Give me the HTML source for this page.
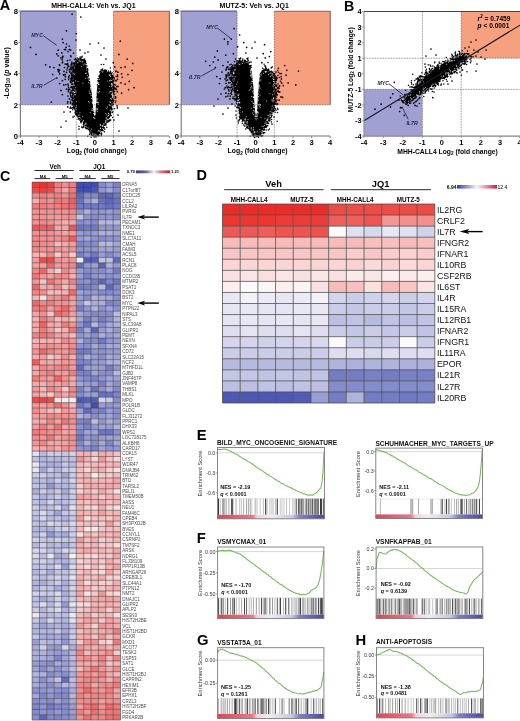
<!DOCTYPE html>
<html><head><meta charset="utf-8"><style>
html,body{margin:0;padding:0;background:#fff;}
svg{display:block;font-family:"Liberation Sans",sans-serif;filter:blur(0.5px);}
</style></head><body>
<svg width="520" height="721" viewBox="0 0 520 721">
<rect width="520" height="721" fill="#fff"/>
<rect x="20.4" y="11.2" width="55.9" height="93.6" fill="#a0a0d2"/>
<rect x="113.5" y="11.2" width="55.9" height="93.6" fill="#f7a080"/>
<path d="M20.4 11.2H76.3" stroke="#5a5a8a" stroke-width="1.3"/>
<path d="M113.5 11.2H169.4V104.8" stroke="#8a6050" stroke-width="1.1" fill="none"/>
<path d="M20.4 104.8H169.4M76.3 136.0V11.2M113.5 136.0V11.2" stroke="#333" stroke-width="0.6" stroke-dasharray="0.8 0.8" fill="none"/>
<path d="M95.0 136.5L91.0 132.0L85.5 125.5L80.0 118.0L76.0 112.5L74.0 100.0L72.8 87.5L72.2 75.0L73.0 68.0L75.0 63.5L78.5 60.5L82.0 60.0L84.8 61.5L86.4 65.0L88.9 74.6L91.2 87.5L92.4 100.0L93.3 110.0L94.2 116.0L94.8 118.0L95.4 114.0L96.0 105.0L96.7 92.0L98.4 76.0L100.5 72.0L103.5 70.5L107.0 71.0L110.0 73.5L111.8 78.0L112.5 87.5L112.2 100.0L110.5 112.5L104.5 125.0L99.5 131.5Z" fill="#000"/>
<path d="M98.6 130.3h0M108.5 115.5h0M92.2 102.1h0M110.9 76.3h0M74.6 92.7h0M75.9 92.2h0M109.1 75.0h0M104.7 124.1h0M78.6 115.6h0M100.5 124.3h0M79.9 112.9h0M103.8 123.9h0M74.3 74.4h0M102.7 126.9h0M92.6 103.3h0M100.3 125.4h0M111.9 83.9h0M110.1 91.2h0M111.8 98.2h0M82.9 83.2h0M98.3 77.6h0M97.2 102.2h0M98.1 84.5h0M82.6 116.3h0M102.0 126.0h0M88.3 128.5h0M105.3 122.2h0M98.6 83.0h0M107.4 71.4h0M74.1 98.4h0M86.0 123.6h0M102.5 125.9h0M74.9 89.6h0M100.5 128.4h0M110.6 76.1h0M82.9 121.3h0M89.4 93.1h0M83.0 61.5h0M105.8 120.6h0M74.7 94.7h0M82.1 62.0h0M89.9 80.5h0M94.1 134.6h0M87.7 128.0h0M75.3 94.8h0M98.6 77.7h0M110.8 105.7h0M80.1 60.3h0M109.9 101.9h0M91.2 87.8h0M83.3 122.3h0M85.7 123.2h0M90.5 84.1h0M76.9 113.0h0M106.8 114.9h0M96.8 99.0h0M106.8 118.1h0M93.7 113.4h0M78.0 81.4h0M110.7 102.2h0M111.6 94.3h0M95.7 134.4h0M92.2 102.6h0M91.0 89.9h0M86.7 67.7h0M86.4 66.7h0M73.1 88.0h0M75.5 87.7h0M88.0 78.3h0M74.0 85.5h0M83.8 64.9h0M92.2 110.4h0M87.0 70.6h0M97.6 109.7h0M95.9 108.9h0M85.7 64.3h0M98.9 79.1h0M98.1 131.3h0M96.6 95.2h0M80.4 60.9h0M106.1 120.6h0M96.0 110.9h0M91.8 110.0h0M97.7 83.5h0M89.2 102.8h0M96.7 108.9h0M98.1 102.9h0M89.2 91.1h0M109.0 115.1h0M109.7 86.5h0M91.6 98.6h0M102.5 125.8h0M72.8 82.2h0M111.9 83.7h0M90.3 86.9h0M75.4 107.4h0M92.2 133.2h0M98.1 102.5h0M88.8 79.9h0M109.2 92.9h0M89.6 80.5h0M106.9 119.3h0M111.8 91.3h0M79.8 115.0h0M111.0 102.5h0M89.3 76.8h0M94.8 118.6h0M76.2 109.9h0M102.8 72.1h0M73.8 91.9h0M106.1 121.3h0M111.5 84.2h0M97.2 92.1h0M105.7 122.0h0M111.0 80.1h0M112.2 95.2h0M94.2 118.3h0M73.4 82.3h0M93.3 117.5h0M108.4 113.3h0M72.8 73.7h0M107.3 116.4h0M107.5 107.1h0M83.3 120.5h0M81.4 66.7h0M94.0 133.8h0M84.9 63.7h0M90.6 88.9h0M109.7 75.4h0M100.0 130.4h0M75.7 80.8h0M110.1 74.4h0M89.2 77.7h0M74.2 65.9h0M90.5 87.6h0M100.4 128.2h0M108.6 113.5h0M98.9 84.1h0M81.6 119.6h0M99.2 74.5h0M99.5 91.4h0M77.8 62.8h0M72.8 81.9h0M109.7 80.9h0M106.0 117.9h0M105.8 113.7h0M97.1 102.5h0M112.2 92.2h0M85.3 78.2h0M89.2 77.5h0M98.7 92.8h0M73.8 84.8h0M91.5 91.1h0M88.7 101.5h0M108.7 115.8h0M94.7 135.9h0M106.8 108.7h0M112.0 84.0h0M112.0 85.5h0M88.8 128.2h0M77.8 62.0h0M88.7 82.4h0M74.6 92.4h0M92.7 108.6h0M73.0 79.1h0M110.0 80.6h0M85.5 73.5h0M90.2 112.5h0M90.1 83.1h0M85.8 124.5h0M90.4 83.3h0M111.5 86.7h0M97.5 111.7h0M79.5 61.0h0M109.3 105.4h0M96.8 101.3h0M73.8 73.3h0M91.6 132.1h0M110.1 110.2h0M90.3 130.4h0M73.4 92.0h0M95.7 114.1h0M76.2 107.3h0M100.2 124.7h0M97.7 99.0h0M91.1 95.5h0M75.7 63.7h0M103.8 125.1h0M87.5 75.6h0M96.5 102.6h0M107.8 81.2h0M90.3 93.7h0M79.9 117.6h0M73.2 83.7h0M75.8 91.1h0M72.7 82.6h0M98.0 82.4h0M86.8 69.0h0M97.7 85.6h0M98.1 104.3h0M74.9 64.7h0M97.3 108.8h0M72.9 85.1h0M98.8 84.5h0M91.3 88.6h0M96.4 100.0h0M73.1 82.6h0M73.5 92.2h0M99.0 88.6h0M90.8 85.4h0M110.6 98.5h0M111.5 99.4h0M89.1 77.7h0M74.4 67.9h0M80.5 61.0h0M111.4 80.6h0M110.5 91.7h0M86.6 73.2h0M109.1 104.6h0M99.3 79.3h0M76.3 101.7h0M88.3 77.0h0M74.4 92.4h0M76.4 105.8h0M102.8 71.1h0M110.6 109.9h0M91.4 129.2h0" stroke="#fff" stroke-width="0.9" stroke-linecap="round"/>
<path d="M72.2 93.2h0M98.4 134.5h0M111.1 109.1h0M106.7 127.2h0M72.8 67.5h0M86.6 128.4h0M109.7 116.8h0M115.4 88.9h0M108.5 118.2h0M109.2 116.9h0M113.2 77.7h0M104.1 127.4h0M84.2 60.4h0M103.5 126.9h0M86.0 128.4h0M111.9 102.5h0M101.4 134.4h0M91.6 134.5h0M110.9 74.1h0M73.3 104.7h0M103.4 127.9h0M113.6 81.2h0M94.2 136.5h0M70.7 82.8h0M110.8 112.1h0M72.4 95.2h0M70.7 82.1h0M76.9 115.2h0M114.6 91.8h0M103.7 64.6h0M77.9 117.1h0M68.6 79.7h0M70.8 78.5h0M83.5 60.3h0M74.1 64.1h0M109.7 116.1h0M97.4 134.0h0M72.4 84.3h0M104.9 125.1h0M98.6 133.8h0M79.8 120.0h0M113.3 81.4h0M72.0 80.1h0M102.9 127.6h0M92.4 135.5h0M93.8 136.8h0M74.3 104.1h0M70.7 95.5h0M114.0 77.5h0M99.1 133.4h0M72.2 77.2h0M89.7 131.3h0M74.0 107.8h0M83.9 60.9h0M113.1 81.6h0M96.1 136.6h0M116.2 76.5h0M112.7 75.9h0M109.4 116.0h0M110.5 113.8h0M113.4 81.1h0M112.1 72.7h0M80.7 122.0h0M71.2 74.9h0M100.9 130.7h0M104.0 70.5h0M94.0 136.5h0M88.6 129.2h0M101.7 133.9h0M85.2 125.7h0M113.4 87.9h0M77.3 61.2h0M70.2 68.7h0M106.8 122.1h0M100.7 71.3h0M72.0 84.2h0M77.4 115.7h0M112.7 87.0h0M112.4 100.3h0M70.3 93.9h0M75.5 110.8h0M85.3 62.1h0M89.0 129.8h0M72.6 100.6h0M113.3 89.2h0M74.3 101.9h0M71.1 80.2h0M114.2 87.3h0M73.1 63.7h0M73.1 97.8h0M97.9 80.8h0M98.4 133.5h0M83.2 60.1h0M74.2 116.3h0M111.6 75.2h0M115.4 102.4h0M71.8 78.0h0M94.3 116.2h0M78.7 116.6h0M81.9 126.7h0M88.5 129.5h0M112.9 77.3h0M112.2 109.0h0M108.8 121.6h0M70.8 80.3h0M72.4 70.9h0M72.6 84.0h0M115.8 97.7h0M85.5 62.7h0M73.4 108.0h0M73.2 93.7h0M73.2 92.9h0M72.3 81.5h0M74.6 105.2h0M81.4 120.8h0M72.8 88.8h0M84.3 58.9h0M112.1 105.0h0M99.1 132.3h0M81.7 121.6h0M92.1 134.9h0M73.7 100.9h0M73.9 102.6h0M112.7 112.1h0M72.3 97.7h0M72.8 93.7h0M75.5 113.7h0M69.3 75.4h0M72.9 89.8h0M70.4 67.0h0M71.9 86.8h0M88.3 128.9h0M75.4 113.0h0M93.7 112.4h0M112.9 89.3h0M72.2 80.2h0M86.9 66.0h0M83.1 60.0h0M114.8 87.7h0M115.1 98.5h0M73.0 93.1h0M71.0 99.9h0M110.6 71.3h0M110.6 119.9h0M102.7 127.4h0M72.1 66.8h0M83.8 125.1h0M78.0 60.8h0M80.8 121.2h0M72.2 75.6h0M99.2 132.8h0M71.7 74.1h0M81.0 122.8h0M113.7 93.2h0M112.7 117.5h0M110.2 114.2h0M76.1 113.9h0M80.3 59.9h0M71.8 82.5h0M72.4 96.1h0M91.1 133.6h0M75.7 58.5h0M72.8 68.7h0M113.2 86.0h0M77.3 114.9h0M82.9 127.8h0M105.7 70.2h0M112.7 100.6h0M114.3 79.1h0M99.2 135.8h0M112.7 77.3h0M91.3 135.1h0M101.4 129.4h0M74.3 65.0h0M78.2 60.0h0M113.7 84.6h0M112.9 90.2h0M111.5 77.1h0M69.2 69.7h0M76.5 61.4h0M113.3 85.9h0M81.8 127.3h0M71.0 90.9h0M91.2 132.2h0M76.2 62.4h0M95.7 135.8h0M103.1 130.5h0M75.0 112.2h0M108.6 116.7h0M75.9 114.8h0M101.1 135.7h0M96.0 137.0h0M102.7 69.1h0M80.0 59.9h0M112.6 99.5h0M100.8 131.0h0M93.6 135.1h0M110.2 72.7h0M100.8 71.2h0M80.8 60.0h0M113.4 104.4h0M112.5 77.8h0M112.0 79.6h0M72.2 104.9h0M80.9 119.3h0M81.8 57.8h0M86.1 63.6h0M109.2 117.2h0M75.3 63.2h0M75.0 109.0h0M112.5 112.6h0M89.9 131.1h0M72.0 66.6h0M73.6 98.6h0M84.1 60.4h0M105.0 125.2h0M83.6 123.7h0M72.5 88.4h0M74.7 64.1h0M71.3 69.0h0M110.2 120.6h0M74.0 108.2h0M87.8 70.4h0M91.3 132.6h0M112.8 81.8h0M83.4 124.7h0M72.7 109.7h0M98.2 136.1h0M115.4 85.0h0M110.5 113.6h0M109.9 119.7h0M101.2 64.5h0M78.9 118.2h0M71.9 78.8h0M112.0 78.7h0M113.8 91.1h0M109.6 120.6h0M74.3 62.9h0M83.5 60.2h0M112.1 79.4h0M82.2 56.3h0M83.4 122.7h0M110.2 73.5h0M71.7 108.3h0M115.3 80.4h0M72.8 89.8h0M81.0 121.8h0M72.1 71.1h0M70.9 97.1h0M80.0 59.7h0M104.8 129.3h0M72.7 103.4h0M94.3 137.0h0M102.3 69.4h0M102.3 129.7h0M83.9 125.0h0M87.8 70.1h0M79.0 126.6h0M75.5 112.3h0M106.0 124.2h0M80.6 58.7h0M79.7 59.0h0M97.1 135.2h0M73.9 103.1h0M77.6 57.9h0M107.9 122.1h0M72.4 90.8h0M109.8 72.5h0M70.0 72.0h0M100.0 133.3h0M90.0 132.9h0M110.4 68.0h0M110.1 72.3h0M85.6 61.2h0M81.9 120.8h0M108.4 71.1h0M70.6 92.4h0M110.7 112.1h0M74.7 107.5h0M104.4 131.7h0M71.3 67.2h0M76.8 114.9h0M94.3 136.5h0M112.6 89.9h0M113.1 99.5h0M99.6 72.1h0M101.0 70.1h0M99.8 133.5h0M72.5 67.4h0M87.8 70.1h0M112.3 102.4h0M112.9 76.5h0M112.8 92.0h0M91.7 133.0h0M86.0 63.4h0M111.7 77.5h0M72.2 77.4h0M72.4 98.6h0M85.0 61.0h0M91.1 137.3h0M81.5 57.0h0M102.2 129.2h0M73.1 97.5h0M72.3 98.9h0M72.8 97.8h0M112.8 101.0h0M85.0 61.7h0M80.3 59.5h0M71.8 84.6h0M75.6 61.2h0M113.8 91.2h0M112.3 82.2h0M114.3 88.9h0M75.4 62.4h0M81.5 59.9h0M111.2 115.5h0M73.6 66.3h0M110.2 113.5h0M80.1 57.0h0M74.3 102.1h0M89.5 134.4h0M77.0 114.2h0M113.9 94.5h0M70.7 64.9h0M75.6 111.8h0M98.1 78.4h0M114.7 94.6h0M95.3 136.2h0M70.6 107.0h0M113.2 80.5h0M87.7 136.3h0M72.8 87.0h0M78.4 58.9h0M101.5 133.0h0M72.6 87.8h0M102.3 70.5h0M80.8 119.4h0M111.7 106.0h0M77.6 58.1h0M112.3 98.7h0M113.7 100.4h0M112.8 100.3h0M110.6 114.9h0M75.0 106.5h0M111.5 75.5h0M76.1 62.2h0M73.1 93.2h0M73.5 106.6h0M108.0 120.3h0M72.1 73.2h0M106.0 123.2h0M81.0 121.0h0M90.0 130.9h0M108.5 72.2h0M105.8 125.0h0M113.7 86.4h0M89.8 131.0h0M76.9 59.9h0M87.1 128.1h0M114.7 108.8h0M78.8 118.7h0M74.9 105.8h0M71.6 64.1h0M73.0 102.3h0M73.9 100.5h0M85.5 62.0h0M78.0 60.8h0M106.0 123.9h0M71.3 92.7h0M111.8 110.1h0M73.6 103.4h0M74.9 109.6h0M113.0 75.2h0M82.0 59.4h0M106.9 121.1h0M73.8 98.6h0M76.9 114.5h0M70.7 81.8h0M70.4 81.4h0M110.9 112.0h0M108.4 117.7h0M71.4 77.0h0M69.5 71.9h0M72.3 99.3h0M71.0 87.5h0M78.2 119.3h0M112.7 80.2h0M106.3 70.8h0M112.2 103.6h0M113.5 101.8h0M78.1 60.1h0M105.3 70.3h0M86.3 128.5h0M81.7 121.3h0M85.5 127.4h0M76.7 113.6h0M114.7 84.8h0M72.0 65.0h0M104.1 127.9h0M71.9 69.1h0M111.6 107.7h0M105.3 124.0h0M108.7 117.7h0M112.3 100.7h0M111.5 73.9h0M91.4 133.6h0M79.4 118.5h0M72.2 90.4h0M72.1 79.0h0M87.5 128.8h0M112.6 82.6h0M74.1 101.8h0M115.8 101.0h0M72.7 94.9h0M69.9 71.2h0M98.1 133.4h0M112.9 101.9h0M80.1 58.0h0M75.9 59.4h0M113.8 97.1h0M108.7 121.4h0M71.7 75.4h0M76.7 115.3h0M73.4 63.1h0M108.2 118.4h0M72.6 107.8h0M75.0 106.7h0M112.7 78.2h0M111.2 108.6h0M73.1 102.0h0M97.4 84.9h0M111.9 76.9h0M85.1 60.3h0M115.7 89.0h0M71.7 96.9h0M112.9 82.5h0M71.9 61.9h0M102.1 130.4h0M91.3 132.8h0M74.6 59.6h0M74.2 63.7h0M104.5 125.3h0M83.8 126.9h0M83.8 124.9h0M71.7 90.8h0M72.1 73.0h0M106.3 70.4h0M85.4 125.6h0M71.5 73.0h0M104.9 70.0h0M110.7 112.6h0M83.6 126.4h0M85.6 127.5h0M87.5 68.8h0M111.5 73.4h0" stroke="#000" stroke-width="1.5" stroke-linecap="round"/>
<path d="M72.1 14.2h0M66.5 30.8h0M76.3 33.6h0M62.4 39.1h0M63.1 42.6h0M66.5 44.0h0M69.3 46.0h0M30.5 47.4h0M58.2 50.2h0M64.5 49.5h0M68.0 51.6h0M70.7 50.2h0M36.0 54.4h0M58.2 55.8h0M62.4 57.8h0M70.7 55.8h0M73.5 53.0h0M45.7 64.8h0M49.9 66.9h0M54.0 67.6h0M59.6 65.5h0M62.4 62.7h0M65.2 64.0h0M58.2 69.6h0M52.7 74.5h0M59.6 73.8h0M63.8 75.2h0M66.5 72.4h0M56.8 78.0h0M62.4 80.7h0M65.2 79.3h0M59.6 83.5h0M63.8 84.9h0M61.0 90.4h0M66.5 89.0h0M62.4 94.6h0M68.0 96.0h0M51.3 102.2h0M69.3 98.8h0M120.3 41.2h0M118.9 54.4h0M127.2 59.2h0M132.7 63.4h0M121.0 67.6h0M125.1 66.9h0M132.0 70.3h0M116.1 71.0h0M121.6 73.8h0M127.9 74.5h0M122.3 77.3h0M117.5 75.2h0M116.1 80.7h0M121.0 82.8h0M129.3 81.4h0M125.1 84.2h0M134.1 87.7h0M128.6 89.7h0M121.6 93.2h0M114.7 66.9h0M113.3 62.7h0M117.5 79.3h0M80.8 17.0h0M90.0 44.0h0M98.5 43.0h0M104.0 48.0h0M80.0 50.0h0M85.0 53.0h0M76.0 40.0h0M88.0 52.0h0M101.0 55.0h0M106.0 59.0h0M64.0 112.0h0M66.0 121.0h0M70.0 108.0h0M73.0 117.0h0M61.0 127.0h0M79.0 129.0h0M118.0 115.0h0M114.0 120.0h0M128.0 108.0h0M119.0 131.0h0M70.0 60.0h0M68.0 66.0h0M67.0 70.0h0M69.0 78.0h0M68.0 84.0h0M65.9 84.6h0M71.4 78.9h0M68.4 91.6h0M68.7 76.8h0M67.8 101.8h0M67.5 103.0h0M67.8 106.9h0M70.6 102.0h0M68.7 66.6h0M67.3 68.0h0M71.7 63.2h0M71.2 87.2h0M65.4 76.7h0M67.6 63.5h0M70.1 92.8h0M70.3 111.8h0M68.3 85.8h0M70.5 107.9h0M70.6 103.2h0M68.6 87.8h0M70.9 69.4h0M69.8 89.3h0M68.3 89.8h0M71.1 73.2h0M67.9 65.1h0M58.4 71.1h0M60.8 58.0h0M66.6 64.4h0M62.2 59.8h0M67.5 60.6h0M64.5 67.5h0M66.1 47.4h0M59.7 70.0h0M65.1 74.5h0M56.8 53.9h0M64.0 71.4h0M59.1 72.0h0M62.6 56.4h0M69.3 49.6h0M70.9 56.6h0M61.8 52.9h0M63.5 74.6h0M59.5 64.8h0M63.0 56.3h0M58.1 69.7h0M62.6 62.0h0M65.6 49.6h0M117.9 72.2h0M116.4 89.4h0M117.7 86.3h0M117.5 76.4h0M118.0 86.5h0M113.1 83.8h0M115.8 71.4h0M112.4 76.8h0M113.4 81.0h0M116.7 86.6h0M117.1 105.9h0M117.4 107.9h0M115.5 96.8h0M117.3 91.7h0" stroke="#000" stroke-width="1.7" stroke-linecap="round"/>
<path d="M20.4 11.2V136.0H169.4" stroke="#777" stroke-width="1.1" fill="none"/>
<path d="M20.4 136.0v2M39.0 136.0v2M57.7 136.0v2M76.3 136.0v2M94.9 136.0v2M113.5 136.0v2M132.2 136.0v2M150.8 136.0v2M169.4 136.0v2M20.4 136.0h-2M20.4 104.8h-2M20.4 73.6h-2M20.4 42.4h-2M20.4 11.2h-2" stroke="#777" stroke-width="0.8"/>
<text x="20.4" y="144.6" font-size="7.6" font-weight="bold" text-anchor="middle" fill="#000">-4</text>
<text x="39.0" y="144.6" font-size="7.6" font-weight="bold" text-anchor="middle" fill="#000">-3</text>
<text x="57.7" y="144.6" font-size="7.6" font-weight="bold" text-anchor="middle" fill="#000">-2</text>
<text x="76.3" y="144.6" font-size="7.6" font-weight="bold" text-anchor="middle" fill="#000">-1</text>
<text x="94.9" y="144.6" font-size="7.6" font-weight="bold" text-anchor="middle" fill="#000">0</text>
<text x="113.5" y="144.6" font-size="7.6" font-weight="bold" text-anchor="middle" fill="#000">1</text>
<text x="132.2" y="144.6" font-size="7.6" font-weight="bold" text-anchor="middle" fill="#000">2</text>
<text x="150.8" y="144.6" font-size="7.6" font-weight="bold" text-anchor="middle" fill="#000">3</text>
<text x="169.4" y="144.6" font-size="7.6" font-weight="bold" text-anchor="middle" fill="#000">4</text>
<text x="18.1" y="138.7" font-size="7.6" font-weight="bold" text-anchor="end" fill="#000">0</text>
<text x="18.1" y="107.5" font-size="7.6" font-weight="bold" text-anchor="end" fill="#000">2</text>
<text x="18.1" y="76.3" font-size="7.6" font-weight="bold" text-anchor="end" fill="#000">4</text>
<text x="18.1" y="45.1" font-size="7.6" font-weight="bold" text-anchor="end" fill="#000">6</text>
<text x="18.1" y="13.9" font-size="7.6" font-weight="bold" text-anchor="end" fill="#000">8</text>
<text x="93.4" y="7.6" font-size="7.0" font-weight="bold" text-anchor="middle" fill="#000">MHH-CALL4: Veh vs. JQ1</text>
<text x="96.8" y="153.4" font-size="6.85" font-weight="bold" text-anchor="middle" fill="#000">Log<tspan font-size="4.7" dy="1.5">2</tspan><tspan dy="-1.5"> (fold change)</tspan></text>
<text x="31.2" y="36.6" font-size="5.3" font-weight="bold" font-style="italic" text-anchor="start" fill="#2a2a48">MYC</text>
<path d="M43.2 35.6L56.8 45.4" stroke="#1a1a3a" stroke-width="0.8"/>
<text x="31.2" y="87.8" font-size="5.3" font-weight="bold" font-style="italic" text-anchor="start" fill="#2a2a48">IL7R</text>
<path d="M43.8 85.2L56.1 78.0" stroke="#1a1a3a" stroke-width="0.8"/>
<rect x="181.2" y="11.2" width="55.9" height="93.6" fill="#a0a0d2"/>
<rect x="274.3" y="11.2" width="55.9" height="93.6" fill="#f7a080"/>
<path d="M181.2 11.2H237.1" stroke="#5a5a8a" stroke-width="1.3"/>
<path d="M274.3 11.2H330.2V104.8" stroke="#8a6050" stroke-width="1.1" fill="none"/>
<path d="M181.2 104.8H330.2M237.1 136.0V11.2M274.3 136.0V11.2" stroke="#333" stroke-width="0.6" stroke-dasharray="0.8 0.8" fill="none"/>
<path d="M256.0 136.5L252.0 132.0L247.0 125.5L242.0 115.0L239.0 105.0L237.0 95.0L234.5 87.0L232.5 80.0L232.5 73.0L234.5 67.5L238.0 63.5L242.0 62.0L246.5 62.5L249.5 65.0L251.5 70.0L252.8 80.0L253.7 92.0L254.5 105.0L255.3 113.0L256.0 117.0L257.0 112.0L257.6 102.0L258.0 92.0L258.8 82.0L260.0 75.5L262.0 72.0L265.5 70.5L269.5 71.0L272.5 74.0L274.5 79.0L275.0 88.0L274.5 100.0L272.0 112.5L266.5 124.0L261.0 131.5Z" fill="#000"/>
<path d="M264.5 125.8h0M271.0 114.0h0M269.9 83.2h0M270.3 76.6h0M235.5 66.5h0M259.6 80.1h0M257.8 108.2h0M256.7 135.6h0M237.5 95.1h0M253.2 90.8h0M259.9 81.3h0M238.3 100.9h0M264.9 123.3h0M256.4 116.6h0M267.7 120.0h0M238.3 101.0h0M245.1 121.3h0M248.1 125.9h0M258.2 113.0h0M274.0 79.2h0M263.1 71.6h0M251.0 73.6h0M272.6 76.0h0M258.3 105.0h0M251.9 74.2h0M259.0 91.9h0M273.3 99.1h0M251.6 131.1h0M235.6 66.7h0M264.9 71.6h0M273.5 79.5h0M267.7 120.3h0M237.5 90.4h0M273.6 77.5h0M254.6 107.5h0M257.7 114.8h0M273.7 81.5h0M252.0 77.7h0M260.1 104.3h0M239.5 64.3h0M239.0 103.6h0M256.8 135.6h0M256.1 116.5h0M252.0 101.6h0M251.6 81.4h0M245.7 119.8h0M261.3 75.0h0M260.4 75.5h0M267.0 119.6h0M268.6 74.7h0M273.8 84.7h0M263.4 73.3h0M251.1 128.1h0M253.7 93.9h0M240.4 107.8h0M240.1 107.6h0M245.7 122.5h0M257.5 116.2h0M253.6 110.6h0M257.1 118.4h0M253.4 107.4h0M250.9 72.1h0M246.3 116.7h0M254.4 132.2h0M247.2 123.8h0M271.1 75.3h0M238.8 103.1h0M253.7 114.6h0M258.8 96.5h0M274.3 83.0h0M260.2 88.2h0M258.7 84.8h0M257.5 131.2h0M254.1 112.0h0M233.9 73.6h0M273.4 87.9h0M233.9 72.9h0M260.7 74.9h0M253.4 106.0h0M269.0 71.0h0M239.7 102.5h0M238.6 100.3h0M253.5 97.0h0M248.0 119.6h0M247.3 125.6h0M257.8 99.1h0M258.1 104.4h0M257.8 111.8h0M271.9 108.9h0M270.9 114.6h0M272.1 106.4h0M261.9 126.1h0M260.9 80.0h0M273.1 100.6h0M237.8 63.9h0M234.1 78.7h0M272.9 105.4h0M273.2 101.9h0M258.1 94.6h0M250.4 72.2h0M259.3 106.2h0M250.3 75.4h0M258.2 93.5h0M268.8 115.7h0M253.7 97.5h0M251.0 76.3h0M265.9 71.8h0M235.1 76.8h0M269.9 116.1h0M266.3 122.6h0M244.8 119.3h0M233.4 71.3h0M246.1 123.3h0M242.5 111.9h0M272.9 78.4h0M235.4 69.7h0M272.0 99.7h0M272.1 110.8h0M237.7 82.1h0M274.3 79.7h0M244.5 119.7h0M271.9 112.3h0M254.5 131.8h0M273.9 84.2h0M239.9 102.7h0M232.9 76.3h0M254.9 110.8h0M236.8 84.2h0M258.9 85.8h0M235.2 86.6h0M273.6 91.1h0M238.6 97.6h0M253.8 129.8h0M253.3 103.5h0M234.6 70.1h0M272.3 73.9h0M245.7 118.8h0M232.6 77.1h0M238.0 95.0h0M268.0 71.0h0M253.7 132.1h0M274.1 97.8h0M247.2 121.8h0M258.6 86.4h0M255.8 116.2h0M274.2 94.1h0M252.2 88.0h0M252.7 79.8h0M270.5 72.4h0M273.5 77.1h0M256.1 119.8h0M246.7 124.8h0M274.0 98.6h0M238.3 95.7h0M251.2 69.5h0M258.5 100.3h0M265.0 118.7h0M266.1 71.2h0M264.3 125.8h0M234.3 69.7h0M260.3 131.4h0M258.4 87.5h0M258.6 96.9h0M261.2 73.5h0M251.6 96.7h0M269.9 93.6h0M250.7 129.8h0M246.3 123.0h0M260.1 75.9h0M247.6 122.0h0M253.7 92.8h0M259.8 129.6h0M253.1 96.8h0M260.6 74.9h0M250.9 69.3h0M257.3 112.7h0M239.1 94.2h0M233.8 72.3h0M251.6 86.3h0M252.4 91.8h0M251.3 130.1h0M258.2 90.2h0M233.7 72.5h0M265.4 71.7h0M251.2 108.2h0M266.6 101.0h0M259.8 104.8h0M265.8 121.8h0M239.3 99.3h0M233.6 73.2h0M260.7 74.6h0M254.1 104.0h0M261.0 117.5h0M250.0 67.2h0M253.0 103.1h0M255.3 118.2h0M232.5 75.5h0M254.7 134.1h0M260.0 95.1h0M255.0 134.8h0M242.3 63.5h0M252.4 81.6h0M269.9 114.1h0M250.8 87.7h0M259.1 85.1h0M274.2 85.7h0M251.6 74.9h0M233.7 82.1h0M251.9 76.9h0M250.3 83.9h0M240.0 64.0h0M273.4 98.1h0M254.1 99.4h0M267.9 118.3h0M265.8 72.4h0M267.9 115.3h0M258.8 90.0h0M253.4 127.8h0M244.4 62.8h0M237.8 63.8h0M257.9 112.4h0M273.0 86.3h0M274.1 81.2h0M258.6 88.6h0M234.1 80.0h0M238.1 95.4h0M249.2 90.4h0M253.9 97.6h0M269.1 118.2h0M271.1 72.8h0M272.4 94.9h0M233.6 81.7h0M266.3 71.0h0M266.9 120.5h0M251.1 70.4h0M252.6 113.0h0M257.6 111.8h0M270.2 111.6h0M255.9 132.1h0M272.2 100.9h0M263.2 126.5h0M233.6 73.5h0M233.1 73.7h0M259.1 132.6h0M266.2 123.7h0M252.0 83.2h0M260.2 107.6h0M250.4 70.5h0M259.3 86.8h0M253.2 129.8h0M270.0 73.6h0M251.2 75.3h0M253.3 97.6h0M239.1 102.0h0M250.2 89.1h0M260.6 105.2h0M251.3 127.9h0M255.0 116.3h0M243.8 118.4h0M273.8 98.0h0M274.4 90.5h0M252.9 81.6h0" stroke="#fff" stroke-width="0.9" stroke-linecap="round"/>
<path d="M278.0 75.5h0M275.4 80.8h0M265.6 66.0h0M240.3 114.2h0M262.8 70.5h0M273.0 109.0h0M264.7 126.7h0M271.6 113.6h0M243.0 120.7h0M236.0 95.5h0M232.9 83.7h0M269.6 119.9h0M231.8 73.7h0M274.0 108.1h0M234.2 65.1h0M265.2 70.1h0M248.0 57.9h0M267.2 125.8h0M268.3 130.0h0M239.5 108.2h0M241.8 61.2h0M274.6 99.1h0M231.3 69.9h0M239.1 58.8h0M271.6 119.6h0M277.6 87.4h0M242.5 60.9h0M258.2 136.4h0M242.0 118.6h0M229.2 77.4h0M262.2 70.7h0M242.0 119.2h0M265.4 125.8h0M263.7 70.5h0M258.1 136.4h0M233.6 69.6h0M244.5 61.8h0M233.0 82.1h0M231.4 69.0h0M275.9 82.6h0M265.4 70.1h0M236.3 98.5h0M274.7 101.6h0M256.4 136.4h0M275.5 101.5h0M262.7 71.7h0M239.0 120.7h0M233.1 82.5h0M250.0 65.5h0M279.2 88.3h0M230.4 78.9h0M240.7 111.6h0M231.8 94.5h0M234.8 100.1h0M236.0 93.1h0M247.0 61.6h0M246.7 125.0h0M251.3 131.3h0M246.7 127.4h0M253.1 133.5h0M240.9 112.1h0M275.5 89.9h0M275.8 90.8h0M269.9 120.6h0M241.3 112.7h0M265.9 70.6h0M232.6 89.8h0M251.3 132.7h0M265.8 125.6h0M272.9 111.5h0M231.9 75.7h0M278.5 72.2h0M239.4 116.2h0M259.5 133.2h0M272.0 115.6h0M267.4 125.7h0M260.9 131.8h0M273.9 104.3h0M241.0 114.9h0M274.6 106.6h0M230.2 73.3h0M240.7 115.6h0M249.2 62.8h0M269.4 118.4h0M251.0 65.4h0M235.5 59.1h0M275.4 95.1h0M231.3 92.8h0M243.0 117.2h0M257.2 135.8h0M239.4 113.0h0M263.3 71.3h0M234.5 88.2h0M275.3 95.2h0M239.2 112.9h0M241.4 113.7h0M276.0 89.7h0M242.9 59.1h0M232.4 74.9h0M238.4 105.4h0M241.8 117.0h0M273.3 109.6h0M238.9 107.3h0M231.6 66.5h0M242.5 119.3h0M236.8 64.6h0M231.2 72.0h0M265.1 127.3h0M231.6 71.2h0M265.4 126.9h0M276.1 94.4h0M236.7 107.2h0M257.0 136.0h0M274.6 96.9h0M272.0 115.5h0M242.6 120.0h0M238.8 108.0h0M275.5 90.0h0M239.6 59.9h0M233.1 82.7h0M244.1 61.9h0M274.0 102.9h0M254.1 136.4h0M237.9 104.8h0M233.0 71.2h0M275.8 79.9h0M244.8 62.3h0M274.4 110.6h0M261.1 133.5h0M236.5 97.7h0M239.2 119.7h0M233.6 67.2h0M236.9 95.0h0M232.2 73.4h0M242.1 115.5h0M234.6 67.2h0M234.0 88.3h0M243.5 125.1h0M233.6 69.3h0M244.9 126.3h0M236.3 118.0h0M275.0 98.2h0M237.2 98.0h0M251.5 131.7h0M231.2 67.7h0M240.5 58.7h0M234.8 92.8h0M276.8 94.5h0M250.2 136.2h0M238.2 61.3h0M239.9 114.1h0M277.1 121.2h0M247.0 127.1h0M267.3 123.6h0M240.6 110.9h0M273.3 111.5h0M247.3 126.6h0M232.1 68.6h0M270.4 71.4h0M247.3 127.0h0M275.0 94.9h0M249.1 128.6h0M234.8 89.6h0M250.7 66.8h0M240.3 109.7h0M274.7 95.4h0M247.8 61.7h0M235.0 66.8h0M270.1 118.9h0M268.0 62.5h0M261.4 72.7h0M262.5 129.8h0M271.9 113.7h0M274.3 107.0h0M241.2 117.6h0M263.6 132.6h0M266.0 126.8h0M247.8 63.3h0M275.5 90.7h0M242.5 60.3h0M240.0 110.4h0M267.5 123.0h0M233.2 84.8h0M250.2 130.0h0M230.4 87.5h0M232.3 78.0h0M269.6 120.6h0M276.1 93.2h0M239.7 117.5h0M234.7 89.1h0M245.7 129.0h0M275.1 80.4h0M254.0 134.5h0M231.5 77.7h0M242.4 116.1h0M278.3 91.1h0M235.4 90.6h0M245.4 61.8h0M237.2 99.2h0M231.4 84.4h0M233.0 83.1h0M268.7 70.8h0M228.2 69.0h0M259.4 135.0h0M272.7 72.4h0M238.2 120.9h0M274.0 77.7h0M229.5 75.2h0M239.1 62.8h0M275.0 101.6h0M234.1 98.6h0M235.9 65.0h0M263.0 129.7h0M232.7 71.1h0M230.5 79.9h0M268.6 120.3h0M264.7 127.0h0M232.3 82.2h0M232.5 69.3h0M275.0 78.4h0M265.7 125.3h0M237.0 95.9h0M276.9 95.1h0M271.1 67.9h0M277.8 88.4h0M233.5 85.9h0M229.8 74.7h0M274.7 98.4h0M250.2 129.8h0M276.5 80.3h0M230.8 79.2h0M261.8 72.1h0M275.2 94.3h0M274.5 75.8h0M275.0 84.6h0M274.4 103.4h0M230.6 71.5h0M244.3 60.3h0M266.2 130.0h0M240.7 61.4h0M264.8 132.7h0M248.2 60.4h0M232.5 68.0h0M242.2 121.2h0M232.8 98.5h0M273.4 111.1h0M269.0 70.8h0M262.7 135.5h0M266.4 126.7h0M235.2 98.9h0M266.2 127.6h0M237.4 63.8h0M241.4 115.0h0M272.8 112.0h0M276.5 92.6h0M267.9 70.8h0M236.2 61.1h0M277.5 108.2h0M235.6 94.9h0M233.5 70.3h0M237.3 97.5h0M243.1 118.8h0M267.8 121.9h0M235.2 91.8h0M238.0 63.3h0M262.2 71.6h0M245.0 122.4h0M238.8 105.4h0M268.0 122.9h0M265.3 69.7h0M230.1 69.6h0M277.5 112.4h0M256.9 136.2h0M268.6 70.2h0M273.1 111.7h0M249.7 62.2h0M233.4 68.5h0M250.8 131.0h0M237.9 105.9h0M230.2 82.5h0M235.5 91.6h0M267.7 125.7h0M265.7 67.6h0M245.3 60.4h0M233.6 68.0h0M271.5 72.0h0M279.4 77.4h0M258.5 137.3h0M240.9 61.6h0M237.8 107.7h0M244.2 120.7h0M240.0 110.0h0M238.6 103.5h0M264.7 66.0h0M235.5 99.2h0M236.5 103.5h0M237.3 99.5h0M275.7 99.9h0M275.3 100.2h0M239.5 62.2h0M269.6 118.2h0M232.7 72.1h0M278.0 87.9h0M271.6 115.7h0M239.4 110.0h0M236.1 100.2h0M273.7 110.3h0M261.7 136.4h0M264.2 127.9h0M261.1 135.9h0M266.4 68.5h0M276.7 85.4h0M259.7 135.6h0M246.4 124.7h0M250.4 66.0h0M257.6 136.3h0M240.7 113.8h0M245.6 123.0h0M275.8 90.9h0M267.6 122.3h0M242.3 123.2h0M239.2 60.7h0M237.3 99.0h0M247.3 128.1h0M251.1 67.6h0M268.7 69.3h0M262.2 70.8h0M248.2 63.1h0M236.7 96.0h0M273.0 73.2h0M250.0 130.8h0M241.8 115.8h0M275.9 103.8h0M276.4 97.3h0M238.3 62.4h0M258.7 134.3h0M233.5 98.5h0M232.0 86.7h0M265.7 69.1h0M247.9 63.6h0M266.4 70.1h0M260.8 132.0h0M234.7 91.8h0M233.2 70.0h0M231.3 64.3h0M252.7 132.9h0M275.5 79.3h0M231.7 85.1h0M240.6 58.0h0M246.9 58.8h0M270.9 117.2h0M275.7 103.3h0M231.7 81.5h0M276.4 79.3h0M240.3 62.6h0M240.7 118.1h0M232.0 86.8h0M241.9 116.5h0M240.8 116.6h0M265.2 69.5h0M267.1 123.0h0M234.5 67.4h0M276.1 93.0h0M273.7 108.9h0M262.2 131.9h0M272.4 111.0h0M277.6 70.6h0M230.7 71.9h0M275.7 100.7h0M247.8 127.9h0M261.0 135.2h0M228.9 69.6h0M257.6 136.2h0M271.5 67.5h0M250.7 66.2h0M269.5 129.1h0M240.1 61.0h0M233.0 67.9h0M264.6 127.5h0M275.1 112.2h0M239.9 60.5h0M260.6 73.6h0M250.7 66.5h0M243.5 118.7h0M271.3 71.3h0M232.1 68.6h0M229.8 64.8h0M260.1 75.0h0M271.4 72.0h0M273.5 105.2h0M242.1 117.4h0M240.0 119.0h0M248.0 63.6h0M251.5 132.2h0M253.3 135.5h0M244.8 123.8h0M275.0 78.1h0M275.7 82.7h0M228.3 86.9h0M234.8 96.3h0M271.4 116.9h0M274.7 73.8h0M230.8 77.7h0M275.7 104.1h0M268.9 120.8h0M274.9 95.1h0M270.7 71.9h0M231.8 67.4h0M232.2 81.2h0M268.4 70.7h0M260.2 132.7h0M233.1 69.4h0M274.5 103.0h0M273.8 74.1h0M236.9 63.4h0M266.8 69.7h0M232.4 88.2h0M270.8 71.5h0M275.8 92.0h0M276.3 101.8h0M236.6 101.4h0M235.9 64.8h0M253.3 135.7h0M264.0 130.3h0M274.6 97.3h0M267.6 70.4h0M244.4 61.1h0M245.9 61.7h0M235.2 106.1h0M249.2 129.3h0M271.4 122.1h0M267.5 123.0h0M262.7 71.4h0M263.9 69.1h0M231.4 78.3h0M275.6 86.0h0M242.4 117.9h0M253.3 134.8h0M272.8 71.9h0M274.2 104.0h0M244.9 122.3h0M250.9 130.7h0M239.5 111.5h0M233.0 96.9h0M264.5 129.6h0M264.4 70.7h0M273.4 105.9h0M262.5 68.3h0M235.0 66.1h0M275.5 76.1h0M237.1 97.2h0M233.8 90.4h0M237.6 61.0h0M270.4 71.4h0M232.4 67.1h0M277.1 100.0h0M274.1 77.0h0M254.5 137.4h0M250.3 130.3h0M263.1 70.7h0M276.3 97.6h0M240.5 113.5h0M240.8 114.0h0M276.3 97.6h0M245.9 123.5h0M236.4 94.8h0M240.6 111.7h0M275.6 96.4h0M236.6 63.3h0M247.8 59.4h0M275.6 81.1h0M278.1 87.6h0M272.3 67.1h0M258.5 134.9h0M245.6 123.3h0M239.1 110.6h0M274.7 80.4h0M268.6 123.5h0M267.9 69.6h0M264.0 129.2h0M275.1 90.3h0M272.8 110.5h0M264.1 64.3h0M268.7 70.0h0M254.5 135.8h0M276.3 86.6h0M234.4 90.8h0M243.9 119.7h0M231.0 72.5h0M229.4 75.3h0M236.2 65.5h0M230.9 79.3h0M231.5 87.3h0M238.4 123.1h0M229.6 78.8h0M271.4 114.0h0M274.3 74.9h0M274.2 104.0h0M236.0 111.1h0M268.0 123.3h0M265.8 68.5h0M232.3 77.6h0M244.8 126.0h0M238.3 104.2h0M233.9 90.2h0M252.2 135.0h0M239.2 109.3h0M234.3 87.1h0M275.1 94.9h0M263.1 133.4h0M277.6 87.5h0M235.1 94.6h0M260.2 75.2h0M240.2 114.6h0M236.8 62.9h0M275.3 108.7h0M267.6 122.5h0M260.4 134.1h0M277.0 78.2h0M270.5 117.5h0M277.9 109.4h0M270.9 72.3h0M238.9 104.6h0M238.1 101.5h0M231.7 80.5h0M262.6 71.3h0M239.1 61.6h0M274.7 80.3h0M234.9 90.0h0M273.5 75.5h0M234.3 61.8h0M267.7 70.1h0M276.1 85.3h0M269.5 121.0h0" stroke="#000" stroke-width="1.5" stroke-linecap="round"/>
<path d="M234.1 28.7h0M239.6 35.0h0M224.4 39.1h0M231.3 39.1h0M227.9 41.9h0M227.9 44.0h0M243.8 42.6h0M246.6 47.4h0M237.6 46.8h0M217.4 50.9h0M225.8 55.1h0M233.4 53.7h0M245.9 53.0h0M214.7 57.2h0M218.1 59.9h0M205.7 61.3h0M213.3 62.0h0M209.8 65.5h0M215.4 67.6h0M227.9 62.0h0M223.0 65.5h0M216.8 76.6h0M220.2 78.7h0M219.5 83.5h0M224.4 89.0h0M225.8 93.2h0M227.9 96.0h0M230.0 98.8h0M226.0 70.0h0M228.0 74.0h0M225.0 79.0h0M229.0 83.0h0M227.0 86.0h0M230.0 68.0h0M231.0 77.0h0M229.0 91.0h0M222.0 72.0h0M221.0 94.0h0M218.0 99.0h0M214.0 106.0h0M232.0 104.0h0M228.0 108.0h0M223.0 114.0h0M236.0 115.0h0M264.6 44.7h0M270.8 51.6h0M263.2 53.7h0M265.3 57.9h0M269.4 56.5h0M261.8 62.7h0M284.7 65.5h0M286.8 70.3h0M298.5 71.0h0M278.4 68.3h0M281.2 76.6h0M286.1 75.2h0M288.1 82.8h0M295.8 84.9h0M283.3 85.6h0M282.6 97.4h0M279.1 100.2h0M279.8 91.8h0M280.5 81.4h0M276.0 72.0h0M277.0 78.0h0M278.0 84.0h0M276.0 89.0h0M277.0 95.0h0M275.0 104.0h0M276.0 110.0h0M274.0 117.0h0M272.0 124.0h0M255.0 42.0h0M252.0 48.0h0M257.0 58.0h0M251.0 62.0h0M230.2 96.0h0M228.6 89.6h0M233.4 82.7h0M231.3 90.2h0M232.6 65.3h0M231.5 73.4h0M231.4 70.1h0M227.6 79.9h0M226.3 69.0h0M229.1 87.3h0M227.2 87.8h0M226.8 67.3h0M230.8 78.9h0M228.4 72.9h0M231.8 91.3h0M228.5 93.7h0M226.3 76.4h0M230.7 93.5h0M228.0 75.8h0M226.3 77.8h0M226.0 83.3h0M230.4 87.7h0M228.7 82.8h0M226.0 74.9h0M231.4 79.2h0M227.9 66.8h0M225.3 87.5h0M226.3 80.6h0M226.4 75.2h0M225.9 96.7h0M281.3 73.5h0M278.4 87.3h0M281.7 83.2h0M277.6 91.1h0M277.1 104.5h0M281.0 96.9h0M274.4 107.6h0M278.4 91.9h0M278.3 88.6h0M281.4 78.9h0M276.1 79.1h0M277.5 103.9h0M276.1 77.2h0M274.2 103.7h0M279.9 73.5h0M279.6 85.9h0M275.9 93.3h0M274.1 87.4h0" stroke="#000" stroke-width="1.7" stroke-linecap="round"/>
<path d="M181.2 11.2V136.0H330.2" stroke="#777" stroke-width="1.1" fill="none"/>
<path d="M181.2 136.0v2M199.8 136.0v2M218.5 136.0v2M237.1 136.0v2M255.7 136.0v2M274.3 136.0v2M293.0 136.0v2M311.6 136.0v2M330.2 136.0v2M181.2 136.0h-2M181.2 104.8h-2M181.2 73.6h-2M181.2 42.4h-2M181.2 11.2h-2" stroke="#777" stroke-width="0.8"/>
<text x="181.2" y="144.6" font-size="7.6" font-weight="bold" text-anchor="middle" fill="#000">-4</text>
<text x="199.8" y="144.6" font-size="7.6" font-weight="bold" text-anchor="middle" fill="#000">-3</text>
<text x="218.5" y="144.6" font-size="7.6" font-weight="bold" text-anchor="middle" fill="#000">-2</text>
<text x="237.1" y="144.6" font-size="7.6" font-weight="bold" text-anchor="middle" fill="#000">-1</text>
<text x="255.7" y="144.6" font-size="7.6" font-weight="bold" text-anchor="middle" fill="#000">0</text>
<text x="274.3" y="144.6" font-size="7.6" font-weight="bold" text-anchor="middle" fill="#000">1</text>
<text x="293.0" y="144.6" font-size="7.6" font-weight="bold" text-anchor="middle" fill="#000">2</text>
<text x="311.6" y="144.6" font-size="7.6" font-weight="bold" text-anchor="middle" fill="#000">3</text>
<text x="330.2" y="144.6" font-size="7.6" font-weight="bold" text-anchor="middle" fill="#000">4</text>
<text x="178.9" y="138.7" font-size="7.6" font-weight="bold" text-anchor="end" fill="#000">0</text>
<text x="178.9" y="107.5" font-size="7.6" font-weight="bold" text-anchor="end" fill="#000">2</text>
<text x="178.9" y="76.3" font-size="7.6" font-weight="bold" text-anchor="end" fill="#000">4</text>
<text x="178.9" y="45.1" font-size="7.6" font-weight="bold" text-anchor="end" fill="#000">6</text>
<text x="178.9" y="13.9" font-size="7.6" font-weight="bold" text-anchor="end" fill="#000">8</text>
<text x="254.2" y="7.6" font-size="7.0" font-weight="bold" text-anchor="middle" fill="#000">MUTZ-5: Veh vs. JQ1</text>
<text x="257.6" y="153.4" font-size="6.85" font-weight="bold" text-anchor="middle" fill="#000">Log<tspan font-size="4.7" dy="1.5">2</tspan><tspan dy="-1.5"> (fold change)</tspan></text>
<text x="206.2" y="28.7" font-size="5.3" font-weight="bold" font-style="italic" text-anchor="start" fill="#2a2a48">MYC</text>
<path d="M217.6 28.2L230.6 38.4" stroke="#1a1a3a" stroke-width="0.8"/>
<text x="189.0" y="78.9" font-size="5.3" font-weight="bold" font-style="italic" text-anchor="start" fill="#2a2a48">IL7R</text>
<path d="M201.5 75.9L215.4 68.3" stroke="#1a1a3a" stroke-width="0.8"/>
<text x="8.6" y="73" font-size="7.0" font-weight="bold" text-anchor="middle" fill="#000" transform="rotate(-90 8.6 73)">-Log<tspan font-size="5" dy="1.5">10</tspan><tspan dy="-1.5"> (</tspan><tspan font-style="italic">p</tspan> value)</text>
<text x="-0.3" y="10.2" font-size="14.5" font-weight="bold" text-anchor="start" fill="#000">A</text>
<rect x="364.0" y="89.4" width="58.3" height="46.7" fill="#a0a0d2"/>
<rect x="461.2" y="11.5" width="58.8" height="46.7" fill="#f7a080"/>
<path d="M364.0 89.4H519.6M364.0 58.2H519.6M422.4 136.1V11.5M461.2 136.1V11.5" stroke="#333" stroke-width="0.6" stroke-dasharray="0.8 0.8" fill="none"/>
<path d="M364.0 11.5H520" stroke="#444" stroke-width="1.1"/>
<path d="M404.0 102.0L408.0 96.5L412.0 91.0L417.0 84.5L422.0 78.5L428.0 73.0L434.0 68.5L440.0 65.0L446.0 62.0L452.0 58.5L458.0 55.5L463.0 54.0L467.0 55.0L468.5 58.0L466.0 61.5L461.0 65.0L455.0 69.5L448.0 74.5L441.0 79.5L434.0 84.5L427.0 89.5L421.0 93.5L415.0 97.5L410.0 100.5L406.0 103.5Z" fill="#000"/>
<path d="M461.5 55.6h0M420.6 82.1h0M451.0 61.3h0M423.3 89.7h0M450.3 71.9h0M454.3 60.5h0M464.2 56.0h0M419.4 91.5h0M429.7 73.4h0M455.8 57.3h0M417.2 95.3h0M446.1 72.7h0M408.7 101.1h0M440.6 73.9h0M467.9 58.5h0M443.3 76.7h0M449.8 60.2h0M427.8 73.4h0M422.7 78.7h0M458.2 66.9h0M462.9 63.0h0M446.7 64.3h0M460.0 65.3h0M431.5 85.7h0M427.9 74.9h0M450.3 70.7h0M448.6 62.2h0M443.6 75.9h0M451.6 60.5h0M448.3 72.9h0M418.1 83.7h0M411.4 91.9h0M454.6 57.8h0M404.8 101.5h0M448.1 72.9h0M427.6 73.6h0M431.7 70.4h0M458.5 55.8h0M416.4 96.2h0M405.6 100.3h0M427.1 88.4h0M460.5 65.3h0M466.4 54.9h0M439.5 68.7h0M423.7 78.0h0M441.2 76.1h0M463.5 60.0h0M422.8 91.7h0M460.8 64.1h0M463.7 62.4h0M454.1 58.1h0M432.9 69.6h0M442.6 78.0h0M419.8 83.0h0M449.0 73.4h0M458.0 57.2h0M430.9 71.8h0M419.8 81.9h0M414.9 97.1h0M410.7 97.8h0M455.4 69.2h0M420.6 80.7h0M419.5 92.9h0M410.8 94.3h0M459.8 55.3h0M456.7 66.4h0M423.6 77.8h0M408.7 95.6h0M405.9 102.8h0M444.0 76.4h0M416.5 94.9h0M465.4 55.1h0M414.1 97.6h0M466.0 60.3h0M454.5 68.8h0M445.9 75.0h0M412.0 99.1h0M447.2 73.2h0M433.6 84.7h0M457.7 56.0h0M445.5 73.8h0M461.2 63.2h0M449.8 59.8h0M452.4 60.8h0M460.5 63.2h0M426.3 89.6h0M433.1 69.7h0M424.2 88.6h0M410.2 95.3h0M439.8 66.8h0M436.0 83.1h0M460.3 64.6h0M461.6 63.8h0M458.5 55.6h0M423.1 88.0h0M411.2 98.6h0M417.8 95.3h0M439.7 66.4h0M422.7 84.8h0M424.2 90.6h0M423.7 77.1h0M449.3 61.4h0M422.1 80.2h0M423.7 81.9h0M418.5 83.8h0M463.0 62.4h0M462.2 54.6h0M425.7 87.4h0M450.2 59.9h0M415.1 89.0h0M440.1 65.3h0M413.6 97.6h0M449.4 60.2h0M428.3 73.0h0M460.2 54.9h0M432.9 84.1h0M442.2 78.3h0M456.5 65.3h0M467.5 56.8h0M449.6 69.7h0" stroke="#fff" stroke-width="0.9" stroke-linecap="round"/>
<path d="M413.6 98.5h0M467.3 54.0h0M445.6 77.2h0M426.5 72.0h0M413.8 87.5h0M443.8 61.8h0M430.3 71.1h0M407.9 94.7h0M442.8 61.4h0M401.9 101.0h0M432.4 91.6h0M456.7 69.8h0M429.1 71.7h0M411.3 82.4h0M465.3 62.7h0M420.7 94.2h0M470.9 58.8h0M439.4 81.0h0M420.6 75.7h0M430.2 88.7h0M418.5 78.0h0M414.0 87.7h0M445.8 76.1h0M409.9 101.2h0M420.8 79.0h0M435.5 67.4h0M425.3 66.9h0M417.3 82.7h0M432.7 86.5h0M447.8 60.0h0M434.2 88.0h0M456.8 70.5h0M451.8 54.2h0M450.8 58.8h0M415.8 98.1h0M432.1 88.9h0M409.4 93.2h0M415.0 98.0h0M409.0 94.6h0M409.6 101.8h0M462.9 63.9h0M418.5 78.9h0M425.5 72.8h0M404.6 94.4h0M444.0 77.9h0M457.7 55.1h0M411.7 84.1h0M447.1 81.2h0M453.5 56.7h0M473.1 56.8h0M433.6 85.2h0M459.9 52.3h0M458.9 51.2h0M456.2 55.8h0M467.7 53.8h0M446.2 76.1h0M421.9 72.8h0M464.8 64.2h0M428.2 64.8h0M425.9 70.8h0M434.9 62.0h0M417.5 78.9h0M414.6 102.6h0M459.4 51.7h0M458.7 67.5h0M469.9 59.3h0M466.6 53.5h0M417.6 78.0h0M414.3 98.0h0M464.8 54.0h0M446.3 57.6h0M434.6 62.8h0M430.9 66.2h0M465.3 63.3h0M407.5 103.0h0M436.9 82.6h0M457.4 55.0h0M452.3 73.8h0M436.2 83.0h0M423.8 96.4h0M408.0 102.6h0M418.7 79.7h0M469.2 56.1h0M409.7 103.3h0M444.5 77.0h0M421.7 76.8h0M468.4 54.2h0M459.8 53.3h0M403.3 102.1h0M431.2 69.3h0M406.6 97.6h0M460.9 65.5h0M416.4 96.7h0M435.0 85.7h0M418.8 98.8h0M412.9 100.5h0M422.6 76.8h0M423.2 93.2h0M445.8 60.8h0M449.8 74.8h0M445.5 76.4h0M444.8 62.3h0M455.5 71.4h0M459.0 68.8h0M406.8 104.3h0M417.6 81.3h0M461.3 64.9h0M427.7 89.4h0M450.3 58.7h0M434.2 85.4h0M450.9 73.2h0M446.4 76.5h0M416.0 79.0h0M455.0 52.9h0M461.3 75.2h0M429.5 69.7h0M402.7 100.7h0M451.9 73.4h0M454.1 71.4h0M429.4 68.4h0M421.6 76.2h0M455.0 56.0h0M455.4 69.4h0M419.4 103.5h0M418.4 80.2h0M404.9 95.6h0M462.6 70.0h0M409.9 101.1h0M454.5 72.3h0M441.3 84.0h0M420.7 80.1h0M457.8 55.2h0M405.0 96.9h0M415.1 86.4h0M435.4 86.5h0M438.5 85.1h0M444.2 78.0h0M411.2 90.9h0M405.2 99.0h0M412.9 89.7h0M416.0 83.8h0M421.9 93.0h0M433.2 86.2h0M439.1 62.1h0M450.7 58.4h0M467.0 71.7h0M444.5 77.9h0M408.5 85.3h0M423.5 77.0h0M450.6 77.1h0M434.6 84.8h0M417.7 100.1h0M405.7 90.3h0M428.4 89.1h0M455.9 69.6h0M402.7 102.3h0M451.2 73.1h0M412.8 74.3h0M457.8 54.7h0M431.3 89.2h0M461.7 54.0h0M430.7 65.9h0M459.8 66.4h0M443.8 83.9h0M441.1 63.2h0M407.0 102.7h0M414.7 80.4h0M405.2 99.7h0M470.5 62.7h0M453.0 72.8h0M409.9 87.1h0M408.8 94.0h0M437.1 66.5h0M410.8 103.1h0M401.4 100.1h0M455.5 52.1h0M438.0 64.4h0M462.3 53.4h0M406.8 104.0h0M444.3 78.8h0M425.5 72.5h0M426.3 72.3h0M416.8 78.9h0M461.3 54.2h0M426.8 72.9h0M464.0 63.4h0M455.5 54.1h0M447.3 77.0h0M466.9 61.7h0M404.2 100.4h0M444.5 61.8h0M439.6 81.2h0M419.3 76.2h0M437.1 83.8h0M425.0 90.9h0M437.4 84.2h0M459.7 54.5h0M432.5 68.5h0M413.5 103.3h0M415.9 84.9h0M443.6 77.8h0M426.4 69.2h0M440.1 80.9h0M457.7 54.2h0M451.9 56.1h0M426.7 90.6h0M437.2 65.5h0M456.5 72.8h0M435.9 85.3h0M428.5 90.9h0M471.5 57.1h0M414.1 87.4h0M461.2 65.0h0M464.0 54.0h0M418.9 80.5h0M413.0 99.6h0M434.3 67.0h0M430.1 65.1h0M446.4 79.5h0M417.4 84.0h0M431.4 69.9h0M453.2 57.1h0M427.6 73.2h0M419.0 79.4h0M438.2 83.5h0M444.9 62.3h0M455.6 55.0h0M416.5 101.1h0M432.8 66.0h0M405.6 104.1h0M407.4 97.1h0M419.2 79.6h0M425.0 93.2h0M424.5 74.3h0M460.4 66.0h0M443.0 80.7h0M438.2 65.7h0M439.4 63.3h0M406.3 94.2h0M461.4 67.7h0M470.8 56.6h0M414.7 87.5h0M454.4 71.7h0M447.9 76.4h0M411.5 80.7h0M419.9 77.5h0M407.5 96.1h0M425.2 92.4h0M411.2 86.9h0M465.0 62.9h0M459.6 53.5h0M467.5 51.0h0M454.5 72.7h0M434.0 92.0h0M450.1 73.7h0M413.0 87.6h0M413.4 84.7h0M451.1 72.6h0M400.2 95.9h0M419.8 94.8h0M403.9 102.9h0M464.1 63.9h0M412.3 90.5h0M419.7 80.3h0M413.9 98.7h0M466.6 64.4h0M405.7 99.4h0M468.9 53.8h0M438.6 81.6h0M426.0 74.0h0M447.4 75.0h0M458.6 67.3h0M451.8 74.0h0M439.5 81.5h0M467.6 61.4h0M452.2 57.9h0M462.2 50.7h0M412.0 86.8h0M456.9 68.1h0M425.8 72.8h0M457.3 72.9h0M411.7 100.7h0M417.4 82.3h0M422.1 76.6h0M446.9 75.9h0M452.6 55.6h0M411.1 89.6h0M437.7 82.8h0M410.1 101.6h0M442.7 78.6h0M451.2 73.0h0M420.7 76.4h0M420.9 79.5h0M465.0 53.4h0M425.9 91.4h0M409.8 93.4h0M451.0 73.2h0M454.7 71.6h0M406.5 98.4h0M418.9 81.4h0" stroke="#000" stroke-width="1.5" stroke-linecap="round"/>
<path d="M375.0 109.2h0M381.2 104.2h0M390.5 97.7h0M390.5 106.9h0M392.8 93.8h0M398.9 100.0h0M400.5 107.7h0M402.0 107.7h0M399.7 111.5h0M404.3 115.4h0M406.6 102.3h0M408.2 105.4h0M404.3 97.7h0M409.7 99.2h0M412.8 96.2h0M415.8 101.5h0M415.0 105.4h0M394.3 82.3h0M419.7 97.7h0M432.8 97.7h0M471.0 42.0h0M476.0 40.0h0M474.0 50.0h0M478.0 52.0h0M481.0 57.0h0M476.0 56.0h0M471.0 61.0h0M485.0 59.0h0M477.0 64.0h0M469.0 47.0h0M465.0 48.0h0M486.0 50.0h0M431.0 49.0h0M426.0 56.0h0M425.0 64.0h0M436.0 55.0h0M448.0 84.0h0M452.0 81.0h0M460.0 72.0h0M462.0 70.0h0M476.0 71.0h0M441.0 85.0h0M417.0 106.0h0" stroke="#000" stroke-width="1.7" stroke-linecap="round"/>
<path d="M364.0 120.8L520 25.1" stroke="#1a1a2a" stroke-width="1.1"/>
<path d="M364.0 11.5V136.1H520" stroke="#888" stroke-width="1.1" fill="none"/>
<path d="M364.0 136.1v2M364.0 136.1h-2M383.4 136.1v2M364.0 120.6h-2M402.9 136.1v2M364.0 105.0h-2M422.4 136.1v2M364.0 89.4h-2M441.8 136.1v2M364.0 73.8h-2M461.2 136.1v2M364.0 58.2h-2M480.7 136.1v2M364.0 42.7h-2M500.1 136.1v2M364.0 27.1h-2M519.6 136.1v2M364.0 11.5h-2" stroke="#888" stroke-width="0.8"/>
<text x="364.0" y="144.6" font-size="7.4" font-weight="bold" text-anchor="middle" fill="#000">-4</text>
<text x="361.7" y="138.8" font-size="7.4" font-weight="bold" text-anchor="end" fill="#000">-4</text>
<text x="383.4" y="144.6" font-size="7.4" font-weight="bold" text-anchor="middle" fill="#000">-3</text>
<text x="361.7" y="123.3" font-size="7.4" font-weight="bold" text-anchor="end" fill="#000">-3</text>
<text x="402.9" y="144.6" font-size="7.4" font-weight="bold" text-anchor="middle" fill="#000">-2</text>
<text x="361.7" y="107.7" font-size="7.4" font-weight="bold" text-anchor="end" fill="#000">-2</text>
<text x="422.4" y="144.6" font-size="7.4" font-weight="bold" text-anchor="middle" fill="#000">-1</text>
<text x="361.7" y="92.1" font-size="7.4" font-weight="bold" text-anchor="end" fill="#000">-1</text>
<text x="441.8" y="144.6" font-size="7.4" font-weight="bold" text-anchor="middle" fill="#000">0</text>
<text x="361.7" y="76.5" font-size="7.4" font-weight="bold" text-anchor="end" fill="#000">0</text>
<text x="461.2" y="144.6" font-size="7.4" font-weight="bold" text-anchor="middle" fill="#000">1</text>
<text x="361.7" y="60.9" font-size="7.4" font-weight="bold" text-anchor="end" fill="#000">1</text>
<text x="480.7" y="144.6" font-size="7.4" font-weight="bold" text-anchor="middle" fill="#000">2</text>
<text x="361.7" y="45.4" font-size="7.4" font-weight="bold" text-anchor="end" fill="#000">2</text>
<text x="500.1" y="144.6" font-size="7.4" font-weight="bold" text-anchor="middle" fill="#000">3</text>
<text x="361.7" y="29.8" font-size="7.4" font-weight="bold" text-anchor="end" fill="#000">3</text>
<text x="519.6" y="144.6" font-size="7.4" font-weight="bold" text-anchor="middle" fill="#000">4</text>
<text x="361.7" y="14.2" font-size="7.4" font-weight="bold" text-anchor="end" fill="#000">4</text>
<text x="447.6" y="153.6" font-size="6.75" font-weight="bold" text-anchor="middle" fill="#000">MHH-CALL4 Log<tspan font-size="4.7" dy="1.5">2</tspan><tspan dy="-1.5"> (fold change)</tspan></text>
<text x="353.0" y="69.8" font-size="6.7" font-weight="bold" text-anchor="middle" fill="#000" transform="rotate(-90 353.0 69.8)">MUTZ-5 Log<tspan font-size="4.7" dy="1.5">2</tspan><tspan dy="-1.5"> (fold change)</tspan></text>
<text x="477.6" y="21.0" font-size="6.6" font-weight="bold" text-anchor="start" fill="#000"><tspan font-style="italic">r</tspan><tspan font-size="4.6" dy="-2.6">2</tspan><tspan dy="2.6"> = 0.7459</tspan></text>
<text x="477.6" y="28.3" font-size="6.6" font-weight="bold" text-anchor="start" fill="#000"><tspan font-style="italic">p</tspan> &lt; 0.0001</text>
<text x="377.4" y="84.6" font-size="5.3" font-weight="bold" font-style="italic" text-anchor="start" fill="#2a2a48">MYC</text>
<path d="M389 83.8L402.8 94.6" stroke="#1a1a3a" stroke-width="0.8"/>
<text x="406.4" y="125.0" font-size="5.3" font-weight="bold" font-style="italic" text-anchor="start" fill="#2a2a48">IL7R</text>
<path d="M408.2 119.2L402.8 108.5" stroke="#1a1a3a" stroke-width="0.8"/>
<text x="344.0" y="10.8" font-size="14.2" font-weight="bold" text-anchor="start" fill="#000">B</text>
<path fill="#ec3f3f" d="M32.10 182.10h7.37v5.38h-7.37zM46.83 182.10h7.37v5.38h-7.37zM39.47 187.48h7.37v5.38h-7.37zM39.47 397.30h7.37v5.38h-7.37z"/>
<path fill="#eb3434" d="M39.47 182.10h7.37v5.38h-7.37z"/>
<path fill="#f07c7d" d="M54.20 182.10h7.37v5.38h-7.37zM68.93 182.10h7.37v5.38h-7.37zM68.93 187.48h7.37v5.38h-7.37zM39.47 192.86h7.37v5.38h-7.37zM54.20 192.86h7.37v5.38h-7.37zM61.57 198.24h7.37v5.38h-7.37zM32.10 203.62h7.37v5.38h-7.37zM39.47 203.62h7.37v5.38h-7.37zM54.20 203.62h7.37v5.38h-7.37z"/>
<path fill="#f29192" d="M61.57 182.10h7.37v5.38h-7.37zM61.57 192.86h7.37v5.38h-7.37zM46.83 198.24h7.37v5.38h-7.37zM32.10 209.00h7.37v5.38h-7.37zM39.47 209.00h7.37v5.38h-7.37zM46.83 209.00h7.37v5.38h-7.37zM54.20 209.00h7.37v5.38h-7.37zM61.57 209.00h7.37v5.38h-7.37zM32.10 214.38h7.37v5.38h-7.37zM39.47 214.38h7.37v5.38h-7.37zM61.57 214.38h7.37v5.38h-7.37zM68.93 214.38h7.37v5.38h-7.37zM32.10 219.76h7.37v5.38h-7.37zM46.83 219.76h7.37v5.38h-7.37zM32.10 230.52h7.37v5.38h-7.37zM39.47 230.52h7.37v5.38h-7.37zM46.83 230.52h7.37v5.38h-7.37zM39.47 235.90h7.37v5.38h-7.37zM46.83 235.90h7.37v5.38h-7.37zM54.20 235.90h7.37v5.38h-7.37zM46.83 241.28h7.37v5.38h-7.37zM39.47 246.66h7.37v5.38h-7.37zM46.83 246.66h7.37v5.38h-7.37zM54.20 246.66h7.37v5.38h-7.37zM68.93 246.66h7.37v5.38h-7.37zM54.20 257.42h7.37v5.38h-7.37zM68.93 257.42h7.37v5.38h-7.37zM54.20 295.08h7.37v5.38h-7.37zM61.57 300.46h7.37v5.38h-7.37zM54.20 429.58h7.37v5.38h-7.37zM83.67 671.68h7.37v5.38h-7.37z"/>
<path fill="#404db4" d="M76.30 182.10h7.37v5.38h-7.37zM83.67 182.10h7.37v5.38h-7.37zM91.03 182.10h7.37v5.38h-7.37zM76.30 187.48h7.37v5.38h-7.37zM83.67 187.48h7.37v5.38h-7.37z"/>
<path fill="#848cce" d="M98.40 182.10h7.37v5.38h-7.37zM113.13 187.48h7.37v5.38h-7.37zM83.67 192.86h7.37v5.38h-7.37zM91.03 192.86h7.37v5.38h-7.37zM91.03 214.38h7.37v5.38h-7.37zM113.13 214.38h7.37v5.38h-7.37zM76.30 219.76h7.37v5.38h-7.37zM91.03 219.76h7.37v5.38h-7.37zM98.40 235.90h7.37v5.38h-7.37zM83.67 241.28h7.37v5.38h-7.37zM91.03 241.28h7.37v5.38h-7.37zM83.67 268.18h7.37v5.38h-7.37zM113.13 397.30h7.37v5.38h-7.37z"/>
<path fill="#989ed5" d="M105.77 182.10h7.37v5.38h-7.37zM83.67 198.24h7.37v5.38h-7.37zM105.77 209.00h7.37v5.38h-7.37zM76.30 230.52h7.37v5.38h-7.37zM91.03 230.52h7.37v5.38h-7.37zM76.30 235.90h7.37v5.38h-7.37zM113.13 246.66h7.37v5.38h-7.37zM76.30 273.56h7.37v5.38h-7.37zM98.40 365.02h7.37v5.38h-7.37zM98.40 402.68h7.37v5.38h-7.37zM113.13 418.82h7.37v5.38h-7.37zM32.10 639.40h7.37v5.38h-7.37zM39.47 682.44h7.37v5.38h-7.37z"/>
<path fill="#7b83ca" d="M113.13 182.10h7.37v5.38h-7.37zM76.30 241.28h7.37v5.38h-7.37z"/>
<path fill="#ec4949" d="M32.10 187.48h7.37v5.38h-7.37zM46.83 187.48h7.37v5.38h-7.37zM39.47 257.42h7.37v5.38h-7.37zM46.83 257.42h7.37v5.38h-7.37zM32.10 397.30h7.37v5.38h-7.37zM46.83 397.30h7.37v5.38h-7.37z"/>
<path fill="#f18788" d="M54.20 187.48h7.37v5.38h-7.37zM32.10 192.86h7.37v5.38h-7.37zM46.83 192.86h7.37v5.38h-7.37zM39.47 198.24h7.37v5.38h-7.37zM46.83 203.62h7.37v5.38h-7.37zM68.93 209.00h7.37v5.38h-7.37zM39.47 219.76h7.37v5.38h-7.37zM32.10 235.90h7.37v5.38h-7.37zM61.57 235.90h7.37v5.38h-7.37zM32.10 241.28h7.37v5.38h-7.37zM39.47 241.28h7.37v5.38h-7.37zM32.10 246.66h7.37v5.38h-7.37zM113.13 677.06h7.37v5.38h-7.37z"/>
<path fill="#f4a6a7" d="M61.57 187.48h7.37v5.38h-7.37zM54.20 219.76h7.37v5.38h-7.37zM68.93 219.76h7.37v5.38h-7.37zM54.20 225.14h7.37v5.38h-7.37zM61.57 225.14h7.37v5.38h-7.37zM61.57 230.52h7.37v5.38h-7.37zM61.57 241.28h7.37v5.38h-7.37zM32.10 321.98h7.37v5.38h-7.37zM105.77 483.38h7.37v5.38h-7.37zM98.40 488.76h7.37v5.38h-7.37zM76.30 580.22h7.37v5.38h-7.37zM91.03 607.12h7.37v5.38h-7.37zM91.03 617.88h7.37v5.38h-7.37zM91.03 682.44h7.37v5.38h-7.37z"/>
<path fill="#4a56b7" d="M91.03 187.48h7.37v5.38h-7.37zM76.30 397.30h7.37v5.38h-7.37z"/>
<path fill="#8e95d1" d="M98.40 187.48h7.37v5.38h-7.37zM76.30 209.00h7.37v5.38h-7.37zM91.03 209.00h7.37v5.38h-7.37zM98.40 209.00h7.37v5.38h-7.37zM113.13 209.00h7.37v5.38h-7.37zM83.67 214.38h7.37v5.38h-7.37zM98.40 214.38h7.37v5.38h-7.37zM105.77 214.38h7.37v5.38h-7.37zM83.67 219.76h7.37v5.38h-7.37zM98.40 225.14h7.37v5.38h-7.37zM105.77 225.14h7.37v5.38h-7.37zM113.13 225.14h7.37v5.38h-7.37zM83.67 230.52h7.37v5.38h-7.37zM91.03 235.90h7.37v5.38h-7.37zM105.77 235.90h7.37v5.38h-7.37zM113.13 235.90h7.37v5.38h-7.37zM76.30 246.66h7.37v5.38h-7.37zM83.67 246.66h7.37v5.38h-7.37zM91.03 246.66h7.37v5.38h-7.37zM83.67 278.94h7.37v5.38h-7.37zM83.67 311.22h7.37v5.38h-7.37zM76.30 321.98h7.37v5.38h-7.37zM105.77 445.72h7.37v5.38h-7.37zM39.47 709.34h7.37v5.38h-7.37z"/>
<path fill="#a2a7d9" d="M105.77 187.48h7.37v5.38h-7.37zM113.13 230.52h7.37v5.38h-7.37zM83.67 235.90h7.37v5.38h-7.37zM113.13 241.28h7.37v5.38h-7.37zM98.40 246.66h7.37v5.38h-7.37zM105.77 246.66h7.37v5.38h-7.37zM76.30 311.22h7.37v5.38h-7.37zM113.13 332.74h7.37v5.38h-7.37zM105.77 381.16h7.37v5.38h-7.37zM39.47 467.24h7.37v5.38h-7.37zM39.47 596.36h7.37v5.38h-7.37zM46.83 677.06h7.37v5.38h-7.37zM32.10 693.20h7.37v5.38h-7.37z"/>
<path fill="#f07273" d="M68.93 192.86h7.37v5.38h-7.37zM54.20 198.24h7.37v5.38h-7.37zM61.57 203.62h7.37v5.38h-7.37zM39.47 332.74h7.37v5.38h-7.37z"/>
<path fill="#5d68bf" d="M76.30 192.86h7.37v5.38h-7.37zM98.40 192.86h7.37v5.38h-7.37zM105.77 192.86h7.37v5.38h-7.37zM105.77 198.24h7.37v5.38h-7.37zM113.13 257.42h7.37v5.38h-7.37zM98.40 278.94h7.37v5.38h-7.37z"/>
<path fill="#717ac6" d="M113.13 192.86h7.37v5.38h-7.37zM76.30 203.62h7.37v5.38h-7.37zM83.67 203.62h7.37v5.38h-7.37zM91.03 203.62h7.37v5.38h-7.37zM98.40 203.62h7.37v5.38h-7.37zM113.13 203.62h7.37v5.38h-7.37zM83.67 225.14h7.37v5.38h-7.37zM91.03 225.14h7.37v5.38h-7.37zM91.03 252.04h7.37v5.38h-7.37zM46.83 703.96h7.37v5.38h-7.37z"/>
<path fill="#f4b0b1" d="M32.10 198.24h7.37v5.38h-7.37zM61.57 219.76h7.37v5.38h-7.37zM39.47 381.16h7.37v5.38h-7.37zM32.10 445.72h7.37v5.38h-7.37zM83.67 456.48h7.37v5.38h-7.37zM98.40 483.38h7.37v5.38h-7.37zM98.40 531.80h7.37v5.38h-7.37zM76.30 634.02h7.37v5.38h-7.37z"/>
<path fill="#ee5e5e" d="M68.93 198.24h7.37v5.38h-7.37zM39.47 225.14h7.37v5.38h-7.37zM46.83 225.14h7.37v5.38h-7.37zM68.93 235.90h7.37v5.38h-7.37zM32.10 359.64h7.37v5.38h-7.37z"/>
<path fill="#6771c2" d="M76.30 198.24h7.37v5.38h-7.37zM98.40 198.24h7.37v5.38h-7.37zM113.13 198.24h7.37v5.38h-7.37zM105.77 203.62h7.37v5.38h-7.37zM76.30 225.14h7.37v5.38h-7.37z"/>
<path fill="#acb0dc" d="M91.03 198.24h7.37v5.38h-7.37zM83.67 209.00h7.37v5.38h-7.37zM98.40 230.52h7.37v5.38h-7.37zM105.77 230.52h7.37v5.38h-7.37zM54.20 461.86h7.37v5.38h-7.37zM32.10 655.54h7.37v5.38h-7.37z"/>
<path fill="#ef6868" d="M68.93 203.62h7.37v5.38h-7.37zM32.10 300.46h7.37v5.38h-7.37z"/>
<path fill="#f39b9c" d="M46.83 214.38h7.37v5.38h-7.37zM54.20 214.38h7.37v5.38h-7.37zM54.20 230.52h7.37v5.38h-7.37zM68.93 230.52h7.37v5.38h-7.37zM68.93 241.28h7.37v5.38h-7.37zM61.57 246.66h7.37v5.38h-7.37zM32.10 257.42h7.37v5.38h-7.37zM61.57 257.42h7.37v5.38h-7.37zM61.57 348.88h7.37v5.38h-7.37zM68.93 365.02h7.37v5.38h-7.37zM76.30 515.66h7.37v5.38h-7.37z"/>
<path fill="#bfc2e4" d="M76.30 214.38h7.37v5.38h-7.37zM98.40 257.42h7.37v5.38h-7.37zM105.77 257.42h7.37v5.38h-7.37zM32.10 483.38h7.37v5.38h-7.37zM46.83 547.94h7.37v5.38h-7.37zM46.83 558.70h7.37v5.38h-7.37zM32.10 564.08h7.37v5.38h-7.37z"/>
<path fill="#b5b9e0" d="M98.40 219.76h7.37v5.38h-7.37zM105.77 219.76h7.37v5.38h-7.37zM113.13 219.76h7.37v5.38h-7.37zM98.40 241.28h7.37v5.38h-7.37zM105.77 241.28h7.37v5.38h-7.37z"/>
<path fill="#ed5354" d="M32.10 225.14h7.37v5.38h-7.37zM68.93 225.14h7.37v5.38h-7.37z"/>
<path fill="#f5babc" d="M54.20 241.28h7.37v5.38h-7.37zM113.13 472.62h7.37v5.38h-7.37zM91.03 510.28h7.37v5.38h-7.37zM83.67 521.04h7.37v5.38h-7.37zM105.77 531.80h7.37v5.38h-7.37z"/>
<path fill="#f5b2b3" d="M32.10 252.04h7.37v5.38h-7.37zM76.30 451.10h7.37v5.38h-7.37zM113.13 499.52h7.37v5.38h-7.37zM113.13 510.28h7.37v5.38h-7.37zM113.13 537.18h7.37v5.38h-7.37zM83.67 623.26h7.37v5.38h-7.37zM113.13 660.92h7.37v5.38h-7.37z"/>
<path fill="#f5b1b3" d="M39.47 252.04h7.37v5.38h-7.37zM91.03 494.14h7.37v5.38h-7.37zM83.67 596.36h7.37v5.38h-7.37zM91.03 601.74h7.37v5.38h-7.37z"/>
<path fill="#f18889" d="M46.83 252.04h7.37v5.38h-7.37zM68.93 262.80h7.37v5.38h-7.37zM32.10 268.18h7.37v5.38h-7.37zM61.57 268.18h7.37v5.38h-7.37zM68.93 391.92h7.37v5.38h-7.37z"/>
<path fill="#f7cbcd" d="M54.20 252.04h7.37v5.38h-7.37zM98.40 580.22h7.37v5.38h-7.37zM98.40 639.40h7.37v5.38h-7.37z"/>
<path fill="#f39a9c" d="M61.57 252.04h7.37v5.38h-7.37zM46.83 327.36h7.37v5.38h-7.37z"/>
<path fill="#f6cacc" d="M68.93 252.04h7.37v5.38h-7.37zM113.13 650.16h7.37v5.38h-7.37z"/>
<path fill="#767fc8" d="M76.30 252.04h7.37v5.38h-7.37zM98.40 316.60h7.37v5.38h-7.37zM98.40 408.06h7.37v5.38h-7.37z"/>
<path fill="#8a91d0" d="M83.67 252.04h7.37v5.38h-7.37zM105.77 273.56h7.37v5.38h-7.37zM105.77 316.60h7.37v5.38h-7.37zM98.40 343.50h7.37v5.38h-7.37zM98.40 348.88h7.37v5.38h-7.37zM113.13 381.16h7.37v5.38h-7.37zM61.57 671.68h7.37v5.38h-7.37zM54.20 687.82h7.37v5.38h-7.37z"/>
<path fill="#999fd5" d="M98.40 252.04h7.37v5.38h-7.37zM105.77 408.06h7.37v5.38h-7.37zM98.40 434.96h7.37v5.38h-7.37zM61.57 564.08h7.37v5.38h-7.37zM68.93 703.96h7.37v5.38h-7.37zM68.93 709.34h7.37v5.38h-7.37z"/>
<path fill="#868dce" d="M105.77 252.04h7.37v5.38h-7.37zM105.77 311.22h7.37v5.38h-7.37zM76.30 391.92h7.37v5.38h-7.37zM91.03 413.44h7.37v5.38h-7.37zM46.83 660.92h7.37v5.38h-7.37zM46.83 709.34h7.37v5.38h-7.37z"/>
<path fill="#949bd4" d="M113.13 252.04h7.37v5.38h-7.37zM76.30 300.46h7.37v5.38h-7.37zM113.13 348.88h7.37v5.38h-7.37z"/>
<path fill="#f0eff6" d="M76.30 257.42h7.37v5.38h-7.37z"/>
<path fill="#535fbb" d="M83.67 257.42h7.37v5.38h-7.37zM91.03 257.42h7.37v5.38h-7.37zM83.67 397.30h7.37v5.38h-7.37zM91.03 397.30h7.37v5.38h-7.37z"/>
<path fill="#f3a0a1" d="M32.10 262.80h7.37v5.38h-7.37zM32.10 391.92h7.37v5.38h-7.37zM113.13 634.02h7.37v5.38h-7.37z"/>
<path fill="#f39fa0" d="M39.47 262.80h7.37v5.38h-7.37zM68.93 311.22h7.37v5.38h-7.37zM46.83 375.78h7.37v5.38h-7.37zM39.47 402.68h7.37v5.38h-7.37zM91.03 650.16h7.37v5.38h-7.37z"/>
<path fill="#ef696a" d="M46.83 262.80h7.37v5.38h-7.37zM105.77 703.96h7.37v5.38h-7.37z"/>
<path fill="#f29798" d="M54.20 262.80h7.37v5.38h-7.37zM32.10 278.94h7.37v5.38h-7.37zM68.93 305.84h7.37v5.38h-7.37zM54.20 348.88h7.37v5.38h-7.37zM98.40 590.98h7.37v5.38h-7.37zM76.30 644.78h7.37v5.38h-7.37z"/>
<path fill="#f29394" d="M61.57 262.80h7.37v5.38h-7.37zM54.20 278.94h7.37v5.38h-7.37zM46.83 295.08h7.37v5.38h-7.37zM54.20 343.50h7.37v5.38h-7.37zM32.10 348.88h7.37v5.38h-7.37zM54.20 386.54h7.37v5.38h-7.37zM39.47 434.96h7.37v5.38h-7.37zM83.67 639.40h7.37v5.38h-7.37z"/>
<path fill="#636dc1" d="M76.30 262.80h7.37v5.38h-7.37z"/>
<path fill="#9399d3" d="M83.67 262.80h7.37v5.38h-7.37zM91.03 316.60h7.37v5.38h-7.37zM113.13 338.12h7.37v5.38h-7.37z"/>
<path fill="#9ca1d6" d="M91.03 262.80h7.37v5.38h-7.37zM98.40 424.20h7.37v5.38h-7.37z"/>
<path fill="#5964bd" d="M98.40 262.80h7.37v5.38h-7.37zM91.03 327.36h7.37v5.38h-7.37zM39.47 714.72h7.37v5.38h-7.37z"/>
<path fill="#aeb2dd" d="M105.77 262.80h7.37v5.38h-7.37zM76.30 413.44h7.37v5.38h-7.37zM54.20 531.80h7.37v5.38h-7.37zM61.57 607.12h7.37v5.38h-7.37z"/>
<path fill="#969cd4" d="M113.13 262.80h7.37v5.38h-7.37zM98.40 327.36h7.37v5.38h-7.37zM91.03 354.26h7.37v5.38h-7.37zM98.40 359.64h7.37v5.38h-7.37zM91.03 381.16h7.37v5.38h-7.37zM98.40 413.44h7.37v5.38h-7.37zM61.57 601.74h7.37v5.38h-7.37zM61.57 634.02h7.37v5.38h-7.37zM54.20 650.16h7.37v5.38h-7.37z"/>
<path fill="#ee6364" d="M39.47 268.18h7.37v5.38h-7.37z"/>
<path fill="#f4adae" d="M46.83 268.18h7.37v5.38h-7.37zM68.93 354.26h7.37v5.38h-7.37zM113.13 585.60h7.37v5.38h-7.37zM105.77 601.74h7.37v5.38h-7.37zM83.67 612.50h7.37v5.38h-7.37zM113.13 617.88h7.37v5.38h-7.37z"/>
<path fill="#f7ced0" d="M54.20 268.18h7.37v5.38h-7.37z"/>
<path fill="#f3a3a4" d="M68.93 268.18h7.37v5.38h-7.37zM46.83 284.32h7.37v5.38h-7.37zM54.20 381.16h7.37v5.38h-7.37zM68.93 408.06h7.37v5.38h-7.37zM61.57 424.20h7.37v5.38h-7.37zM113.13 564.08h7.37v5.38h-7.37zM105.77 569.46h7.37v5.38h-7.37zM98.40 596.36h7.37v5.38h-7.37zM83.67 617.88h7.37v5.38h-7.37zM105.77 628.64h7.37v5.38h-7.37z"/>
<path fill="#979dd4" d="M76.30 268.18h7.37v5.38h-7.37z"/>
<path fill="#8991cf" d="M91.03 268.18h7.37v5.38h-7.37z"/>
<path fill="#888fcf" d="M98.40 268.18h7.37v5.38h-7.37zM76.30 278.94h7.37v5.38h-7.37zM113.13 295.08h7.37v5.38h-7.37zM91.03 338.12h7.37v5.38h-7.37zM98.40 370.40h7.37v5.38h-7.37zM113.13 408.06h7.37v5.38h-7.37zM113.13 429.58h7.37v5.38h-7.37zM54.20 666.30h7.37v5.38h-7.37zM46.83 682.44h7.37v5.38h-7.37zM61.57 714.72h7.37v5.38h-7.37z"/>
<path fill="#979ed5" d="M105.77 268.18h7.37v5.38h-7.37zM46.83 687.82h7.37v5.38h-7.37z"/>
<path fill="#727bc7" d="M113.13 268.18h7.37v5.38h-7.37zM76.30 284.32h7.37v5.38h-7.37z"/>
<path fill="#f07576" d="M32.10 273.56h7.37v5.38h-7.37z"/>
<path fill="#f29698" d="M39.47 273.56h7.37v5.38h-7.37z"/>
<path fill="#f3a1a3" d="M46.83 273.56h7.37v5.38h-7.37zM68.93 300.46h7.37v5.38h-7.37zM54.20 434.96h7.37v5.38h-7.37z"/>
<path fill="#f18787" d="M54.20 273.56h7.37v5.38h-7.37z"/>
<path fill="#f28c8d" d="M61.57 273.56h7.37v5.38h-7.37zM39.47 289.70h7.37v5.38h-7.37zM46.83 343.50h7.37v5.38h-7.37zM68.93 434.96h7.37v5.38h-7.37zM113.13 666.30h7.37v5.38h-7.37zM91.03 687.82h7.37v5.38h-7.37z"/>
<path fill="#f4afb0" d="M68.93 273.56h7.37v5.38h-7.37zM46.83 338.12h7.37v5.38h-7.37zM83.67 451.10h7.37v5.38h-7.37zM76.30 585.60h7.37v5.38h-7.37z"/>
<path fill="#7880c9" d="M83.67 273.56h7.37v5.38h-7.37zM91.03 278.94h7.37v5.38h-7.37zM83.67 284.32h7.37v5.38h-7.37zM76.30 327.36h7.37v5.38h-7.37z"/>
<path fill="#9097d2" d="M91.03 273.56h7.37v5.38h-7.37zM105.77 402.68h7.37v5.38h-7.37zM98.40 418.82h7.37v5.38h-7.37z"/>
<path fill="#959cd4" d="M98.40 273.56h7.37v5.38h-7.37zM105.77 348.88h7.37v5.38h-7.37zM105.77 424.20h7.37v5.38h-7.37z"/>
<path fill="#8f96d2" d="M113.13 273.56h7.37v5.38h-7.37zM98.40 375.78h7.37v5.38h-7.37zM91.03 424.20h7.37v5.38h-7.37zM113.13 445.72h7.37v5.38h-7.37zM46.83 483.38h7.37v5.38h-7.37zM46.83 531.80h7.37v5.38h-7.37zM39.47 660.92h7.37v5.38h-7.37zM39.47 687.82h7.37v5.38h-7.37zM46.83 693.20h7.37v5.38h-7.37z"/>
<path fill="#f6c3c4" d="M39.47 278.94h7.37v5.38h-7.37zM105.77 456.48h7.37v5.38h-7.37zM91.03 634.02h7.37v5.38h-7.37z"/>
<path fill="#ef7070" d="M46.83 278.94h7.37v5.38h-7.37zM83.67 714.72h7.37v5.38h-7.37z"/>
<path fill="#f4abac" d="M61.57 278.94h7.37v5.38h-7.37zM61.57 316.60h7.37v5.38h-7.37zM32.10 354.26h7.37v5.38h-7.37zM98.40 451.10h7.37v5.38h-7.37zM83.67 483.38h7.37v5.38h-7.37zM105.77 558.70h7.37v5.38h-7.37z"/>
<path fill="#f18182" d="M68.93 278.94h7.37v5.38h-7.37zM32.10 332.74h7.37v5.38h-7.37zM61.57 365.02h7.37v5.38h-7.37zM98.40 671.68h7.37v5.38h-7.37zM83.67 682.44h7.37v5.38h-7.37z"/>
<path fill="#828acd" d="M105.77 278.94h7.37v5.38h-7.37zM91.03 284.32h7.37v5.38h-7.37zM113.13 284.32h7.37v5.38h-7.37zM98.40 289.70h7.37v5.38h-7.37zM76.30 354.26h7.37v5.38h-7.37zM83.67 375.78h7.37v5.38h-7.37zM113.13 386.54h7.37v5.38h-7.37z"/>
<path fill="#6c76c4" d="M113.13 278.94h7.37v5.38h-7.37zM76.30 402.68h7.37v5.38h-7.37zM105.77 429.58h7.37v5.38h-7.37z"/>
<path fill="#ef6667" d="M32.10 284.32h7.37v5.38h-7.37zM39.47 348.88h7.37v5.38h-7.37z"/>
<path fill="#f4aeb0" d="M39.47 284.32h7.37v5.38h-7.37zM76.30 574.84h7.37v5.38h-7.37z"/>
<path fill="#f18686" d="M54.20 284.32h7.37v5.38h-7.37z"/>
<path fill="#f5bebf" d="M61.57 284.32h7.37v5.38h-7.37zM83.67 499.52h7.37v5.38h-7.37z"/>
<path fill="#f39d9e" d="M68.93 284.32h7.37v5.38h-7.37zM61.57 343.50h7.37v5.38h-7.37zM39.47 354.26h7.37v5.38h-7.37zM61.57 370.40h7.37v5.38h-7.37zM76.30 494.14h7.37v5.38h-7.37zM98.40 644.78h7.37v5.38h-7.37zM98.40 650.16h7.37v5.38h-7.37z"/>
<path fill="#b7bbe1" d="M98.40 284.32h7.37v5.38h-7.37zM68.93 461.86h7.37v5.38h-7.37zM46.83 494.14h7.37v5.38h-7.37z"/>
<path fill="#5c66be" d="M105.77 284.32h7.37v5.38h-7.37z"/>
<path fill="#f18687" d="M32.10 289.70h7.37v5.38h-7.37zM39.47 300.46h7.37v5.38h-7.37zM39.47 365.02h7.37v5.38h-7.37zM46.83 386.54h7.37v5.38h-7.37zM46.83 413.44h7.37v5.38h-7.37zM39.47 429.58h7.37v5.38h-7.37zM113.13 655.54h7.37v5.38h-7.37zM83.67 677.06h7.37v5.38h-7.37z"/>
<path fill="#f6bec0" d="M46.83 289.70h7.37v5.38h-7.37zM105.77 488.76h7.37v5.38h-7.37zM105.77 499.52h7.37v5.38h-7.37zM76.30 628.64h7.37v5.38h-7.37z"/>
<path fill="#f5b8b9" d="M54.20 289.70h7.37v5.38h-7.37zM68.93 316.60h7.37v5.38h-7.37zM76.30 478.00h7.37v5.38h-7.37zM76.30 617.88h7.37v5.38h-7.37zM83.67 650.16h7.37v5.38h-7.37z"/>
<path fill="#f5b3b4" d="M61.57 289.70h7.37v5.38h-7.37zM32.10 338.12h7.37v5.38h-7.37zM39.47 338.12h7.37v5.38h-7.37zM54.20 338.12h7.37v5.38h-7.37zM54.20 354.26h7.37v5.38h-7.37zM105.77 494.14h7.37v5.38h-7.37zM113.13 494.14h7.37v5.38h-7.37zM98.40 601.74h7.37v5.38h-7.37zM91.03 628.64h7.37v5.38h-7.37zM105.77 644.78h7.37v5.38h-7.37z"/>
<path fill="#ef6c6c" d="M68.93 289.70h7.37v5.38h-7.37z"/>
<path fill="#a0a5d8" d="M76.30 289.70h7.37v5.38h-7.37zM105.77 305.84h7.37v5.38h-7.37zM83.67 386.54h7.37v5.38h-7.37zM54.20 553.32h7.37v5.38h-7.37zM61.57 655.54h7.37v5.38h-7.37zM46.83 666.30h7.37v5.38h-7.37z"/>
<path fill="#939ad3" d="M83.67 289.70h7.37v5.38h-7.37z"/>
<path fill="#949ad3" d="M91.03 289.70h7.37v5.38h-7.37zM83.67 434.96h7.37v5.38h-7.37zM54.20 671.68h7.37v5.38h-7.37zM54.20 709.34h7.37v5.38h-7.37z"/>
<path fill="#838bcd" d="M105.77 289.70h7.37v5.38h-7.37zM83.67 338.12h7.37v5.38h-7.37zM46.83 698.58h7.37v5.38h-7.37z"/>
<path fill="#8890cf" d="M113.13 289.70h7.37v5.38h-7.37zM83.67 445.72h7.37v5.38h-7.37zM39.47 677.06h7.37v5.38h-7.37z"/>
<path fill="#f5b4b5" d="M32.10 295.08h7.37v5.38h-7.37zM83.67 510.28h7.37v5.38h-7.37zM83.67 531.80h7.37v5.38h-7.37zM76.30 596.36h7.37v5.38h-7.37zM98.40 612.50h7.37v5.38h-7.37zM105.77 655.54h7.37v5.38h-7.37zM76.30 666.30h7.37v5.38h-7.37z"/>
<path fill="#f8dee0" d="M39.47 295.08h7.37v5.38h-7.37zM113.13 504.90h7.37v5.38h-7.37zM76.30 531.80h7.37v5.38h-7.37z"/>
<path fill="#f07b7c" d="M61.57 295.08h7.37v5.38h-7.37zM61.57 321.98h7.37v5.38h-7.37zM32.10 375.78h7.37v5.38h-7.37zM83.67 703.96h7.37v5.38h-7.37z"/>
<path fill="#f39a9b" d="M68.93 295.08h7.37v5.38h-7.37zM54.20 370.40h7.37v5.38h-7.37zM61.57 408.06h7.37v5.38h-7.37zM32.10 424.20h7.37v5.38h-7.37zM105.77 521.04h7.37v5.38h-7.37zM91.03 671.68h7.37v5.38h-7.37z"/>
<path fill="#9ba1d6" d="M76.30 295.08h7.37v5.38h-7.37zM83.67 332.74h7.37v5.38h-7.37zM76.30 408.06h7.37v5.38h-7.37zM39.47 623.26h7.37v5.38h-7.37z"/>
<path fill="#858dce" d="M83.67 295.08h7.37v5.38h-7.37zM98.40 311.22h7.37v5.38h-7.37zM98.40 321.98h7.37v5.38h-7.37zM98.40 354.26h7.37v5.38h-7.37z"/>
<path fill="#b0b4de" d="M91.03 295.08h7.37v5.38h-7.37zM46.83 639.40h7.37v5.38h-7.37zM54.20 639.40h7.37v5.38h-7.37zM68.93 660.92h7.37v5.38h-7.37zM68.93 693.20h7.37v5.38h-7.37z"/>
<path fill="#a5aada" d="M98.40 295.08h7.37v5.38h-7.37zM105.77 321.98h7.37v5.38h-7.37zM105.77 354.26h7.37v5.38h-7.37zM61.57 623.26h7.37v5.38h-7.37zM61.57 628.64h7.37v5.38h-7.37zM54.20 660.92h7.37v5.38h-7.37z"/>
<path fill="#a4a9d9" d="M105.77 295.08h7.37v5.38h-7.37zM98.40 440.34h7.37v5.38h-7.37z"/>
<path fill="#f07d7e" d="M46.83 300.46h7.37v5.38h-7.37zM32.10 305.84h7.37v5.38h-7.37zM46.83 370.40h7.37v5.38h-7.37zM76.30 709.34h7.37v5.38h-7.37z"/>
<path fill="#f29293" d="M54.20 300.46h7.37v5.38h-7.37zM46.83 316.60h7.37v5.38h-7.37zM54.20 391.92h7.37v5.38h-7.37zM46.83 402.68h7.37v5.38h-7.37zM61.57 445.72h7.37v5.38h-7.37zM76.30 714.72h7.37v5.38h-7.37z"/>
<path fill="#c3c5e5" d="M83.67 300.46h7.37v5.38h-7.37z"/>
<path fill="#a8addb" d="M91.03 300.46h7.37v5.38h-7.37zM105.77 327.36h7.37v5.38h-7.37zM32.10 488.76h7.37v5.38h-7.37zM61.57 580.22h7.37v5.38h-7.37zM39.47 634.02h7.37v5.38h-7.37zM54.20 634.02h7.37v5.38h-7.37zM32.10 644.78h7.37v5.38h-7.37z"/>
<path fill="#aaaedc" d="M98.40 300.46h7.37v5.38h-7.37zM46.83 461.86h7.37v5.38h-7.37z"/>
<path fill="#7c84ca" d="M105.77 300.46h7.37v5.38h-7.37zM54.20 714.72h7.37v5.38h-7.37z"/>
<path fill="#8088cc" d="M113.13 300.46h7.37v5.38h-7.37zM91.03 311.22h7.37v5.38h-7.37z"/>
<path fill="#f07475" d="M39.47 305.84h7.37v5.38h-7.37zM68.93 327.36h7.37v5.38h-7.37z"/>
<path fill="#f39e9f" d="M46.83 305.84h7.37v5.38h-7.37zM98.40 698.58h7.37v5.38h-7.37z"/>
<path fill="#f17f80" d="M54.20 305.84h7.37v5.38h-7.37zM46.83 332.74h7.37v5.38h-7.37z"/>
<path fill="#ef6b6b" d="M61.57 305.84h7.37v5.38h-7.37zM83.67 687.82h7.37v5.38h-7.37zM113.13 714.72h7.37v5.38h-7.37z"/>
<path fill="#777fc8" d="M76.30 305.84h7.37v5.38h-7.37z"/>
<path fill="#9298d3" d="M83.67 305.84h7.37v5.38h-7.37z"/>
<path fill="#b1b5de" d="M91.03 305.84h7.37v5.38h-7.37zM54.20 456.48h7.37v5.38h-7.37zM32.10 580.22h7.37v5.38h-7.37zM32.10 585.60h7.37v5.38h-7.37zM46.83 628.64h7.37v5.38h-7.37z"/>
<path fill="#8c93d0" d="M98.40 305.84h7.37v5.38h-7.37zM113.13 305.84h7.37v5.38h-7.37zM39.47 698.58h7.37v5.38h-7.37zM39.47 703.96h7.37v5.38h-7.37z"/>
<path fill="#f3a2a3" d="M32.10 311.22h7.37v5.38h-7.37zM113.13 687.82h7.37v5.38h-7.37z"/>
<path fill="#f29091" d="M39.47 311.22h7.37v5.38h-7.37zM61.57 413.44h7.37v5.38h-7.37zM76.30 687.82h7.37v5.38h-7.37z"/>
<path fill="#f6c8c9" d="M46.83 311.22h7.37v5.38h-7.37zM61.57 386.54h7.37v5.38h-7.37zM98.40 542.56h7.37v5.38h-7.37zM98.40 558.70h7.37v5.38h-7.37z"/>
<path fill="#ef6869" d="M54.20 311.22h7.37v5.38h-7.37z"/>
<path fill="#f07879" d="M61.57 311.22h7.37v5.38h-7.37z"/>
<path fill="#b9bce1" d="M113.13 311.22h7.37v5.38h-7.37zM68.93 655.54h7.37v5.38h-7.37z"/>
<path fill="#f4b1b2" d="M32.10 316.60h7.37v5.38h-7.37zM61.57 327.36h7.37v5.38h-7.37zM113.13 461.86h7.37v5.38h-7.37zM91.03 467.24h7.37v5.38h-7.37zM113.13 515.66h7.37v5.38h-7.37zM76.30 547.94h7.37v5.38h-7.37zM83.67 569.46h7.37v5.38h-7.37zM91.03 644.78h7.37v5.38h-7.37z"/>
<path fill="#f07979" d="M39.47 316.60h7.37v5.38h-7.37z"/>
<path fill="#f5babb" d="M54.20 316.60h7.37v5.38h-7.37zM76.30 461.86h7.37v5.38h-7.37zM76.30 499.52h7.37v5.38h-7.37zM105.77 510.28h7.37v5.38h-7.37zM91.03 547.94h7.37v5.38h-7.37zM91.03 564.08h7.37v5.38h-7.37z"/>
<path fill="#a4a9da" d="M76.30 316.60h7.37v5.38h-7.37zM105.77 343.50h7.37v5.38h-7.37z"/>
<path fill="#757ec8" d="M83.67 316.60h7.37v5.38h-7.37zM105.77 365.02h7.37v5.38h-7.37zM98.40 381.16h7.37v5.38h-7.37zM83.67 418.82h7.37v5.38h-7.37z"/>
<path fill="#afb3de" d="M113.13 316.60h7.37v5.38h-7.37zM113.13 359.64h7.37v5.38h-7.37zM39.47 456.48h7.37v5.38h-7.37zM61.57 558.70h7.37v5.38h-7.37zM39.47 607.12h7.37v5.38h-7.37zM54.20 623.26h7.37v5.38h-7.37zM39.47 650.16h7.37v5.38h-7.37zM39.47 671.68h7.37v5.38h-7.37z"/>
<path fill="#ee6363" d="M39.47 321.98h7.37v5.38h-7.37zM54.20 375.78h7.37v5.38h-7.37z"/>
<path fill="#f4a9aa" d="M46.83 321.98h7.37v5.38h-7.37zM91.03 537.18h7.37v5.38h-7.37zM91.03 660.92h7.37v5.38h-7.37z"/>
<path fill="#f4afb1" d="M54.20 321.98h7.37v5.38h-7.37z"/>
<path fill="#f29596" d="M68.93 321.98h7.37v5.38h-7.37zM68.93 338.12h7.37v5.38h-7.37zM39.47 375.78h7.37v5.38h-7.37zM61.57 434.96h7.37v5.38h-7.37zM32.10 440.34h7.37v5.38h-7.37zM76.30 537.18h7.37v5.38h-7.37zM76.30 677.06h7.37v5.38h-7.37zM83.67 709.34h7.37v5.38h-7.37z"/>
<path fill="#6e77c5" d="M83.67 321.98h7.37v5.38h-7.37zM98.40 338.12h7.37v5.38h-7.37z"/>
<path fill="#b5b8e0" d="M91.03 321.98h7.37v5.38h-7.37zM46.83 612.50h7.37v5.38h-7.37zM61.57 682.44h7.37v5.38h-7.37z"/>
<path fill="#adb1dd" d="M113.13 321.98h7.37v5.38h-7.37zM113.13 424.20h7.37v5.38h-7.37zM46.83 478.00h7.37v5.38h-7.37zM61.57 553.32h7.37v5.38h-7.37z"/>
<path fill="#f4aaab" d="M32.10 327.36h7.37v5.38h-7.37zM32.10 381.16h7.37v5.38h-7.37zM113.13 483.38h7.37v5.38h-7.37zM98.40 499.52h7.37v5.38h-7.37zM83.67 634.02h7.37v5.38h-7.37z"/>
<path fill="#f07d7d" d="M39.47 327.36h7.37v5.38h-7.37z"/>
<path fill="#f6c2c3" d="M54.20 327.36h7.37v5.38h-7.37zM76.30 553.32h7.37v5.38h-7.37zM98.40 585.60h7.37v5.38h-7.37z"/>
<path fill="#a6abda" d="M83.67 327.36h7.37v5.38h-7.37zM61.57 542.56h7.37v5.38h-7.37zM54.20 585.60h7.37v5.38h-7.37zM32.10 682.44h7.37v5.38h-7.37z"/>
<path fill="#9198d2" d="M113.13 327.36h7.37v5.38h-7.37zM113.13 365.02h7.37v5.38h-7.37zM54.20 644.78h7.37v5.38h-7.37zM68.93 714.72h7.37v5.38h-7.37z"/>
<path fill="#f3a1a2" d="M54.20 332.74h7.37v5.38h-7.37zM76.30 590.98h7.37v5.38h-7.37zM105.77 617.88h7.37v5.38h-7.37zM105.77 623.26h7.37v5.38h-7.37zM113.13 644.78h7.37v5.38h-7.37zM91.03 655.54h7.37v5.38h-7.37z"/>
<path fill="#f3a4a5" d="M61.57 332.74h7.37v5.38h-7.37zM113.13 607.12h7.37v5.38h-7.37zM83.67 644.78h7.37v5.38h-7.37z"/>
<path fill="#f5b9ba" d="M68.93 332.74h7.37v5.38h-7.37zM105.77 478.00h7.37v5.38h-7.37zM76.30 612.50h7.37v5.38h-7.37z"/>
<path fill="#9096d2" d="M76.30 332.74h7.37v5.38h-7.37zM76.30 375.78h7.37v5.38h-7.37z"/>
<path fill="#8990cf" d="M91.03 332.74h7.37v5.38h-7.37zM83.67 343.50h7.37v5.38h-7.37zM83.67 402.68h7.37v5.38h-7.37zM91.03 434.96h7.37v5.38h-7.37zM61.57 698.58h7.37v5.38h-7.37z"/>
<path fill="#aaafdc" d="M98.40 332.74h7.37v5.38h-7.37zM105.77 418.82h7.37v5.38h-7.37zM61.57 590.98h7.37v5.38h-7.37zM68.93 671.68h7.37v5.38h-7.37z"/>
<path fill="#9a9fd6" d="M105.77 332.74h7.37v5.38h-7.37zM61.57 660.92h7.37v5.38h-7.37z"/>
<path fill="#f18a8b" d="M61.57 338.12h7.37v5.38h-7.37zM68.93 343.50h7.37v5.38h-7.37zM105.77 650.16h7.37v5.38h-7.37zM91.03 677.06h7.37v5.38h-7.37zM98.40 709.34h7.37v5.38h-7.37z"/>
<path fill="#abb0dc" d="M76.30 338.12h7.37v5.38h-7.37zM39.47 494.14h7.37v5.38h-7.37zM32.10 650.16h7.37v5.38h-7.37z"/>
<path fill="#9299d3" d="M105.77 338.12h7.37v5.38h-7.37zM91.03 348.88h7.37v5.38h-7.37zM83.67 381.16h7.37v5.38h-7.37z"/>
<path fill="#f4a7a8" d="M32.10 343.50h7.37v5.38h-7.37zM39.47 359.64h7.37v5.38h-7.37zM39.47 418.82h7.37v5.38h-7.37zM46.83 440.34h7.37v5.38h-7.37zM83.67 547.94h7.37v5.38h-7.37z"/>
<path fill="#f29495" d="M39.47 343.50h7.37v5.38h-7.37zM46.83 365.02h7.37v5.38h-7.37zM61.57 375.78h7.37v5.38h-7.37zM32.10 402.68h7.37v5.38h-7.37zM68.93 413.44h7.37v5.38h-7.37zM68.93 445.72h7.37v5.38h-7.37zM98.40 623.26h7.37v5.38h-7.37zM91.03 639.40h7.37v5.38h-7.37zM83.67 666.30h7.37v5.38h-7.37zM98.40 677.06h7.37v5.38h-7.37zM98.40 703.96h7.37v5.38h-7.37z"/>
<path fill="#8c93d1" d="M76.30 343.50h7.37v5.38h-7.37zM76.30 424.20h7.37v5.38h-7.37zM76.30 445.72h7.37v5.38h-7.37z"/>
<path fill="#a3a8d9" d="M91.03 343.50h7.37v5.38h-7.37zM113.13 440.34h7.37v5.38h-7.37zM46.83 634.02h7.37v5.38h-7.37z"/>
<path fill="#a1a6d8" d="M113.13 343.50h7.37v5.38h-7.37zM105.77 375.78h7.37v5.38h-7.37zM61.57 472.62h7.37v5.38h-7.37z"/>
<path fill="#f18081" d="M46.83 348.88h7.37v5.38h-7.37zM68.93 348.88h7.37v5.38h-7.37z"/>
<path fill="#7079c6" d="M76.30 348.88h7.37v5.38h-7.37z"/>
<path fill="#737cc7" d="M83.67 348.88h7.37v5.38h-7.37z"/>
<path fill="#f6c9cb" d="M46.83 354.26h7.37v5.38h-7.37zM105.77 472.62h7.37v5.38h-7.37zM76.30 607.12h7.37v5.38h-7.37z"/>
<path fill="#f28d8e" d="M61.57 354.26h7.37v5.38h-7.37zM39.47 370.40h7.37v5.38h-7.37zM46.83 429.58h7.37v5.38h-7.37zM98.40 682.44h7.37v5.38h-7.37zM113.13 698.58h7.37v5.38h-7.37z"/>
<path fill="#abafdc" d="M83.67 354.26h7.37v5.38h-7.37z"/>
<path fill="#9ea3d7" d="M113.13 354.26h7.37v5.38h-7.37zM113.13 375.78h7.37v5.38h-7.37z"/>
<path fill="#f4a8a9" d="M46.83 359.64h7.37v5.38h-7.37zM68.93 375.78h7.37v5.38h-7.37zM61.57 391.92h7.37v5.38h-7.37zM83.67 628.64h7.37v5.38h-7.37z"/>
<path fill="#f4a4a6" d="M54.20 359.64h7.37v5.38h-7.37z"/>
<path fill="#f29697" d="M61.57 359.64h7.37v5.38h-7.37zM61.57 381.16h7.37v5.38h-7.37zM98.40 634.02h7.37v5.38h-7.37zM76.30 655.54h7.37v5.38h-7.37zM98.40 666.30h7.37v5.38h-7.37zM76.30 671.68h7.37v5.38h-7.37z"/>
<path fill="#f39899" d="M68.93 359.64h7.37v5.38h-7.37zM46.83 381.16h7.37v5.38h-7.37zM32.10 386.54h7.37v5.38h-7.37zM46.83 424.20h7.37v5.38h-7.37zM98.40 456.48h7.37v5.38h-7.37z"/>
<path fill="#7981c9" d="M76.30 359.64h7.37v5.38h-7.37zM76.30 370.40h7.37v5.38h-7.37z"/>
<path fill="#7d85cb" d="M83.67 359.64h7.37v5.38h-7.37zM91.03 408.06h7.37v5.38h-7.37zM76.30 429.58h7.37v5.38h-7.37z"/>
<path fill="#979dd5" d="M91.03 359.64h7.37v5.38h-7.37zM46.83 644.78h7.37v5.38h-7.37zM61.57 650.16h7.37v5.38h-7.37z"/>
<path fill="#adb2dd" d="M105.77 359.64h7.37v5.38h-7.37z"/>
<path fill="#f4a8aa" d="M32.10 365.02h7.37v5.38h-7.37zM32.10 370.40h7.37v5.38h-7.37zM83.67 660.92h7.37v5.38h-7.37z"/>
<path fill="#f18585" d="M54.20 365.02h7.37v5.38h-7.37z"/>
<path fill="#606ac0" d="M76.30 365.02h7.37v5.38h-7.37zM83.67 408.06h7.37v5.38h-7.37z"/>
<path fill="#9aa0d6" d="M83.67 365.02h7.37v5.38h-7.37zM83.67 391.92h7.37v5.38h-7.37zM91.03 391.92h7.37v5.38h-7.37z"/>
<path fill="#9ca2d7" d="M91.03 365.02h7.37v5.38h-7.37zM105.77 434.96h7.37v5.38h-7.37zM113.13 434.96h7.37v5.38h-7.37z"/>
<path fill="#f17e7f" d="M68.93 370.40h7.37v5.38h-7.37zM98.40 655.54h7.37v5.38h-7.37zM105.77 687.82h7.37v5.38h-7.37zM76.30 693.20h7.37v5.38h-7.37z"/>
<path fill="#7982c9" d="M83.67 370.40h7.37v5.38h-7.37z"/>
<path fill="#9fa4d8" d="M91.03 370.40h7.37v5.38h-7.37zM61.57 666.30h7.37v5.38h-7.37zM54.20 698.58h7.37v5.38h-7.37z"/>
<path fill="#868ece" d="M105.77 370.40h7.37v5.38h-7.37zM113.13 413.44h7.37v5.38h-7.37zM91.03 440.34h7.37v5.38h-7.37z"/>
<path fill="#b6b9e0" d="M113.13 370.40h7.37v5.38h-7.37zM46.83 456.48h7.37v5.38h-7.37zM39.47 461.86h7.37v5.38h-7.37zM46.83 488.76h7.37v5.38h-7.37zM39.47 499.52h7.37v5.38h-7.37zM39.47 504.90h7.37v5.38h-7.37z"/>
<path fill="#7c85cb" d="M91.03 375.78h7.37v5.38h-7.37zM76.30 418.82h7.37v5.38h-7.37zM54.20 655.54h7.37v5.38h-7.37z"/>
<path fill="#f4aaac" d="M68.93 381.16h7.37v5.38h-7.37zM91.03 483.38h7.37v5.38h-7.37zM98.40 574.84h7.37v5.38h-7.37zM105.77 666.30h7.37v5.38h-7.37z"/>
<path fill="#a1a7d9" d="M76.30 381.16h7.37v5.38h-7.37z"/>
<path fill="#f5b5b7" d="M39.47 386.54h7.37v5.38h-7.37z"/>
<path fill="#f1898a" d="M68.93 386.54h7.37v5.38h-7.37zM54.20 413.44h7.37v5.38h-7.37zM105.77 693.20h7.37v5.38h-7.37zM91.03 698.58h7.37v5.38h-7.37z"/>
<path fill="#7a82ca" d="M76.30 386.54h7.37v5.38h-7.37z"/>
<path fill="#6973c3" d="M91.03 386.54h7.37v5.38h-7.37zM105.77 391.92h7.37v5.38h-7.37z"/>
<path fill="#8b92d0" d="M98.40 386.54h7.37v5.38h-7.37zM32.10 687.82h7.37v5.38h-7.37z"/>
<path fill="#a8acdb" d="M105.77 386.54h7.37v5.38h-7.37zM39.47 580.22h7.37v5.38h-7.37z"/>
<path fill="#f5b6b7" d="M39.47 391.92h7.37v5.38h-7.37zM83.67 488.76h7.37v5.38h-7.37z"/>
<path fill="#f6c9ca" d="M46.83 391.92h7.37v5.38h-7.37zM98.40 472.62h7.37v5.38h-7.37z"/>
<path fill="#6771c3" d="M98.40 391.92h7.37v5.38h-7.37z"/>
<path fill="#7e86cb" d="M113.13 391.92h7.37v5.38h-7.37z"/>
<path fill="#f8e3e5" d="M54.20 397.30h7.37v5.38h-7.37zM83.67 526.42h7.37v5.38h-7.37z"/>
<path fill="#f9eef0" d="M61.57 397.30h7.37v5.38h-7.37zM68.93 397.30h7.37v5.38h-7.37z"/>
<path fill="#d3d4eb" d="M98.40 397.30h7.37v5.38h-7.37zM68.93 478.00h7.37v5.38h-7.37zM68.93 547.94h7.37v5.38h-7.37zM68.93 585.60h7.37v5.38h-7.37zM61.57 644.78h7.37v5.38h-7.37z"/>
<path fill="#c9cbe8" d="M105.77 397.30h7.37v5.38h-7.37zM54.20 478.00h7.37v5.38h-7.37zM68.93 526.42h7.37v5.38h-7.37zM68.93 590.98h7.37v5.38h-7.37z"/>
<path fill="#ef6e6e" d="M54.20 402.68h7.37v5.38h-7.37zM91.03 709.34h7.37v5.38h-7.37zM105.77 714.72h7.37v5.38h-7.37z"/>
<path fill="#f28f8f" d="M61.57 402.68h7.37v5.38h-7.37z"/>
<path fill="#f5b7b9" d="M68.93 402.68h7.37v5.38h-7.37zM105.77 461.86h7.37v5.38h-7.37z"/>
<path fill="#424fb4" d="M91.03 402.68h7.37v5.38h-7.37z"/>
<path fill="#959bd4" d="M113.13 402.68h7.37v5.38h-7.37zM32.10 660.92h7.37v5.38h-7.37z"/>
<path fill="#f28e8f" d="M32.10 408.06h7.37v5.38h-7.37z"/>
<path fill="#f4a5a6" d="M39.47 408.06h7.37v5.38h-7.37zM61.57 429.58h7.37v5.38h-7.37zM54.20 440.34h7.37v5.38h-7.37zM113.13 478.00h7.37v5.38h-7.37zM113.13 553.32h7.37v5.38h-7.37zM113.13 596.36h7.37v5.38h-7.37z"/>
<path fill="#f5b9bb" d="M46.83 408.06h7.37v5.38h-7.37zM105.77 612.50h7.37v5.38h-7.37z"/>
<path fill="#f6c3c5" d="M54.20 408.06h7.37v5.38h-7.37zM83.67 461.86h7.37v5.38h-7.37zM76.30 521.04h7.37v5.38h-7.37z"/>
<path fill="#f39c9d" d="M32.10 413.44h7.37v5.38h-7.37zM39.47 413.44h7.37v5.38h-7.37zM76.30 703.96h7.37v5.38h-7.37z"/>
<path fill="#9ea4d7" d="M83.67 413.44h7.37v5.38h-7.37zM98.40 445.72h7.37v5.38h-7.37z"/>
<path fill="#9fa5d8" d="M105.77 413.44h7.37v5.38h-7.37zM83.67 429.58h7.37v5.38h-7.37zM91.03 429.58h7.37v5.38h-7.37z"/>
<path fill="#f4acae" d="M32.10 418.82h7.37v5.38h-7.37zM98.40 467.24h7.37v5.38h-7.37z"/>
<path fill="#f18384" d="M46.83 418.82h7.37v5.38h-7.37zM39.47 440.34h7.37v5.38h-7.37zM76.30 682.44h7.37v5.38h-7.37zM98.40 693.20h7.37v5.38h-7.37z"/>
<path fill="#f39fa1" d="M54.20 418.82h7.37v5.38h-7.37zM105.77 596.36h7.37v5.38h-7.37zM113.13 693.20h7.37v5.38h-7.37z"/>
<path fill="#f07677" d="M61.57 418.82h7.37v5.38h-7.37zM46.83 434.96h7.37v5.38h-7.37zM113.13 703.96h7.37v5.38h-7.37z"/>
<path fill="#f28b8c" d="M68.93 418.82h7.37v5.38h-7.37zM32.10 434.96h7.37v5.38h-7.37zM83.67 655.54h7.37v5.38h-7.37zM98.40 660.92h7.37v5.38h-7.37z"/>
<path fill="#bec0e3" d="M91.03 418.82h7.37v5.38h-7.37zM54.20 472.62h7.37v5.38h-7.37z"/>
<path fill="#f07b7b" d="M39.47 424.20h7.37v5.38h-7.37z"/>
<path fill="#f07172" d="M54.20 424.20h7.37v5.38h-7.37z"/>
<path fill="#f3989a" d="M68.93 424.20h7.37v5.38h-7.37z"/>
<path fill="#7a82c9" d="M83.67 424.20h7.37v5.38h-7.37z"/>
<path fill="#f07a7b" d="M32.10 429.58h7.37v5.38h-7.37zM113.13 682.44h7.37v5.38h-7.37z"/>
<path fill="#f3a0a2" d="M68.93 429.58h7.37v5.38h-7.37zM61.57 440.34h7.37v5.38h-7.37z"/>
<path fill="#6c75c4" d="M98.40 429.58h7.37v5.38h-7.37z"/>
<path fill="#6f78c5" d="M76.30 434.96h7.37v5.38h-7.37z"/>
<path fill="#f28f90" d="M68.93 440.34h7.37v5.38h-7.37zM76.30 456.48h7.37v5.38h-7.37zM83.67 693.20h7.37v5.38h-7.37zM105.77 698.58h7.37v5.38h-7.37z"/>
<path fill="#7f87cc" d="M76.30 440.34h7.37v5.38h-7.37zM39.47 693.20h7.37v5.38h-7.37z"/>
<path fill="#a9aedc" d="M83.67 440.34h7.37v5.38h-7.37zM39.47 655.54h7.37v5.38h-7.37z"/>
<path fill="#7f87cb" d="M105.77 440.34h7.37v5.38h-7.37zM54.20 703.96h7.37v5.38h-7.37z"/>
<path fill="#f4a7a9" d="M39.47 445.72h7.37v5.38h-7.37zM83.67 494.14h7.37v5.38h-7.37zM113.13 547.94h7.37v5.38h-7.37zM98.40 607.12h7.37v5.38h-7.37z"/>
<path fill="#f3999a" d="M46.83 445.72h7.37v5.38h-7.37zM76.30 623.26h7.37v5.38h-7.37zM98.40 687.82h7.37v5.38h-7.37z"/>
<path fill="#f4aeaf" d="M54.20 445.72h7.37v5.38h-7.37zM76.30 510.28h7.37v5.38h-7.37zM76.30 542.56h7.37v5.38h-7.37zM113.13 580.22h7.37v5.38h-7.37zM105.77 677.06h7.37v5.38h-7.37z"/>
<path fill="#7b84ca" d="M91.03 445.72h7.37v5.38h-7.37z"/>
<path fill="#e2e2f1" d="M32.10 451.10h7.37v5.38h-7.37zM68.93 574.84h7.37v5.38h-7.37zM68.93 617.88h7.37v5.38h-7.37z"/>
<path fill="#b6bae0" d="M39.47 451.10h7.37v5.38h-7.37zM32.10 531.80h7.37v5.38h-7.37zM54.20 558.70h7.37v5.38h-7.37z"/>
<path fill="#cbcde8" d="M46.83 451.10h7.37v5.38h-7.37zM61.57 467.24h7.37v5.38h-7.37zM32.10 504.90h7.37v5.38h-7.37zM39.47 590.98h7.37v5.38h-7.37zM32.10 607.12h7.37v5.38h-7.37zM68.93 634.02h7.37v5.38h-7.37z"/>
<path fill="#cacce8" d="M54.20 451.10h7.37v5.38h-7.37zM54.20 537.18h7.37v5.38h-7.37zM54.20 580.22h7.37v5.38h-7.37zM68.93 596.36h7.37v5.38h-7.37z"/>
<path fill="#c5c7e6" d="M61.57 451.10h7.37v5.38h-7.37zM68.93 515.66h7.37v5.38h-7.37zM39.47 569.46h7.37v5.38h-7.37zM68.93 628.64h7.37v5.38h-7.37z"/>
<path fill="#cfd1ea" d="M68.93 451.10h7.37v5.38h-7.37zM39.47 542.56h7.37v5.38h-7.37z"/>
<path fill="#f6c5c7" d="M91.03 451.10h7.37v5.38h-7.37zM98.40 617.88h7.37v5.38h-7.37z"/>
<path fill="#f4b0b2" d="M105.77 451.10h7.37v5.38h-7.37z"/>
<path fill="#f6bfc1" d="M113.13 451.10h7.37v5.38h-7.37zM105.77 526.42h7.37v5.38h-7.37zM83.67 542.56h7.37v5.38h-7.37zM105.77 547.94h7.37v5.38h-7.37z"/>
<path fill="#bec1e3" d="M32.10 456.48h7.37v5.38h-7.37zM68.93 483.38h7.37v5.38h-7.37zM61.57 521.04h7.37v5.38h-7.37zM61.57 569.46h7.37v5.38h-7.37zM54.20 612.50h7.37v5.38h-7.37zM68.93 623.26h7.37v5.38h-7.37z"/>
<path fill="#bbbee2" d="M61.57 456.48h7.37v5.38h-7.37zM46.83 472.62h7.37v5.38h-7.37zM32.10 515.66h7.37v5.38h-7.37zM39.47 521.04h7.37v5.38h-7.37zM54.20 542.56h7.37v5.38h-7.37zM39.47 639.40h7.37v5.38h-7.37zM68.93 666.30h7.37v5.38h-7.37z"/>
<path fill="#bdc0e3" d="M68.93 456.48h7.37v5.38h-7.37zM32.10 499.52h7.37v5.38h-7.37zM61.57 499.52h7.37v5.38h-7.37zM46.83 504.90h7.37v5.38h-7.37zM46.83 537.18h7.37v5.38h-7.37zM46.83 564.08h7.37v5.38h-7.37z"/>
<path fill="#f7d6d8" d="M91.03 456.48h7.37v5.38h-7.37z"/>
<path fill="#f7d2d3" d="M113.13 456.48h7.37v5.38h-7.37zM98.40 564.08h7.37v5.38h-7.37z"/>
<path fill="#e7e7f3" d="M32.10 461.86h7.37v5.38h-7.37z"/>
<path fill="#c4c6e6" d="M61.57 461.86h7.37v5.38h-7.37zM32.10 494.14h7.37v5.38h-7.37zM39.47 564.08h7.37v5.38h-7.37z"/>
<path fill="#f5b7b8" d="M91.03 461.86h7.37v5.38h-7.37zM76.30 504.90h7.37v5.38h-7.37zM113.13 671.68h7.37v5.38h-7.37z"/>
<path fill="#f5b4b6" d="M98.40 461.86h7.37v5.38h-7.37zM98.40 478.00h7.37v5.38h-7.37zM98.40 547.94h7.37v5.38h-7.37z"/>
<path fill="#e4e4f2" d="M32.10 467.24h7.37v5.38h-7.37z"/>
<path fill="#c7c9e7" d="M46.83 467.24h7.37v5.38h-7.37zM54.20 488.76h7.37v5.38h-7.37zM68.93 494.14h7.37v5.38h-7.37zM54.20 526.42h7.37v5.38h-7.37z"/>
<path fill="#b2b6df" d="M54.20 467.24h7.37v5.38h-7.37zM54.20 483.38h7.37v5.38h-7.37zM61.57 494.14h7.37v5.38h-7.37zM61.57 515.66h7.37v5.38h-7.37zM32.10 526.42h7.37v5.38h-7.37zM61.57 585.60h7.37v5.38h-7.37zM46.83 596.36h7.37v5.38h-7.37zM32.10 628.64h7.37v5.38h-7.37z"/>
<path fill="#ced0e9" d="M68.93 467.24h7.37v5.38h-7.37zM54.20 521.04h7.37v5.38h-7.37zM39.47 531.80h7.37v5.38h-7.37zM54.20 596.36h7.37v5.38h-7.37z"/>
<path fill="#f5bbbd" d="M76.30 467.24h7.37v5.38h-7.37z"/>
<path fill="#f7d5d7" d="M83.67 467.24h7.37v5.38h-7.37z"/>
<path fill="#f7cdce" d="M105.77 467.24h7.37v5.38h-7.37z"/>
<path fill="#f8dfe1" d="M113.13 467.24h7.37v5.38h-7.37zM113.13 612.50h7.37v5.38h-7.37z"/>
<path fill="#c9cbe7" d="M32.10 472.62h7.37v5.38h-7.37zM39.47 488.76h7.37v5.38h-7.37z"/>
<path fill="#cccee9" d="M39.47 472.62h7.37v5.38h-7.37zM68.93 531.80h7.37v5.38h-7.37z"/>
<path fill="#c5c8e6" d="M68.93 472.62h7.37v5.38h-7.37zM61.57 537.18h7.37v5.38h-7.37z"/>
<path fill="#f5bdbe" d="M76.30 472.62h7.37v5.38h-7.37zM113.13 526.42h7.37v5.38h-7.37zM83.67 607.12h7.37v5.38h-7.37z"/>
<path fill="#f5b5b6" d="M83.67 472.62h7.37v5.38h-7.37z"/>
<path fill="#f9eeef" d="M91.03 472.62h7.37v5.38h-7.37z"/>
<path fill="#b8bbe1" d="M32.10 478.00h7.37v5.38h-7.37zM61.57 478.00h7.37v5.38h-7.37zM39.47 483.38h7.37v5.38h-7.37zM46.83 515.66h7.37v5.38h-7.37zM39.47 574.84h7.37v5.38h-7.37z"/>
<path fill="#b9bde2" d="M39.47 478.00h7.37v5.38h-7.37z"/>
<path fill="#f5b2b4" d="M83.67 478.00h7.37v5.38h-7.37zM105.77 564.08h7.37v5.38h-7.37z"/>
<path fill="#f5bdbf" d="M91.03 478.00h7.37v5.38h-7.37zM91.03 521.04h7.37v5.38h-7.37zM91.03 574.84h7.37v5.38h-7.37z"/>
<path fill="#b4b8e0" d="M61.57 483.38h7.37v5.38h-7.37zM61.57 596.36h7.37v5.38h-7.37zM46.83 601.74h7.37v5.38h-7.37zM39.47 628.64h7.37v5.38h-7.37z"/>
<path fill="#f6cbcc" d="M76.30 483.38h7.37v5.38h-7.37zM91.03 488.76h7.37v5.38h-7.37z"/>
<path fill="#a7acdb" d="M61.57 488.76h7.37v5.38h-7.37zM46.83 569.46h7.37v5.38h-7.37zM68.93 644.78h7.37v5.38h-7.37zM32.10 677.06h7.37v5.38h-7.37z"/>
<path fill="#ced0ea" d="M68.93 488.76h7.37v5.38h-7.37z"/>
<path fill="#f7d0d2" d="M76.30 488.76h7.37v5.38h-7.37zM83.67 504.90h7.37v5.38h-7.37z"/>
<path fill="#f8e1e2" d="M113.13 488.76h7.37v5.38h-7.37z"/>
<path fill="#c8cae7" d="M54.20 494.14h7.37v5.38h-7.37zM68.93 558.70h7.37v5.38h-7.37zM68.93 580.22h7.37v5.38h-7.37zM46.83 590.98h7.37v5.38h-7.37zM68.93 607.12h7.37v5.38h-7.37z"/>
<path fill="#f6c7c8" d="M98.40 494.14h7.37v5.38h-7.37zM76.30 639.40h7.37v5.38h-7.37z"/>
<path fill="#d2d3eb" d="M46.83 499.52h7.37v5.38h-7.37zM54.20 574.84h7.37v5.38h-7.37z"/>
<path fill="#b3b7df" d="M54.20 499.52h7.37v5.38h-7.37zM39.47 526.42h7.37v5.38h-7.37zM32.10 542.56h7.37v5.38h-7.37zM46.83 542.56h7.37v5.38h-7.37zM32.10 569.46h7.37v5.38h-7.37zM61.57 617.88h7.37v5.38h-7.37zM32.10 623.26h7.37v5.38h-7.37zM32.10 671.68h7.37v5.38h-7.37zM68.93 682.44h7.37v5.38h-7.37z"/>
<path fill="#cbcce8" d="M68.93 499.52h7.37v5.38h-7.37zM68.93 510.28h7.37v5.38h-7.37z"/>
<path fill="#f5b3b5" d="M91.03 499.52h7.37v5.38h-7.37zM76.30 526.42h7.37v5.38h-7.37zM91.03 542.56h7.37v5.38h-7.37zM105.77 585.60h7.37v5.38h-7.37zM113.13 601.74h7.37v5.38h-7.37z"/>
<path fill="#d4d5ec" d="M54.20 504.90h7.37v5.38h-7.37zM39.47 515.66h7.37v5.38h-7.37zM32.10 547.94h7.37v5.38h-7.37z"/>
<path fill="#a9addb" d="M61.57 504.90h7.37v5.38h-7.37zM46.83 623.26h7.37v5.38h-7.37zM68.93 687.82h7.37v5.38h-7.37z"/>
<path fill="#e0e1f0" d="M68.93 504.90h7.37v5.38h-7.37z"/>
<path fill="#f8d8da" d="M91.03 504.90h7.37v5.38h-7.37zM91.03 553.32h7.37v5.38h-7.37z"/>
<path fill="#f4acad" d="M98.40 504.90h7.37v5.38h-7.37zM113.13 531.80h7.37v5.38h-7.37zM105.77 671.68h7.37v5.38h-7.37z"/>
<path fill="#f7d2d4" d="M105.77 504.90h7.37v5.38h-7.37zM83.67 553.32h7.37v5.38h-7.37zM105.77 590.98h7.37v5.38h-7.37z"/>
<path fill="#c1c4e4" d="M32.10 510.28h7.37v5.38h-7.37zM61.57 574.84h7.37v5.38h-7.37z"/>
<path fill="#d8d9ed" d="M39.47 510.28h7.37v5.38h-7.37zM32.10 553.32h7.37v5.38h-7.37zM54.20 590.98h7.37v5.38h-7.37z"/>
<path fill="#c1c3e4" d="M46.83 510.28h7.37v5.38h-7.37zM68.93 542.56h7.37v5.38h-7.37zM54.20 569.46h7.37v5.38h-7.37z"/>
<path fill="#9da3d7" d="M54.20 510.28h7.37v5.38h-7.37zM46.83 650.16h7.37v5.38h-7.37z"/>
<path fill="#c4c7e6" d="M61.57 510.28h7.37v5.38h-7.37z"/>
<path fill="#f39c9e" d="M98.40 510.28h7.37v5.38h-7.37z"/>
<path fill="#bcbfe3" d="M54.20 515.66h7.37v5.38h-7.37zM46.83 580.22h7.37v5.38h-7.37zM68.93 677.06h7.37v5.38h-7.37z"/>
<path fill="#f8dbdd" d="M83.67 515.66h7.37v5.38h-7.37z"/>
<path fill="#f6c2c4" d="M91.03 515.66h7.37v5.38h-7.37zM98.40 526.42h7.37v5.38h-7.37zM91.03 531.80h7.37v5.38h-7.37z"/>
<path fill="#f6c1c2" d="M98.40 515.66h7.37v5.38h-7.37zM105.77 537.18h7.37v5.38h-7.37zM83.67 574.84h7.37v5.38h-7.37zM105.77 634.02h7.37v5.38h-7.37z"/>
<path fill="#f6c8ca" d="M105.77 515.66h7.37v5.38h-7.37zM105.77 553.32h7.37v5.38h-7.37z"/>
<path fill="#bfc1e4" d="M32.10 521.04h7.37v5.38h-7.37z"/>
<path fill="#dadaee" d="M46.83 521.04h7.37v5.38h-7.37z"/>
<path fill="#d9d9ed" d="M68.93 521.04h7.37v5.38h-7.37z"/>
<path fill="#f7cccd" d="M98.40 521.04h7.37v5.38h-7.37z"/>
<path fill="#f6c5c6" d="M113.13 521.04h7.37v5.38h-7.37z"/>
<path fill="#acb1dd" d="M46.83 526.42h7.37v5.38h-7.37z"/>
<path fill="#cfd0ea" d="M61.57 526.42h7.37v5.38h-7.37zM39.47 644.78h7.37v5.38h-7.37z"/>
<path fill="#f9e8ea" d="M91.03 526.42h7.37v5.38h-7.37z"/>
<path fill="#a7abdb" d="M61.57 531.80h7.37v5.38h-7.37z"/>
<path fill="#cdcee9" d="M32.10 537.18h7.37v5.38h-7.37z"/>
<path fill="#c4c6e5" d="M39.47 537.18h7.37v5.38h-7.37zM32.10 574.84h7.37v5.38h-7.37z"/>
<path fill="#c6c8e6" d="M68.93 537.18h7.37v5.38h-7.37zM46.83 574.84h7.37v5.38h-7.37zM39.47 585.60h7.37v5.38h-7.37z"/>
<path fill="#f5bcbd" d="M83.67 537.18h7.37v5.38h-7.37zM91.03 558.70h7.37v5.38h-7.37z"/>
<path fill="#f7cdcf" d="M98.40 537.18h7.37v5.38h-7.37z"/>
<path fill="#f6c7c9" d="M105.77 542.56h7.37v5.38h-7.37zM83.67 558.70h7.37v5.38h-7.37zM91.03 590.98h7.37v5.38h-7.37zM91.03 612.50h7.37v5.38h-7.37z"/>
<path fill="#f8dadc" d="M113.13 542.56h7.37v5.38h-7.37zM76.30 601.74h7.37v5.38h-7.37zM83.67 601.74h7.37v5.38h-7.37z"/>
<path fill="#d3d5eb" d="M39.47 547.94h7.37v5.38h-7.37z"/>
<path fill="#bbbfe2" d="M54.20 547.94h7.37v5.38h-7.37z"/>
<path fill="#d5d6ec" d="M61.57 547.94h7.37v5.38h-7.37z"/>
<path fill="#b9bce2" d="M39.47 553.32h7.37v5.38h-7.37z"/>
<path fill="#e6e5f2" d="M46.83 553.32h7.37v5.38h-7.37z"/>
<path fill="#f2f1f7" d="M68.93 553.32h7.37v5.38h-7.37z"/>
<path fill="#f6c0c1" d="M98.40 553.32h7.37v5.38h-7.37z"/>
<path fill="#c6c9e7" d="M32.10 558.70h7.37v5.38h-7.37z"/>
<path fill="#d1d2ea" d="M39.47 558.70h7.37v5.38h-7.37z"/>
<path fill="#f7d4d5" d="M76.30 558.70h7.37v5.38h-7.37zM113.13 574.84h7.37v5.38h-7.37z"/>
<path fill="#f6bfc0" d="M113.13 558.70h7.37v5.38h-7.37z"/>
<path fill="#d7d8ed" d="M54.20 564.08h7.37v5.38h-7.37z"/>
<path fill="#dbdbee" d="M68.93 564.08h7.37v5.38h-7.37z"/>
<path fill="#f6c6c7" d="M76.30 564.08h7.37v5.38h-7.37zM113.13 569.46h7.37v5.38h-7.37z"/>
<path fill="#f8d9db" d="M83.67 564.08h7.37v5.38h-7.37zM83.67 580.22h7.37v5.38h-7.37z"/>
<path fill="#d0d1ea" d="M68.93 569.46h7.37v5.38h-7.37z"/>
<path fill="#f6c1c3" d="M76.30 569.46h7.37v5.38h-7.37z"/>
<path fill="#f7cfd0" d="M91.03 569.46h7.37v5.38h-7.37z"/>
<path fill="#f8d9da" d="M98.40 569.46h7.37v5.38h-7.37zM105.77 639.40h7.37v5.38h-7.37z"/>
<path fill="#f7d5d6" d="M105.77 574.84h7.37v5.38h-7.37z"/>
<path fill="#f5bbbc" d="M91.03 580.22h7.37v5.38h-7.37z"/>
<path fill="#f7ccce" d="M105.77 580.22h7.37v5.38h-7.37zM105.77 607.12h7.37v5.38h-7.37z"/>
<path fill="#c2c4e5" d="M46.83 585.60h7.37v5.38h-7.37z"/>
<path fill="#f5b6b8" d="M83.67 585.60h7.37v5.38h-7.37z"/>
<path fill="#f7cfd1" d="M91.03 585.60h7.37v5.38h-7.37z"/>
<path fill="#d2d4eb" d="M32.10 590.98h7.37v5.38h-7.37z"/>
<path fill="#f8e0e2" d="M83.67 590.98h7.37v5.38h-7.37z"/>
<path fill="#f8dadb" d="M113.13 590.98h7.37v5.38h-7.37z"/>
<path fill="#babde2" d="M32.10 596.36h7.37v5.38h-7.37zM39.47 612.50h7.37v5.38h-7.37zM61.57 612.50h7.37v5.38h-7.37z"/>
<path fill="#f4a9ab" d="M91.03 596.36h7.37v5.38h-7.37z"/>
<path fill="#c0c3e4" d="M32.10 601.74h7.37v5.38h-7.37zM54.20 677.06h7.37v5.38h-7.37z"/>
<path fill="#dedeef" d="M39.47 601.74h7.37v5.38h-7.37z"/>
<path fill="#d8d8ed" d="M54.20 601.74h7.37v5.38h-7.37zM54.20 607.12h7.37v5.38h-7.37z"/>
<path fill="#e5e5f2" d="M68.93 601.74h7.37v5.38h-7.37z"/>
<path fill="#cacbe8" d="M46.83 607.12h7.37v5.38h-7.37z"/>
<path fill="#e9e8f3" d="M32.10 612.50h7.37v5.38h-7.37z"/>
<path fill="#ebeaf4" d="M68.93 612.50h7.37v5.38h-7.37z"/>
<path fill="#c3c6e5" d="M32.10 617.88h7.37v5.38h-7.37zM54.20 628.64h7.37v5.38h-7.37z"/>
<path fill="#aeb3dd" d="M39.47 617.88h7.37v5.38h-7.37z"/>
<path fill="#d4d5eb" d="M46.83 617.88h7.37v5.38h-7.37z"/>
<path fill="#b8bce1" d="M54.20 617.88h7.37v5.38h-7.37z"/>
<path fill="#f7d1d2" d="M91.03 623.26h7.37v5.38h-7.37z"/>
<path fill="#f4a6a8" d="M113.13 623.26h7.37v5.38h-7.37z"/>
<path fill="#f4adaf" d="M98.40 628.64h7.37v5.38h-7.37z"/>
<path fill="#f07c7c" d="M113.13 628.64h7.37v5.38h-7.37z"/>
<path fill="#c2c5e5" d="M32.10 634.02h7.37v5.38h-7.37z"/>
<path fill="#8f95d1" d="M61.57 639.40h7.37v5.38h-7.37z"/>
<path fill="#bcbfe2" d="M68.93 639.40h7.37v5.38h-7.37z"/>
<path fill="#f07778" d="M113.13 639.40h7.37v5.38h-7.37zM91.03 666.30h7.37v5.38h-7.37zM105.77 709.34h7.37v5.38h-7.37z"/>
<path fill="#b3b6df" d="M68.93 650.16h7.37v5.38h-7.37z"/>
<path fill="#f18282" d="M76.30 650.16h7.37v5.38h-7.37z"/>
<path fill="#a0a6d8" d="M46.83 655.54h7.37v5.38h-7.37z"/>
<path fill="#f4a5a7" d="M76.30 660.92h7.37v5.38h-7.37z"/>
<path fill="#f6c4c6" d="M105.77 660.92h7.37v5.38h-7.37z"/>
<path fill="#9da2d7" d="M32.10 666.30h7.37v5.38h-7.37z"/>
<path fill="#878ecf" d="M39.47 666.30h7.37v5.38h-7.37zM32.10 698.58h7.37v5.38h-7.37zM32.10 714.72h7.37v5.38h-7.37z"/>
<path fill="#878fcf" d="M46.83 671.68h7.37v5.38h-7.37z"/>
<path fill="#6670c2" d="M61.57 677.06h7.37v5.38h-7.37z"/>
<path fill="#9ca2d6" d="M54.20 682.44h7.37v5.38h-7.37z"/>
<path fill="#f18989" d="M105.77 682.44h7.37v5.38h-7.37z"/>
<path fill="#858cce" d="M61.57 687.82h7.37v5.38h-7.37z"/>
<path fill="#8189cc" d="M54.20 693.20h7.37v5.38h-7.37zM32.10 703.96h7.37v5.38h-7.37zM32.10 709.34h7.37v5.38h-7.37zM46.83 714.72h7.37v5.38h-7.37z"/>
<path fill="#8289cd" d="M61.57 693.20h7.37v5.38h-7.37z"/>
<path fill="#f18485" d="M91.03 693.20h7.37v5.38h-7.37z"/>
<path fill="#a3a9d9" d="M68.93 698.58h7.37v5.38h-7.37z"/>
<path fill="#f28d8d" d="M76.30 698.58h7.37v5.38h-7.37z"/>
<path fill="#f18a8a" d="M83.67 698.58h7.37v5.38h-7.37z"/>
<path fill="#848bcd" d="M61.57 703.96h7.37v5.38h-7.37z"/>
<path fill="#ef6a6b" d="M91.03 703.96h7.37v5.38h-7.37z"/>
<path fill="#878ece" d="M61.57 709.34h7.37v5.38h-7.37z"/>
<path fill="#f07474" d="M113.13 709.34h7.37v5.38h-7.37z"/>
<path fill="#f18283" d="M91.03 714.72h7.37v5.38h-7.37z"/>
<path fill="#f18586" d="M98.40 714.72h7.37v5.38h-7.37z"/>
<path d="M32.10 182.1V720.10M39.47 182.1V720.10M46.83 182.1V720.10M54.20 182.1V720.10M61.57 182.1V720.10M68.93 182.1V720.10M76.30 182.1V720.10M83.67 182.1V720.10M91.03 182.1V720.10M98.40 182.1V720.10M105.77 182.1V720.10M113.13 182.1V720.10M120.50 182.1V720.10M32.1 182.10H120.50M32.1 187.48H120.50M32.1 192.86H120.50M32.1 198.24H120.50M32.1 203.62H120.50M32.1 209.00H120.50M32.1 214.38H120.50M32.1 219.76H120.50M32.1 225.14H120.50M32.1 230.52H120.50M32.1 235.90H120.50M32.1 241.28H120.50M32.1 246.66H120.50M32.1 252.04H120.50M32.1 257.42H120.50M32.1 262.80H120.50M32.1 268.18H120.50M32.1 273.56H120.50M32.1 278.94H120.50M32.1 284.32H120.50M32.1 289.70H120.50M32.1 295.08H120.50M32.1 300.46H120.50M32.1 305.84H120.50M32.1 311.22H120.50M32.1 316.60H120.50M32.1 321.98H120.50M32.1 327.36H120.50M32.1 332.74H120.50M32.1 338.12H120.50M32.1 343.50H120.50M32.1 348.88H120.50M32.1 354.26H120.50M32.1 359.64H120.50M32.1 365.02H120.50M32.1 370.40H120.50M32.1 375.78H120.50M32.1 381.16H120.50M32.1 386.54H120.50M32.1 391.92H120.50M32.1 397.30H120.50M32.1 402.68H120.50M32.1 408.06H120.50M32.1 413.44H120.50M32.1 418.82H120.50M32.1 424.20H120.50M32.1 429.58H120.50M32.1 434.96H120.50M32.1 440.34H120.50M32.1 445.72H120.50M32.1 451.10H120.50M32.1 456.48H120.50M32.1 461.86H120.50M32.1 467.24H120.50M32.1 472.62H120.50M32.1 478.00H120.50M32.1 483.38H120.50M32.1 488.76H120.50M32.1 494.14H120.50M32.1 499.52H120.50M32.1 504.90H120.50M32.1 510.28H120.50M32.1 515.66H120.50M32.1 521.04H120.50M32.1 526.42H120.50M32.1 531.80H120.50M32.1 537.18H120.50M32.1 542.56H120.50M32.1 547.94H120.50M32.1 553.32H120.50M32.1 558.70H120.50M32.1 564.08H120.50M32.1 569.46H120.50M32.1 574.84H120.50M32.1 580.22H120.50M32.1 585.60H120.50M32.1 590.98H120.50M32.1 596.36H120.50M32.1 601.74H120.50M32.1 607.12H120.50M32.1 612.50H120.50M32.1 617.88H120.50M32.1 623.26H120.50M32.1 628.64H120.50M32.1 634.02H120.50M32.1 639.40H120.50M32.1 644.78H120.50M32.1 650.16H120.50M32.1 655.54H120.50M32.1 660.92H120.50M32.1 666.30H120.50M32.1 671.68H120.50M32.1 677.06H120.50M32.1 682.44H120.50M32.1 687.82H120.50M32.1 693.20H120.50M32.1 698.58H120.50M32.1 703.96H120.50M32.1 709.34H120.50M32.1 714.72H120.50M32.1 720.10H120.50" stroke="#3e3838" stroke-width="0.75" stroke-opacity="0.72" fill="none"/>
<text x="122.3" y="186.39" font-size="4.5" text-anchor="start" fill="#4a4a4a">DFNA5</text>
<text x="122.3" y="191.77" font-size="4.5" text-anchor="start" fill="#4a4a4a">C17orf87</text>
<text x="122.3" y="197.15" font-size="4.5" text-anchor="start" fill="#4a4a4a">CCDC25</text>
<text x="122.3" y="202.53" font-size="4.5" text-anchor="start" fill="#4a4a4a">CCL2</text>
<text x="122.3" y="207.91" font-size="4.5" text-anchor="start" fill="#4a4a4a">LILRA2</text>
<text x="122.3" y="213.29" font-size="4.5" text-anchor="start" fill="#4a4a4a">PVRIG</text>
<text x="122.3" y="218.67" font-size="4.5" text-anchor="start" fill="#4a4a4a">IL7R</text>
<text x="122.3" y="224.05" font-size="4.5" text-anchor="start" fill="#4a4a4a">PECAM1</text>
<text x="122.3" y="229.43" font-size="4.5" text-anchor="start" fill="#4a4a4a">TXNDC3</text>
<text x="122.3" y="234.81" font-size="4.5" text-anchor="start" fill="#4a4a4a">NME1</text>
<text x="122.3" y="240.19" font-size="4.5" text-anchor="start" fill="#4a4a4a">SLC7A11</text>
<text x="122.3" y="245.57" font-size="4.5" text-anchor="start" fill="#4a4a4a">CMAH</text>
<text x="122.3" y="250.95" font-size="4.5" text-anchor="start" fill="#4a4a4a">FAIM3</text>
<text x="122.3" y="256.33" font-size="4.5" text-anchor="start" fill="#4a4a4a">ACSL5</text>
<text x="122.3" y="261.71" font-size="4.5" text-anchor="start" fill="#4a4a4a">RCN1</text>
<text x="122.3" y="267.09" font-size="4.5" text-anchor="start" fill="#4a4a4a">PLAC8</text>
<text x="122.3" y="272.47" font-size="4.5" text-anchor="start" fill="#4a4a4a">NOG</text>
<text x="122.3" y="277.85" font-size="4.5" text-anchor="start" fill="#4a4a4a">CCDC85</text>
<text x="122.3" y="283.23" font-size="4.5" text-anchor="start" fill="#4a4a4a">MTMR2</text>
<text x="122.3" y="288.61" font-size="4.5" text-anchor="start" fill="#4a4a4a">PSAT1</text>
<text x="122.3" y="293.99" font-size="4.5" text-anchor="start" fill="#4a4a4a">DOK3</text>
<text x="122.3" y="299.37" font-size="4.5" text-anchor="start" fill="#4a4a4a">BST2</text>
<text x="122.3" y="304.75" font-size="4.5" text-anchor="start" fill="#4a4a4a">MYC</text>
<text x="122.3" y="310.13" font-size="4.5" text-anchor="start" fill="#4a4a4a">PTPN22</text>
<text x="122.3" y="315.51" font-size="4.5" text-anchor="start" fill="#4a4a4a">NIPAL3</text>
<text x="122.3" y="320.89" font-size="4.5" text-anchor="start" fill="#4a4a4a">STS</text>
<text x="122.3" y="326.27" font-size="4.5" text-anchor="start" fill="#4a4a4a">SLC39A8</text>
<text x="122.3" y="331.65" font-size="4.5" text-anchor="start" fill="#4a4a4a">GLIPR1</text>
<text x="122.3" y="337.03" font-size="4.5" text-anchor="start" fill="#4a4a4a">PEMT</text>
<text x="122.3" y="342.41" font-size="4.5" text-anchor="start" fill="#4a4a4a">NEXN</text>
<text x="122.3" y="347.79" font-size="4.5" text-anchor="start" fill="#4a4a4a">SFXN4</text>
<text x="122.3" y="353.17" font-size="4.5" text-anchor="start" fill="#4a4a4a">CD72</text>
<text x="122.3" y="358.55" font-size="4.5" text-anchor="start" fill="#4a4a4a">SLC22A15</text>
<text x="122.3" y="363.93" font-size="4.5" text-anchor="start" fill="#4a4a4a">NCF2</text>
<text x="122.3" y="369.31" font-size="4.5" text-anchor="start" fill="#4a4a4a">MTHFD1L</text>
<text x="122.3" y="374.69" font-size="4.5" text-anchor="start" fill="#4a4a4a">GJB2</text>
<text x="122.3" y="380.07" font-size="4.5" text-anchor="start" fill="#4a4a4a">ZNF467P</text>
<text x="122.3" y="385.45" font-size="4.5" text-anchor="start" fill="#4a4a4a">VAMP8</text>
<text x="122.3" y="390.83" font-size="4.5" text-anchor="start" fill="#4a4a4a">THBS1</text>
<text x="122.3" y="396.21" font-size="4.5" text-anchor="start" fill="#4a4a4a">MLKL</text>
<text x="122.3" y="401.59" font-size="4.5" text-anchor="start" fill="#4a4a4a">MPO</text>
<text x="122.3" y="406.97" font-size="4.5" text-anchor="start" fill="#4a4a4a">POLR1B</text>
<text x="122.3" y="412.35" font-size="4.5" text-anchor="start" fill="#4a4a4a">GLDC</text>
<text x="122.3" y="417.73" font-size="4.5" text-anchor="start" fill="#4a4a4a">FLJ31272</text>
<text x="122.3" y="423.11" font-size="4.5" text-anchor="start" fill="#4a4a4a">PPRC1</text>
<text x="122.3" y="428.49" font-size="4.5" text-anchor="start" fill="#4a4a4a">DHX33</text>
<text x="122.3" y="433.87" font-size="4.5" text-anchor="start" fill="#4a4a4a">WRS1</text>
<text x="122.3" y="439.25" font-size="4.5" text-anchor="start" fill="#4a4a4a">LOC728175</text>
<text x="122.3" y="444.63" font-size="4.5" text-anchor="start" fill="#4a4a4a">ALKBH8</text>
<text x="122.3" y="450.01" font-size="4.5" text-anchor="start" fill="#4a4a4a">CARD17</text>
<text x="122.3" y="455.39" font-size="4.5" text-anchor="start" fill="#4a4a4a">CDKL5</text>
<text x="122.3" y="460.77" font-size="4.5" text-anchor="start" fill="#4a4a4a">LYST</text>
<text x="122.3" y="466.15" font-size="4.5" text-anchor="start" fill="#4a4a4a">WDR47</text>
<text x="122.3" y="471.53" font-size="4.5" text-anchor="start" fill="#4a4a4a">DNAJB4</text>
<text x="122.3" y="476.91" font-size="4.5" text-anchor="start" fill="#4a4a4a">TRIM62</text>
<text x="122.3" y="482.29" font-size="4.5" text-anchor="start" fill="#4a4a4a">BTD</text>
<text x="122.3" y="487.67" font-size="4.5" text-anchor="start" fill="#4a4a4a">TARSL2</text>
<text x="122.3" y="493.05" font-size="4.5" text-anchor="start" fill="#4a4a4a">PELI1</text>
<text x="122.3" y="498.43" font-size="4.5" text-anchor="start" fill="#4a4a4a">TMEM50B</text>
<text x="122.3" y="503.81" font-size="4.5" text-anchor="start" fill="#4a4a4a">AASS</text>
<text x="122.3" y="509.19" font-size="4.5" text-anchor="start" fill="#4a4a4a">NEU1</text>
<text x="122.3" y="514.57" font-size="4.5" text-anchor="start" fill="#4a4a4a">FAM46C</text>
<text x="122.3" y="519.95" font-size="4.5" text-anchor="start" fill="#4a4a4a">CPEB4</text>
<text x="122.3" y="525.33" font-size="4.5" text-anchor="start" fill="#4a4a4a">SH3PXD2B</text>
<text x="122.3" y="530.71" font-size="4.5" text-anchor="start" fill="#4a4a4a">BVES</text>
<text x="122.3" y="536.09" font-size="4.5" text-anchor="start" fill="#4a4a4a">CCNYL1</text>
<text x="122.3" y="541.47" font-size="4.5" text-anchor="start" fill="#4a4a4a">CSRNP2</text>
<text x="122.3" y="546.85" font-size="4.5" text-anchor="start" fill="#4a4a4a">TM7SF2</text>
<text x="122.3" y="552.23" font-size="4.5" text-anchor="start" fill="#4a4a4a">ARSK</text>
<text x="122.3" y="557.61" font-size="4.5" text-anchor="start" fill="#4a4a4a">NDRG1</text>
<text x="122.3" y="562.99" font-size="4.5" text-anchor="start" fill="#4a4a4a">FLJ38109</text>
<text x="122.3" y="568.37" font-size="4.5" text-anchor="start" fill="#4a4a4a">PPP1R13B</text>
<text x="122.3" y="573.75" font-size="4.5" text-anchor="start" fill="#4a4a4a">ARHGAP26</text>
<text x="122.3" y="579.13" font-size="4.5" text-anchor="start" fill="#4a4a4a">CREB3L1</text>
<text x="122.3" y="584.51" font-size="4.5" text-anchor="start" fill="#4a4a4a">SLC44A1</text>
<text x="122.3" y="589.89" font-size="4.5" text-anchor="start" fill="#4a4a4a">PTPN12</text>
<text x="122.3" y="595.27" font-size="4.5" text-anchor="start" fill="#4a4a4a">NMT2</text>
<text x="122.3" y="600.65" font-size="4.5" text-anchor="start" fill="#4a4a4a">DNAJC1</text>
<text x="122.3" y="606.03" font-size="4.5" text-anchor="start" fill="#4a4a4a">GLIPR2</text>
<text x="122.3" y="611.41" font-size="4.5" text-anchor="start" fill="#4a4a4a">APLP2</text>
<text x="122.3" y="616.79" font-size="4.5" text-anchor="start" fill="#4a4a4a">SESN3</text>
<text x="122.3" y="622.17" font-size="4.5" text-anchor="start" fill="#4a4a4a">HIST2H2BE</text>
<text x="122.3" y="627.55" font-size="4.5" text-anchor="start" fill="#4a4a4a">VCL</text>
<text x="122.3" y="632.93" font-size="4.5" text-anchor="start" fill="#4a4a4a">HIST1H2BD</text>
<text x="122.3" y="638.31" font-size="4.5" text-anchor="start" fill="#4a4a4a">GCKR</text>
<text x="122.3" y="643.69" font-size="4.5" text-anchor="start" fill="#4a4a4a">MXD1</text>
<text x="122.3" y="649.07" font-size="4.5" text-anchor="start" fill="#4a4a4a">ACOT7</text>
<text x="122.3" y="654.45" font-size="4.5" text-anchor="start" fill="#4a4a4a">TESK2</text>
<text x="122.3" y="659.83" font-size="4.5" text-anchor="start" fill="#4a4a4a">USP53</text>
<text x="122.3" y="665.21" font-size="4.5" text-anchor="start" fill="#4a4a4a">SAT1</text>
<text x="122.3" y="670.59" font-size="4.5" text-anchor="start" fill="#4a4a4a">GLCE</text>
<text x="122.3" y="675.97" font-size="4.5" text-anchor="start" fill="#4a4a4a">HIST1H2BJ</text>
<text x="122.3" y="681.35" font-size="4.5" text-anchor="start" fill="#4a4a4a">CAPRIN2</text>
<text x="122.3" y="686.73" font-size="4.5" text-anchor="start" fill="#4a4a4a">HEXIM1</text>
<text x="122.3" y="692.11" font-size="4.5" text-anchor="start" fill="#4a4a4a">EFR3B</text>
<text x="122.3" y="697.49" font-size="4.5" text-anchor="start" fill="#4a4a4a">EPHX1</text>
<text x="122.3" y="702.87" font-size="4.5" text-anchor="start" fill="#4a4a4a">CRZL3</text>
<text x="122.3" y="708.25" font-size="4.5" text-anchor="start" fill="#4a4a4a">HIST2H2BF</text>
<text x="122.3" y="713.63" font-size="4.5" text-anchor="start" fill="#4a4a4a">FGD4</text>
<text x="122.3" y="719.01" font-size="4.5" text-anchor="start" fill="#4a4a4a">PRKAR2B</text>
<path d="M143.5 217.1H158.8" stroke="#000" stroke-width="1.4"/>
<path d="M137.3 217.1L145.0 214.8L143.4 217.1L145.0 219.4Z" fill="#000"/>
<path d="M143.5 303.1H158.8" stroke="#000" stroke-width="1.4"/>
<path d="M137.3 303.1L145.0 300.8L143.4 303.1L145.0 305.4Z" fill="#000"/>
<text x="55.2" y="169.2" font-size="6.4" font-weight="bold" text-anchor="middle" fill="#000">Veh</text>
<text x="99.2" y="169.2" font-size="6.4" font-weight="bold" text-anchor="middle" fill="#000">JQ1</text>
<path d="M34.6 170.5H73.9M79.4 170.5H119.6M34.6 178.6H50M55.6 178.6H73M79.4 178.6H95.8M101.3 178.6H119.6" stroke="#2a2a2a" stroke-width="1.0"/>
<text x="42.8" y="177.9" font-size="4.3" font-weight="bold" text-anchor="middle" fill="#000">M4</text>
<text x="64.7" y="177.9" font-size="4.3" font-weight="bold" text-anchor="middle" fill="#000">M5</text>
<text x="87.6" y="177.9" font-size="4.3" font-weight="bold" text-anchor="middle" fill="#000">M4</text>
<text x="110.4" y="177.9" font-size="4.3" font-weight="bold" text-anchor="middle" fill="#000">M5</text>
<defs><linearGradient id="gc" x1="0" x2="1"><stop offset="0" stop-color="#3a3d80"/><stop offset="0.3" stop-color="#6a6aa6"/><stop offset="0.52" stop-color="#f2f0f2"/><stop offset="0.72" stop-color="#d88092"/><stop offset="1" stop-color="#b02038"/></linearGradient><linearGradient id="gd" x1="0" x2="1"><stop offset="0" stop-color="#3a3ea0"/><stop offset="0.5" stop-color="#f6f4f6"/><stop offset="1" stop-color="#d02038"/></linearGradient><linearGradient id="gg" x1="0" x2="1"><stop offset="0" stop-color="#dc4656"/><stop offset="0.33" stop-color="#e8788a"/><stop offset="0.37" stop-color="#f0d2de"/><stop offset="0.5" stop-color="#efebf3"/><stop offset="0.7" stop-color="#c6c6e2"/><stop offset="0.77" stop-color="#8080c0"/><stop offset="1" stop-color="#4a4aa0"/></linearGradient></defs>
<rect x="135.9" y="170.4" width="34.3" height="2.9" fill="url(#gc)"/>
<text x="134.8" y="173.4" font-size="4.2" font-weight="bold" text-anchor="end" fill="#000">0.79</text>
<text x="171.0" y="173.4" font-size="4.2" font-weight="bold" text-anchor="start" fill="#000">1.21</text>
<text x="-0.1" y="180.6" font-size="14.2" font-weight="bold" text-anchor="start" fill="#000">C</text>
<rect x="222.50" y="204.00" width="17.69" height="11.06" fill="#ea2c26"/>
<rect x="240.19" y="204.00" width="17.69" height="11.06" fill="#ea2c26"/>
<rect x="257.88" y="204.00" width="17.69" height="11.06" fill="#ea2c26"/>
<rect x="275.57" y="204.00" width="17.69" height="11.06" fill="#ea2c26"/>
<rect x="293.27" y="204.00" width="17.69" height="11.06" fill="#ea2c26"/>
<rect x="310.96" y="204.00" width="17.69" height="11.06" fill="#ea2c26"/>
<rect x="328.65" y="204.00" width="17.69" height="11.06" fill="#ed4b46"/>
<rect x="346.34" y="204.00" width="17.69" height="11.06" fill="#ed4b46"/>
<rect x="364.03" y="204.00" width="17.69" height="11.06" fill="#ed4b46"/>
<rect x="381.73" y="204.00" width="17.69" height="11.06" fill="#ed4b46"/>
<rect x="399.42" y="204.00" width="17.69" height="11.06" fill="#ed4b46"/>
<rect x="417.11" y="204.00" width="17.69" height="11.06" fill="#ed4b46"/>
<rect x="222.50" y="215.06" width="17.69" height="11.06" fill="#eb3631"/>
<rect x="240.19" y="215.06" width="17.69" height="11.06" fill="#eb3631"/>
<rect x="257.88" y="215.06" width="17.69" height="11.06" fill="#eb3631"/>
<rect x="275.57" y="215.06" width="17.69" height="11.06" fill="#eb3c37"/>
<rect x="293.27" y="215.06" width="17.69" height="11.06" fill="#eb3c37"/>
<rect x="310.96" y="215.06" width="17.69" height="11.06" fill="#eb3c37"/>
<rect x="328.65" y="215.06" width="17.69" height="11.06" fill="#ee605b"/>
<rect x="346.34" y="215.06" width="17.69" height="11.06" fill="#ee605b"/>
<rect x="364.03" y="215.06" width="17.69" height="11.06" fill="#ee5550"/>
<rect x="381.73" y="215.06" width="17.69" height="11.06" fill="#f39794"/>
<rect x="399.42" y="215.06" width="17.69" height="11.06" fill="#f38f8c"/>
<rect x="417.11" y="215.06" width="17.69" height="11.06" fill="#f38f8c"/>
<rect x="222.50" y="226.11" width="17.69" height="11.06" fill="#ee5955"/>
<rect x="240.19" y="226.11" width="17.69" height="11.06" fill="#ee5955"/>
<rect x="257.88" y="226.11" width="17.69" height="11.06" fill="#ee5d59"/>
<rect x="275.57" y="226.11" width="17.69" height="11.06" fill="#ee5550"/>
<rect x="293.27" y="226.11" width="17.69" height="11.06" fill="#ee5550"/>
<rect x="310.96" y="226.11" width="17.69" height="11.06" fill="#ed514c"/>
<rect x="328.65" y="226.11" width="17.69" height="11.06" fill="#fcfafa"/>
<rect x="346.34" y="226.11" width="17.69" height="11.06" fill="#e0e0f1"/>
<rect x="364.03" y="226.11" width="17.69" height="11.06" fill="#d8d9ed"/>
<rect x="381.73" y="226.11" width="17.69" height="11.06" fill="#e8e8f4"/>
<rect x="399.42" y="226.11" width="17.69" height="11.06" fill="#e0e0f1"/>
<rect x="417.11" y="226.11" width="17.69" height="11.06" fill="#d0d2ea"/>
<rect x="222.50" y="237.17" width="17.69" height="11.06" fill="#f7bcba"/>
<rect x="240.19" y="237.17" width="17.69" height="11.06" fill="#f7bcba"/>
<rect x="257.88" y="237.17" width="17.69" height="11.06" fill="#f7bcba"/>
<rect x="275.57" y="237.17" width="17.69" height="11.06" fill="#f7bcba"/>
<rect x="293.27" y="237.17" width="17.69" height="11.06" fill="#f7bcba"/>
<rect x="310.96" y="237.17" width="17.69" height="11.06" fill="#f7bcba"/>
<rect x="328.65" y="237.17" width="17.69" height="11.06" fill="#f7bcba"/>
<rect x="346.34" y="237.17" width="17.69" height="11.06" fill="#f7bcba"/>
<rect x="364.03" y="237.17" width="17.69" height="11.06" fill="#f7c0bf"/>
<rect x="381.73" y="237.17" width="17.69" height="11.06" fill="#f7c0bf"/>
<rect x="399.42" y="237.17" width="17.69" height="11.06" fill="#f7bcba"/>
<rect x="417.11" y="237.17" width="17.69" height="11.06" fill="#f7c0bf"/>
<rect x="222.50" y="248.22" width="17.69" height="11.06" fill="#f8c6c5"/>
<rect x="240.19" y="248.22" width="17.69" height="11.06" fill="#f8c6c5"/>
<rect x="257.88" y="248.22" width="17.69" height="11.06" fill="#f8c6c5"/>
<rect x="275.57" y="248.22" width="17.69" height="11.06" fill="#f8c6c5"/>
<rect x="293.27" y="248.22" width="17.69" height="11.06" fill="#f8c6c5"/>
<rect x="310.96" y="248.22" width="17.69" height="11.06" fill="#f8c6c5"/>
<rect x="328.65" y="248.22" width="17.69" height="11.06" fill="#f8c6c5"/>
<rect x="346.34" y="248.22" width="17.69" height="11.06" fill="#f8cdcb"/>
<rect x="364.03" y="248.22" width="17.69" height="11.06" fill="#f8c6c5"/>
<rect x="381.73" y="248.22" width="17.69" height="11.06" fill="#f8cdcb"/>
<rect x="399.42" y="248.22" width="17.69" height="11.06" fill="#f8d1d0"/>
<rect x="417.11" y="248.22" width="17.69" height="11.06" fill="#f8cdcb"/>
<rect x="222.50" y="259.28" width="17.69" height="11.06" fill="#f9d5d4"/>
<rect x="240.19" y="259.28" width="17.69" height="11.06" fill="#f9d5d4"/>
<rect x="257.88" y="259.28" width="17.69" height="11.06" fill="#f9d5d4"/>
<rect x="275.57" y="259.28" width="17.69" height="11.06" fill="#f9d5d4"/>
<rect x="293.27" y="259.28" width="17.69" height="11.06" fill="#f9d5d4"/>
<rect x="310.96" y="259.28" width="17.69" height="11.06" fill="#f9d5d4"/>
<rect x="328.65" y="259.28" width="17.69" height="11.06" fill="#f9d5d4"/>
<rect x="346.34" y="259.28" width="17.69" height="11.06" fill="#f8d1d0"/>
<rect x="364.03" y="259.28" width="17.69" height="11.06" fill="#f9dbda"/>
<rect x="381.73" y="259.28" width="17.69" height="11.06" fill="#f8d1d0"/>
<rect x="399.42" y="259.28" width="17.69" height="11.06" fill="#f9dbda"/>
<rect x="417.11" y="259.28" width="17.69" height="11.06" fill="#f9d5d4"/>
<rect x="222.50" y="270.33" width="17.69" height="11.06" fill="#fae1e1"/>
<rect x="240.19" y="270.33" width="17.69" height="11.06" fill="#fae5e5"/>
<rect x="257.88" y="270.33" width="17.69" height="11.06" fill="#fae1e1"/>
<rect x="275.57" y="270.33" width="17.69" height="11.06" fill="#fae5e5"/>
<rect x="293.27" y="270.33" width="17.69" height="11.06" fill="#fae1e1"/>
<rect x="310.96" y="270.33" width="17.69" height="11.06" fill="#fae5e5"/>
<rect x="328.65" y="270.33" width="17.69" height="11.06" fill="#fae1e1"/>
<rect x="346.34" y="270.33" width="17.69" height="11.06" fill="#fbeae9"/>
<rect x="364.03" y="270.33" width="17.69" height="11.06" fill="#fae5e5"/>
<rect x="381.73" y="270.33" width="17.69" height="11.06" fill="#fbf0ef"/>
<rect x="399.42" y="270.33" width="17.69" height="11.06" fill="#fbeae9"/>
<rect x="417.11" y="270.33" width="17.69" height="11.06" fill="#fbeeed"/>
<rect x="222.50" y="281.39" width="17.69" height="11.06" fill="#fbf0ef"/>
<rect x="240.19" y="281.39" width="17.69" height="11.06" fill="#fcfafa"/>
<rect x="257.88" y="281.39" width="17.69" height="11.06" fill="#fcf6f6"/>
<rect x="275.57" y="281.39" width="17.69" height="11.06" fill="#fbf0ef"/>
<rect x="293.27" y="281.39" width="17.69" height="11.06" fill="#fbf4f4"/>
<rect x="310.96" y="281.39" width="17.69" height="11.06" fill="#fae1e1"/>
<rect x="328.65" y="281.39" width="17.69" height="11.06" fill="#f7bcba"/>
<rect x="346.34" y="281.39" width="17.69" height="11.06" fill="#f7c0bf"/>
<rect x="364.03" y="281.39" width="17.69" height="11.06" fill="#fae1e1"/>
<rect x="381.73" y="281.39" width="17.69" height="11.06" fill="#f7bcba"/>
<rect x="399.42" y="281.39" width="17.69" height="11.06" fill="#f8c6c5"/>
<rect x="417.11" y="281.39" width="17.69" height="11.06" fill="#fae5e5"/>
<rect x="222.50" y="292.44" width="17.69" height="11.06" fill="#e8e8f4"/>
<rect x="240.19" y="292.44" width="17.69" height="11.06" fill="#f2f1f8"/>
<rect x="257.88" y="292.44" width="17.69" height="11.06" fill="#ecebf5"/>
<rect x="275.57" y="292.44" width="17.69" height="11.06" fill="#e8e8f4"/>
<rect x="293.27" y="292.44" width="17.69" height="11.06" fill="#ecebf5"/>
<rect x="310.96" y="292.44" width="17.69" height="11.06" fill="#f2f1f8"/>
<rect x="328.65" y="292.44" width="17.69" height="11.06" fill="#d4d5ec"/>
<rect x="346.34" y="292.44" width="17.69" height="11.06" fill="#cacce8"/>
<rect x="364.03" y="292.44" width="17.69" height="11.06" fill="#d0d2ea"/>
<rect x="381.73" y="292.44" width="17.69" height="11.06" fill="#d4d5ec"/>
<rect x="399.42" y="292.44" width="17.69" height="11.06" fill="#cccee8"/>
<rect x="417.11" y="292.44" width="17.69" height="11.06" fill="#d4d5ec"/>
<rect x="222.50" y="303.50" width="17.69" height="11.06" fill="#e4e4f2"/>
<rect x="240.19" y="303.50" width="17.69" height="11.06" fill="#e8e8f4"/>
<rect x="257.88" y="303.50" width="17.69" height="11.06" fill="#e4e4f2"/>
<rect x="275.57" y="303.50" width="17.69" height="11.06" fill="#e4e4f2"/>
<rect x="293.27" y="303.50" width="17.69" height="11.06" fill="#e8e8f4"/>
<rect x="310.96" y="303.50" width="17.69" height="11.06" fill="#e8e8f4"/>
<rect x="328.65" y="303.50" width="17.69" height="11.06" fill="#cacce8"/>
<rect x="346.34" y="303.50" width="17.69" height="11.06" fill="#c4c6e5"/>
<rect x="364.03" y="303.50" width="17.69" height="11.06" fill="#cacce8"/>
<rect x="381.73" y="303.50" width="17.69" height="11.06" fill="#cacce8"/>
<rect x="399.42" y="303.50" width="17.69" height="11.06" fill="#c4c6e5"/>
<rect x="417.11" y="303.50" width="17.69" height="11.06" fill="#cacce8"/>
<rect x="222.50" y="314.56" width="17.69" height="11.06" fill="#e4e4f2"/>
<rect x="240.19" y="314.56" width="17.69" height="11.06" fill="#e8e8f4"/>
<rect x="257.88" y="314.56" width="17.69" height="11.06" fill="#e4e4f2"/>
<rect x="275.57" y="314.56" width="17.69" height="11.06" fill="#e8e8f4"/>
<rect x="293.27" y="314.56" width="17.69" height="11.06" fill="#e4e4f2"/>
<rect x="310.96" y="314.56" width="17.69" height="11.06" fill="#e8e8f4"/>
<rect x="328.65" y="314.56" width="17.69" height="11.06" fill="#bcbfe2"/>
<rect x="346.34" y="314.56" width="17.69" height="11.06" fill="#c0c3e3"/>
<rect x="364.03" y="314.56" width="17.69" height="11.06" fill="#b6badf"/>
<rect x="381.73" y="314.56" width="17.69" height="11.06" fill="#c0c3e3"/>
<rect x="399.42" y="314.56" width="17.69" height="11.06" fill="#bcbfe2"/>
<rect x="417.11" y="314.56" width="17.69" height="11.06" fill="#c0c3e3"/>
<rect x="222.50" y="325.61" width="17.69" height="11.06" fill="#dedef0"/>
<rect x="240.19" y="325.61" width="17.69" height="11.06" fill="#e4e4f2"/>
<rect x="257.88" y="325.61" width="17.69" height="11.06" fill="#dedef0"/>
<rect x="275.57" y="325.61" width="17.69" height="11.06" fill="#dedef0"/>
<rect x="293.27" y="325.61" width="17.69" height="11.06" fill="#e4e4f2"/>
<rect x="310.96" y="325.61" width="17.69" height="11.06" fill="#dedef0"/>
<rect x="328.65" y="325.61" width="17.69" height="11.06" fill="#cacce8"/>
<rect x="346.34" y="325.61" width="17.69" height="11.06" fill="#c4c6e5"/>
<rect x="364.03" y="325.61" width="17.69" height="11.06" fill="#cacce8"/>
<rect x="381.73" y="325.61" width="17.69" height="11.06" fill="#c4c6e5"/>
<rect x="399.42" y="325.61" width="17.69" height="11.06" fill="#cacce8"/>
<rect x="417.11" y="325.61" width="17.69" height="11.06" fill="#c0c3e3"/>
<rect x="222.50" y="336.67" width="17.69" height="11.06" fill="#d4d5ec"/>
<rect x="240.19" y="336.67" width="17.69" height="11.06" fill="#d4d5ec"/>
<rect x="257.88" y="336.67" width="17.69" height="11.06" fill="#d0d2ea"/>
<rect x="275.57" y="336.67" width="17.69" height="11.06" fill="#d4d5ec"/>
<rect x="293.27" y="336.67" width="17.69" height="11.06" fill="#d4d5ec"/>
<rect x="310.96" y="336.67" width="17.69" height="11.06" fill="#d8d9ed"/>
<rect x="328.65" y="336.67" width="17.69" height="11.06" fill="#fcfafa"/>
<rect x="346.34" y="336.67" width="17.69" height="11.06" fill="#cacce8"/>
<rect x="364.03" y="336.67" width="17.69" height="11.06" fill="#cacce8"/>
<rect x="381.73" y="336.67" width="17.69" height="11.06" fill="#cacce8"/>
<rect x="399.42" y="336.67" width="17.69" height="11.06" fill="#fcfafa"/>
<rect x="417.11" y="336.67" width="17.69" height="11.06" fill="#cacce8"/>
<rect x="222.50" y="347.72" width="17.69" height="11.06" fill="#cacce8"/>
<rect x="240.19" y="347.72" width="17.69" height="11.06" fill="#cacce8"/>
<rect x="257.88" y="347.72" width="17.69" height="11.06" fill="#cacce8"/>
<rect x="275.57" y="347.72" width="17.69" height="11.06" fill="#cacce8"/>
<rect x="293.27" y="347.72" width="17.69" height="11.06" fill="#cacce8"/>
<rect x="310.96" y="347.72" width="17.69" height="11.06" fill="#cacce8"/>
<rect x="328.65" y="347.72" width="17.69" height="11.06" fill="#dedef0"/>
<rect x="346.34" y="347.72" width="17.69" height="11.06" fill="#dedef0"/>
<rect x="364.03" y="347.72" width="17.69" height="11.06" fill="#d8d9ed"/>
<rect x="381.73" y="347.72" width="17.69" height="11.06" fill="#dedef0"/>
<rect x="399.42" y="347.72" width="17.69" height="11.06" fill="#dedef0"/>
<rect x="417.11" y="347.72" width="17.69" height="11.06" fill="#dedef0"/>
<rect x="222.50" y="358.78" width="17.69" height="11.06" fill="#b6badf"/>
<rect x="240.19" y="358.78" width="17.69" height="11.06" fill="#b6badf"/>
<rect x="257.88" y="358.78" width="17.69" height="11.06" fill="#b6badf"/>
<rect x="275.57" y="358.78" width="17.69" height="11.06" fill="#b6badf"/>
<rect x="293.27" y="358.78" width="17.69" height="11.06" fill="#b6badf"/>
<rect x="310.96" y="358.78" width="17.69" height="11.06" fill="#b6badf"/>
<rect x="328.65" y="358.78" width="17.69" height="11.06" fill="#b0b4dd"/>
<rect x="346.34" y="358.78" width="17.69" height="11.06" fill="#acb0db"/>
<rect x="364.03" y="358.78" width="17.69" height="11.06" fill="#b0b4dd"/>
<rect x="381.73" y="358.78" width="17.69" height="11.06" fill="#b0b4dd"/>
<rect x="399.42" y="358.78" width="17.69" height="11.06" fill="#acb0db"/>
<rect x="417.11" y="358.78" width="17.69" height="11.06" fill="#acb0db"/>
<rect x="222.50" y="369.83" width="17.69" height="11.06" fill="#c4c6e5"/>
<rect x="240.19" y="369.83" width="17.69" height="11.06" fill="#c4c6e5"/>
<rect x="257.88" y="369.83" width="17.69" height="11.06" fill="#c0c3e3"/>
<rect x="275.57" y="369.83" width="17.69" height="11.06" fill="#c4c6e5"/>
<rect x="293.27" y="369.83" width="17.69" height="11.06" fill="#c0c3e3"/>
<rect x="310.96" y="369.83" width="17.69" height="11.06" fill="#c0c3e3"/>
<rect x="328.65" y="369.83" width="17.69" height="11.06" fill="#747dc4"/>
<rect x="346.34" y="369.83" width="17.69" height="11.06" fill="#747dc4"/>
<rect x="364.03" y="369.83" width="17.69" height="11.06" fill="#7881c6"/>
<rect x="381.73" y="369.83" width="17.69" height="11.06" fill="#747dc4"/>
<rect x="399.42" y="369.83" width="17.69" height="11.06" fill="#7881c6"/>
<rect x="417.11" y="369.83" width="17.69" height="11.06" fill="#7881c6"/>
<rect x="222.50" y="380.89" width="17.69" height="11.06" fill="#bcbfe2"/>
<rect x="240.19" y="380.89" width="17.69" height="11.06" fill="#bcbfe2"/>
<rect x="257.88" y="380.89" width="17.69" height="11.06" fill="#c0c3e3"/>
<rect x="275.57" y="380.89" width="17.69" height="11.06" fill="#bcbfe2"/>
<rect x="293.27" y="380.89" width="17.69" height="11.06" fill="#c0c3e3"/>
<rect x="310.96" y="380.89" width="17.69" height="11.06" fill="#bcbfe2"/>
<rect x="328.65" y="380.89" width="17.69" height="11.06" fill="#848ccb"/>
<rect x="346.34" y="380.89" width="17.69" height="11.06" fill="#848ccb"/>
<rect x="364.03" y="380.89" width="17.69" height="11.06" fill="#848ccb"/>
<rect x="381.73" y="380.89" width="17.69" height="11.06" fill="#848ccb"/>
<rect x="399.42" y="380.89" width="17.69" height="11.06" fill="#848ccb"/>
<rect x="417.11" y="380.89" width="17.69" height="11.06" fill="#848ccb"/>
<rect x="222.50" y="391.94" width="17.69" height="11.06" fill="#4c58b4"/>
<rect x="240.19" y="391.94" width="17.69" height="11.06" fill="#4c58b4"/>
<rect x="257.88" y="391.94" width="17.69" height="11.06" fill="#4c58b4"/>
<rect x="275.57" y="391.94" width="17.69" height="11.06" fill="#4c58b4"/>
<rect x="293.27" y="391.94" width="17.69" height="11.06" fill="#505cb5"/>
<rect x="310.96" y="391.94" width="17.69" height="11.06" fill="#989ed3"/>
<rect x="328.65" y="391.94" width="17.69" height="11.06" fill="#747dc4"/>
<rect x="346.34" y="391.94" width="17.69" height="11.06" fill="#b0b4dd"/>
<rect x="364.03" y="391.94" width="17.69" height="11.06" fill="#747dc4"/>
<rect x="381.73" y="391.94" width="17.69" height="11.06" fill="#747dc4"/>
<rect x="399.42" y="391.94" width="17.69" height="11.06" fill="#7079c3"/>
<rect x="417.11" y="391.94" width="17.69" height="11.06" fill="#747dc4"/>
<path d="M222.50 204.0V403.00M240.19 204.0V403.00M257.88 204.0V403.00M275.57 204.0V403.00M293.27 204.0V403.00M310.96 204.0V403.00M328.65 204.0V403.00M346.34 204.0V403.00M364.03 204.0V403.00M381.73 204.0V403.00M399.42 204.0V403.00M417.11 204.0V403.00M434.80 204.0V403.00M222.5 204.00H434.80M222.5 215.06H434.80M222.5 226.11H434.80M222.5 237.17H434.80M222.5 248.22H434.80M222.5 259.28H434.80M222.5 270.33H434.80M222.5 281.39H434.80M222.5 292.44H434.80M222.5 303.50H434.80M222.5 314.56H434.80M222.5 325.61H434.80M222.5 336.67H434.80M222.5 347.72H434.80M222.5 358.78H434.80M222.5 369.83H434.80M222.5 380.89H434.80M222.5 391.94H434.80M222.5 403.00H434.80" stroke="#4a4a4a" stroke-width="0.75" fill="none"/>
<text x="437.0" y="212.63" font-size="8.8" text-anchor="start" fill="#111">IL2RG</text>
<text x="437.0" y="223.68" font-size="8.8" text-anchor="start" fill="#111">CRLF2</text>
<text x="437.0" y="234.74" font-size="8.8" text-anchor="start" fill="#111">IL7R</text>
<text x="437.0" y="245.79" font-size="8.8" text-anchor="start" fill="#111">IFNGR2</text>
<text x="437.0" y="256.85" font-size="8.8" text-anchor="start" fill="#111">IFNAR1</text>
<text x="437.0" y="267.91" font-size="8.8" text-anchor="start" fill="#111">IL10RB</text>
<text x="437.0" y="278.96" font-size="8.8" text-anchor="start" fill="#111">CSF2RB</text>
<text x="437.0" y="290.02" font-size="8.8" text-anchor="start" fill="#111">IL6ST</text>
<text x="437.0" y="301.07" font-size="8.8" text-anchor="start" fill="#111">IL4R</text>
<text x="437.0" y="312.13" font-size="8.8" text-anchor="start" fill="#111">IL15RA</text>
<text x="437.0" y="323.18" font-size="8.8" text-anchor="start" fill="#111">IL12RB1</text>
<text x="437.0" y="334.24" font-size="8.8" text-anchor="start" fill="#111">IFNAR2</text>
<text x="437.0" y="345.29" font-size="8.8" text-anchor="start" fill="#111">IFNGR1</text>
<text x="437.0" y="356.35" font-size="8.8" text-anchor="start" fill="#111">IL11RA</text>
<text x="437.0" y="367.41" font-size="8.8" text-anchor="start" fill="#111">EPOR</text>
<text x="437.0" y="378.46" font-size="8.8" text-anchor="start" fill="#111">IL21R</text>
<text x="437.0" y="389.52" font-size="8.8" text-anchor="start" fill="#111">IL27R</text>
<text x="437.0" y="400.57" font-size="8.8" text-anchor="start" fill="#111">IL20RB</text>
<path d="M467.6 231.6H482.7" stroke="#000" stroke-width="1.4"/>
<path d="M459.6 231.6L469.1 229.1L467.5 231.6L469.1 234.1Z" fill="#000"/>
<text x="273.6" y="186.6" font-size="9.3" font-weight="bold" text-anchor="middle" fill="#000">Veh</text>
<text x="380.6" y="186.6" font-size="9.3" font-weight="bold" text-anchor="middle" fill="#000">JQ1</text>
<path d="M224.2 189.7H323.6M330.8 189.7H430.9" stroke="#2a2a2a" stroke-width="1.0"/>
<text x="249.2" y="201.5" font-size="6.3" font-weight="bold" text-anchor="middle" fill="#000">MHH-CALL4</text>
<text x="301.9" y="201.5" font-size="6.3" font-weight="bold" text-anchor="middle" fill="#000">MUTZ-5</text>
<text x="355.2" y="201.5" font-size="6.3" font-weight="bold" text-anchor="middle" fill="#000">MHH-CALL4</text>
<text x="408.3" y="201.5" font-size="6.3" font-weight="bold" text-anchor="middle" fill="#000">MUTZ-5</text>
<rect x="457" y="185" width="40" height="3.6" fill="url(#gd)"/>
<text x="456.5" y="188.7" font-size="5.0" font-weight="bold" text-anchor="end" fill="#000">6.94</text>
<text x="497.6" y="188.7" font-size="5.0" text-anchor="start" fill="#000">12.4</text>
<text x="196.6" y="180.4" font-size="14.5" font-weight="bold" text-anchor="start" fill="#000">D</text>
<rect x="217.5" y="447.5" width="107.0" height="71.3" fill="#fff"/>
<path d="M217.5 452.8H324.5" stroke="#bbb" stroke-width="0.6"/>
<path d="M218.50 498.5V514.8M232.71 498.5V514.8M277.31 498.5V514.8M306.79 498.5V514.8M320.47 498.5V514.8M321.58 498.5V514.8" stroke="#111" stroke-width="0.85"/>
<path d="M220.27 498.5V514.8M241.20 498.5V514.8M257.06 498.5V514.8M263.38 498.5V514.8M269.88 498.5V514.8M271.92 498.5V514.8M286.59 498.5V514.8M294.10 498.5V514.8" stroke="#b4b4b4" stroke-width="0.85"/>
<path d="M222.54 498.5V514.8M228.91 498.5V514.8M236.07 498.5V514.8M243.66 498.5V514.8M255.18 498.5V514.8M275.75 498.5V514.8" stroke="#999" stroke-width="0.85"/>
<path d="M223.93 498.5V514.8M323.44 498.5V514.8" stroke="#444" stroke-width="0.85"/>
<path d="M226.11 498.5V514.8M246.62 498.5V514.8M248.76 498.5V514.8M266.89 498.5V514.8M305.90 498.5V514.8" stroke="#888" stroke-width="0.85"/>
<path d="M231.47 498.5V514.8M265.51 498.5V514.8M298.40 498.5V514.8M299.80 498.5V514.8M308.71 498.5V514.8M310.85 498.5V514.8M312.42 498.5V514.8M314.18 498.5V514.8M315.71 498.5V514.8" stroke="#333" stroke-width="0.85"/>
<path d="M239.51 498.5V514.8M251.82 498.5V514.8M260.21 498.5V514.8M273.19 498.5V514.8M280.28 498.5V514.8M282.00 498.5V514.8M283.99 498.5V514.8M289.59 498.5V514.8M292.66 498.5V514.8" stroke="#c0c0c0" stroke-width="0.85"/>
<path d="M250.36 498.5V514.8M305.09 498.5V514.8M309.64 498.5V514.8" stroke="#aaa" stroke-width="0.85"/>
<path d="M296.20 498.5V514.8M301.27 498.5V514.8M303.00 498.5V514.8M317.06 498.5V514.8M318.22 498.5V514.8" stroke="#222" stroke-width="0.85"/>
<rect x="217.5" y="514.8" width="107.0" height="4.0" fill="url(#gg)"/>
<path d="M217.5 498.5H324.5" stroke="#ccc" stroke-width="0.4"/>
<path d="M217.5 449.5L218.4 449.3L219.2 449.6L220.1 449.6L221.0 449.4L222.0 449.5L223.0 448.9L224.0 449.0L225.0 449.1L226.0 449.3L227.0 449.8L228.0 450.0L229.0 450.8L230.0 451.0L230.8 451.2L231.6 451.9L232.5 452.1L233.3 452.6L234.1 453.1L234.9 453.9L235.7 454.1L236.5 454.2L237.4 454.8L238.2 455.1L239.0 455.8L239.8 456.6L240.7 457.0L241.5 457.6L242.3 458.1L243.2 458.5L244.0 459.2L244.8 459.6L245.7 459.7L246.5 460.7L247.3 460.9L248.2 461.6L249.0 462.0L249.8 462.4L250.7 462.9L251.5 463.5L252.3 464.0L253.1 464.5L253.9 464.9L254.8 466.0L255.6 466.5L256.4 467.2L257.2 467.6L258.0 468.0L258.8 468.7L259.7 468.9L260.5 469.8L261.3 470.2L262.1 470.6L262.9 471.2L263.7 472.0L264.6 472.3L265.4 473.0L266.2 473.7L267.0 474.2L267.8 474.6L268.7 475.0L269.5 475.7L270.3 476.1L271.2 476.6L272.0 477.1L272.8 477.7L273.7 478.0L274.5 479.0L275.3 479.7L276.2 479.8L277.0 480.6L277.8 481.2L278.7 481.1L279.5 481.7L280.3 482.7L281.2 483.2L282.0 483.5L282.8 484.0L283.7 484.1L284.5 484.7L285.3 485.4L286.1 485.8L287.0 486.1L287.8 486.1L288.6 487.0L289.4 487.1L290.3 487.7L291.1 487.7L291.9 488.7L292.7 488.8L293.6 489.3L294.4 489.4L295.2 490.1L296.0 490.4L296.9 490.9L297.7 491.2L298.6 491.5L299.5 492.1L300.4 492.2L301.2 492.6L302.1 492.9L303.0 493.5L303.8 493.9L304.6 493.8L305.4 494.2L306.2 494.4L307.0 495.0L307.9 495.1L308.7 495.1L309.6 495.1L310.4 494.8L311.3 495.1L312.1 495.1L313.0 495.2L314.0 494.2L315.0 493.4L316.0 493.0L317.0 492.3L318.0 491.0L318.9 489.7L319.9 488.9L320.8 488.0L322.0 482.0L322.8 474.0L323.8 456.0L324.3 451.0" stroke="#74b85a" stroke-width="1.05" fill="none" stroke-linejoin="round"/>
<rect x="217.5" y="447.5" width="107.0" height="71.3" fill="none" stroke="#7a7a7a" stroke-width="0.9"/>
<text x="215.3" y="454.7" font-size="5.3" text-anchor="end" fill="#333">0.0</text>
<text x="215.3" y="474.9" font-size="5.3" text-anchor="end" fill="#333">-0.3</text>
<text x="215.3" y="494.7" font-size="5.3" text-anchor="end" fill="#333">-0.6</text>
<path d="M217.5 452.8h-1.8M217.5 473h-1.8M217.5 492.8h-1.8" stroke="#666" stroke-width="0.6"/>
<text x="217.1" y="444.8" font-size="6.6" font-weight="bold" text-anchor="start" fill="#111">BILD_MYC_ONCOGENIC_SIGNATURE</text>
<text x="220.2" y="488.8" font-size="5.5" font-weight="bold" text-anchor="start" fill="#111">NES = -2.19</text>
<text x="220.2" y="495.5" font-size="5.5" font-weight="bold" text-anchor="start" fill="#111"><tspan font-style="italic">q</tspan> &lt; 0.0001</text>
<text x="201.8" y="473.5" font-size="5.8" text-anchor="middle" fill="#333" transform="rotate(-90 201.8 473.5)">Enrichment Score</text>
<rect x="375.8" y="448.1" width="106.7" height="70.4" fill="#fff"/>
<path d="M375.8 451.7H482.5" stroke="#bbb" stroke-width="0.6"/>
<path d="M380.40 498.9V514.4M444.95 498.9V514.4M468.31 498.9V514.4" stroke="#aaa" stroke-width="0.85"/>
<path d="M411.00 498.9V514.4" stroke="#666" stroke-width="0.85"/>
<path d="M412.70 498.9V514.4M441.00 498.9V514.4M456.66 498.9V514.4" stroke="#888" stroke-width="0.85"/>
<path d="M418.50 498.9V514.4M432.40 498.9V514.4M460.52 498.9V514.4M464.38 498.9V514.4" stroke="#999" stroke-width="0.85"/>
<path d="M431.00 498.9V514.4" stroke="#777" stroke-width="0.85"/>
<path d="M442.28 498.9V514.4M479.50 498.9V514.4" stroke="#222" stroke-width="0.85"/>
<path d="M446.57 498.9V514.4M461.25 498.9V514.4" stroke="#111" stroke-width="0.85"/>
<path d="M448.91 498.9V514.4M466.54 498.9V514.4M470.17 498.9V514.4M476.51 498.9V514.4" stroke="#444" stroke-width="0.85"/>
<path d="M451.37 498.9V514.4M477.74 498.9V514.4" stroke="#c0c0c0" stroke-width="0.85"/>
<path d="M454.50 498.9V514.4M458.53 498.9V514.4M471.12 498.9V514.4" stroke="#b4b4b4" stroke-width="0.85"/>
<path d="M462.22 498.9V514.4M472.79 498.9V514.4M474.84 498.9V514.4" stroke="#333" stroke-width="0.85"/>
<rect x="375.8" y="514.4" width="106.7" height="4.1" fill="url(#gg)"/>
<path d="M375.8 498.9H482.5" stroke="#ccc" stroke-width="0.4"/>
<path d="M375.8 449.5L376.7 449.9L377.5 449.8L378.4 450.0L379.3 450.6L380.1 450.4L381.0 451.0L381.9 451.5L382.7 451.7L383.6 451.5L384.4 452.2L385.3 452.3L386.1 452.6L387.0 452.8L387.8 453.6L388.6 454.1L389.4 454.2L390.2 455.0L391.1 455.4L391.9 456.0L392.7 455.8L393.5 457.0L394.3 456.9L395.1 457.4L395.9 458.2L396.8 458.8L397.6 459.4L398.4 459.4L399.2 460.2L400.0 460.5L400.8 460.7L401.6 461.8L402.4 461.8L403.2 462.5L404.0 462.6L404.8 463.1L405.6 463.5L406.4 464.4L407.2 464.9L408.0 465.5L408.8 466.0L409.6 466.2L410.4 467.0L411.2 467.0L412.0 468.0L412.8 468.0L413.6 469.0L414.4 469.1L415.2 469.6L416.0 470.1L416.8 470.3L417.6 470.8L418.4 471.6L419.2 472.2L420.0 472.5L420.8 472.7L421.6 473.4L422.4 473.8L423.2 474.6L424.0 475.2L424.8 475.1L425.6 475.9L426.4 476.1L427.2 477.0L428.0 477.6L428.8 477.9L429.6 478.3L430.4 478.4L431.2 478.9L432.0 479.5L432.8 479.9L433.6 480.4L434.4 481.5L435.2 481.5L436.0 482.4L436.8 482.8L437.6 483.3L438.4 483.8L439.2 484.2L440.0 484.5L440.8 484.9L441.7 485.4L442.5 485.8L443.3 486.1L444.2 486.5L445.0 487.4L445.8 487.8L446.7 488.6L447.5 488.8L448.3 489.4L449.2 489.7L450.0 490.2L450.8 490.9L451.7 490.8L452.5 491.2L453.3 492.0L454.2 492.4L455.0 493.0L455.8 493.2L456.7 493.3L457.5 493.7L458.3 493.9L459.2 494.6L460.0 494.8L460.8 494.6L461.7 494.7L462.5 495.2L463.3 495.1L464.2 495.0L465.0 495.4L465.8 495.6L466.7 495.1L467.5 495.3L468.3 494.9L469.2 494.7L470.0 494.5L471.0 493.9L472.0 493.2L473.0 493.0L474.0 492.5L475.0 491.3L476.0 490.5L477.0 488.6L478.0 487.0L479.5 481.0L480.5 472.0L481.5 460.0L482.3 449.5" stroke="#74b85a" stroke-width="1.05" fill="none" stroke-linejoin="round"/>
<rect x="375.8" y="448.1" width="106.7" height="70.4" fill="none" stroke="#7a7a7a" stroke-width="0.9"/>
<text x="373.6" y="453.6" font-size="5.3" text-anchor="end" fill="#333">0.0</text>
<text x="373.6" y="472.9" font-size="5.3" text-anchor="end" fill="#333">-0.3</text>
<text x="373.6" y="492.5" font-size="5.3" text-anchor="end" fill="#333">-0.6</text>
<path d="M375.8 451.7h-1.8M375.8 471h-1.8M375.8 490.6h-1.8" stroke="#666" stroke-width="0.6"/>
<text x="375.4" y="445.6" font-size="6.6" font-weight="bold" text-anchor="start" fill="#111">SCHUHMACHER_MYC_TARGETS_UP</text>
<text x="379.3" y="488.8" font-size="5.5" font-weight="bold" text-anchor="start" fill="#111">NES = -2.11</text>
<text x="379.3" y="495.5" font-size="5.5" font-weight="bold" text-anchor="start" fill="#111"><tspan font-style="italic">q</tspan> &lt; 0.0001</text>
<text x="359.6" y="474.0" font-size="5.8" text-anchor="middle" fill="#333" transform="rotate(-90 359.6 474.0)">Enrichment Score</text>
<rect x="217.6" y="547" width="106.3" height="71.6" fill="#fff"/>
<path d="M217.6 551.6H323.9" stroke="#bbb" stroke-width="0.6"/>
<path d="M218.60 597.8V614.7M227.66 597.8V614.7M244.49 597.8V614.7M318.58 597.8V614.7" stroke="#222" stroke-width="0.85"/>
<path d="M220.40 597.8V614.7M294.70 597.8V614.7M295.62 597.8V614.7M305.49 597.8V614.7M316.77 597.8V614.7" stroke="#c0c0c0" stroke-width="0.85"/>
<path d="M221.57 597.8V614.7M223.14 597.8V614.7M246.55 597.8V614.7M265.76 597.8V614.7M269.87 597.8V614.7M311.24 597.8V614.7M315.84 597.8V614.7" stroke="#444" stroke-width="0.85"/>
<path d="M225.30 597.8V614.7M236.58 597.8V614.7M239.10 597.8V614.7M249.20 597.8V614.7M266.98 597.8V614.7M274.78 597.8V614.7M291.61 597.8V614.7M292.95 597.8V614.7M304.19 597.8V614.7" stroke="#b4b4b4" stroke-width="0.85"/>
<path d="M230.49 597.8V614.7M256.33 597.8V614.7M272.50 597.8V614.7M307.34 597.8V614.7M309.01 597.8V614.7" stroke="#888" stroke-width="0.85"/>
<path d="M232.91 597.8V614.7M261.62 597.8V614.7M280.44 597.8V614.7M285.74 597.8V614.7M300.56 597.8V614.7M321.40 597.8V614.7" stroke="#111" stroke-width="0.85"/>
<path d="M234.57 597.8V614.7M264.14 597.8V614.7M277.31 597.8V614.7M288.80 597.8V614.7M299.00 597.8V614.7M313.79 597.8V614.7M320.35 597.8V614.7M322.32 597.8V614.7" stroke="#333" stroke-width="0.85"/>
<path d="M241.64 597.8V614.7M253.43 597.8V614.7M259.14 597.8V614.7M296.80 597.8V614.7M303.33 597.8V614.7M312.47 597.8V614.7" stroke="#999" stroke-width="0.85"/>
<path d="M251.29 597.8V614.7M279.39 597.8V614.7M283.44 597.8V614.7M302.53 597.8V614.7" stroke="#aaa" stroke-width="0.85"/>
<rect x="217.6" y="614.7" width="106.3" height="3.9" fill="url(#gg)"/>
<path d="M217.6 597.8H323.9" stroke="#ccc" stroke-width="0.4"/>
<path d="M217.6 551.5L218.5 551.1L219.4 551.0L220.2 550.7L221.1 550.6L222.0 550.5L222.8 550.6L223.6 550.8L224.4 550.6L225.2 550.8L226.0 551.0L227.0 550.4L228.0 550.6L229.0 550.0L229.8 550.2L230.6 550.9L231.4 550.6L232.2 550.9L233.0 551.5L233.9 551.8L234.8 552.1L235.6 552.6L236.5 553.0L237.4 553.1L238.2 553.2L239.1 553.8L240.0 554.0L240.8 554.6L241.6 555.0L242.4 555.7L243.2 556.1L244.0 557.1L244.8 557.3L245.6 558.0L246.4 558.9L247.2 559.5L248.0 560.1L248.8 560.7L249.6 561.4L250.4 562.1L251.2 562.7L252.0 562.9L252.8 563.5L253.6 563.9L254.4 564.8L255.2 565.2L256.0 566.3L256.8 566.8L257.6 567.0L258.4 567.9L259.2 568.5L260.0 569.0L260.8 569.3L261.6 570.4L262.4 571.0L263.2 571.4L264.0 572.3L264.8 572.3L265.6 572.9L266.4 574.0L267.2 574.5L268.0 574.7L268.8 575.7L269.6 576.3L270.4 576.7L271.2 577.1L272.0 578.2L272.8 578.9L273.6 579.2L274.4 579.6L275.2 580.4L276.0 581.1L276.8 581.6L277.6 582.4L278.4 582.6L279.2 583.7L280.0 584.0L280.8 584.7L281.7 584.8L282.5 585.3L283.3 586.4L284.2 586.6L285.0 587.5L285.8 588.1L286.7 588.2L287.5 589.0L288.3 589.2L289.2 590.0L290.0 590.5L290.9 590.7L291.7 591.6L292.6 591.5L293.4 592.5L294.3 592.5L295.1 592.9L296.0 593.5L296.8 593.4L297.7 593.7L298.5 593.7L299.3 594.0L300.2 594.8L301.0 594.6L301.8 594.7L302.7 594.3L303.5 594.2L304.3 594.4L305.2 594.7L306.0 594.4L307.0 593.9L308.0 593.4L309.0 593.0L310.0 592.1L311.0 590.7L312.0 590.0L313.0 589.3L314.0 589.0L315.0 588.5L316.0 587.6L317.0 586.1L318.0 585.0L319.0 581.4L320.0 578.0L321.0 572.0L322.0 566.0L322.9 558.7L323.8 551.0" stroke="#74b85a" stroke-width="1.05" fill="none" stroke-linejoin="round"/>
<rect x="217.6" y="547" width="106.3" height="71.6" fill="none" stroke="#7a7a7a" stroke-width="0.9"/>
<text x="215.4" y="553.5" font-size="5.3" text-anchor="end" fill="#333">0.00</text>
<text x="215.4" y="574.7" font-size="5.3" text-anchor="end" fill="#333">-0.25</text>
<text x="215.4" y="595.9" font-size="5.3" text-anchor="end" fill="#333">-0.50</text>
<path d="M217.6 551.6h-1.8M217.6 572.8h-1.8M217.6 594h-1.8" stroke="#666" stroke-width="0.6"/>
<text x="217.2" y="543.8" font-size="6.6" font-weight="bold" text-anchor="start" fill="#111">VSMYCMAX_01</text>
<text x="221.3" y="587.0" font-size="5.5" font-weight="bold" text-anchor="start" fill="#111">NES = -1.70</text>
<text x="221.3" y="593.9" font-size="5.5" font-weight="bold" text-anchor="start" fill="#111"><tspan font-style="italic">q</tspan> &lt; 0.0001</text>
<text x="201.8" y="572.9" font-size="5.8" text-anchor="middle" fill="#333" transform="rotate(-90 201.8 572.9)">Enrichment Score</text>
<rect x="376.1" y="547" width="106.7" height="71.6" fill="#fff"/>
<path d="M376.1 568.5H482.8" stroke="#bbb" stroke-width="0.6"/>
<path d="M377.10 598.5V614.7M379.08 598.5V614.7M385.91 598.5V614.7M413.75 598.5V614.7M469.35 598.5V614.7" stroke="#111" stroke-width="0.85"/>
<path d="M380.00 598.5V614.7M389.18 598.5V614.7M395.20 598.5V614.7M398.06 598.5V614.7M399.57 598.5V614.7M407.12 598.5V614.7M408.95 598.5V614.7M424.22 598.5V614.7M442.17 598.5V614.7M452.50 598.5V614.7M455.62 598.5V614.7" stroke="#333" stroke-width="0.85"/>
<path d="M382.10 598.5V614.7M411.19 598.5V614.7M435.81 598.5V614.7M440.47 598.5V614.7M444.81 598.5V614.7M450.44 598.5V614.7M454.06 598.5V614.7M461.12 598.5V614.7M466.57 598.5V614.7M467.41 598.5V614.7M478.44 598.5V614.7" stroke="#999" stroke-width="0.85"/>
<path d="M383.76 598.5V614.7M409.93 598.5V614.7M416.85 598.5V614.7M422.20 598.5V614.7M437.08 598.5V614.7M458.93 598.5V614.7M474.18 598.5V614.7" stroke="#222" stroke-width="0.85"/>
<path d="M388.06 598.5V614.7M401.68 598.5V614.7M403.33 598.5V614.7M412.19 598.5V614.7M416.01 598.5V614.7M426.04 598.5V614.7M429.65 598.5V614.7M462.40 598.5V614.7M464.41 598.5V614.7" stroke="#aaa" stroke-width="0.85"/>
<path d="M390.13 598.5V614.7M428.26 598.5V614.7M432.75 598.5V614.7M471.44 598.5V614.7M473.08 598.5V614.7M476.33 598.5V614.7" stroke="#b4b4b4" stroke-width="0.85"/>
<path d="M391.76 598.5V614.7M405.86 598.5V614.7M446.83 598.5V614.7M448.89 598.5V614.7M465.70 598.5V614.7M481.40 598.5V614.7" stroke="#444" stroke-width="0.85"/>
<path d="M393.03 598.5V614.7M396.93 598.5V614.7M416.89 598.5V614.7M439.35 598.5V614.7M456.47 598.5V614.7M479.45 598.5V614.7" stroke="#c0c0c0" stroke-width="0.85"/>
<path d="M400.80 598.5V614.7M404.38 598.5V614.7M457.41 598.5V614.7M474.96 598.5V614.7" stroke="#888" stroke-width="0.85"/>
<rect x="376.1" y="614.7" width="106.7" height="3.9" fill="url(#gg)"/>
<path d="M376.1 598.5H482.8" stroke="#ccc" stroke-width="0.4"/>
<path d="M376.1 568.0L377.0 559.0L378.0 556.3L379.0 553.0L380.0 552.4L381.0 552.5L382.0 553.2L383.0 553.5L384.0 553.7L385.0 554.1L386.0 554.0L387.0 552.9L388.0 552.0L389.0 551.5L390.0 550.5L391.0 549.9L392.0 550.2L393.0 549.5L393.8 549.5L394.7 549.4L395.5 549.6L396.3 549.9L397.2 549.6L398.0 550.0L398.9 550.4L399.8 550.7L400.6 551.2L401.5 551.8L402.4 552.3L403.2 552.8L404.1 553.7L405.0 554.0L405.8 554.6L406.7 555.6L407.5 556.3L408.3 556.9L409.2 557.6L410.0 558.1L410.8 558.8L411.7 559.6L412.5 560.0L413.3 560.4L414.2 561.3L415.0 562.0L415.8 562.7L416.7 563.2L417.5 563.9L418.3 564.7L419.2 565.7L420.0 566.6L420.8 567.2L421.7 567.7L422.5 568.2L423.3 568.9L424.2 570.1L425.0 570.7L425.8 571.4L426.7 571.9L427.5 572.6L428.3 573.3L429.2 574.0L430.0 575.0L430.8 575.6L431.7 576.0L432.5 576.7L433.3 577.2L434.2 577.8L435.0 578.5L435.8 579.1L436.7 579.2L437.5 580.3L438.3 580.8L439.2 581.3L440.0 581.6L440.8 582.5L441.7 583.0L442.5 583.2L443.3 584.0L444.2 584.7L445.0 585.0L445.8 585.7L446.7 586.3L447.5 586.5L448.3 587.1L449.2 587.2L450.0 588.1L450.8 588.3L451.7 589.2L452.5 589.8L453.3 589.9L454.2 590.2L455.0 591.0L455.8 590.9L456.6 591.4L457.4 591.4L458.2 592.0L459.0 592.1L459.8 592.2L460.6 592.5L461.4 592.4L462.2 592.8L463.0 593.0L464.0 593.0L465.0 593.7L466.0 594.0L467.0 593.2L468.0 592.0L469.0 588.8L470.0 586.0L470.8 584.9L471.6 583.9L472.4 582.3L473.2 581.0L474.0 580.0L474.8 579.1L475.7 578.7L476.5 577.5L477.3 577.2L478.2 576.1L479.0 575.5L479.9 574.7L480.9 573.8L481.9 572.7L482.8 571.5" stroke="#74b85a" stroke-width="1.05" fill="none" stroke-linejoin="round"/>
<rect x="376.1" y="547" width="106.7" height="71.6" fill="none" stroke="#7a7a7a" stroke-width="0.9"/>
<text x="373.9" y="550.8" font-size="5.3" text-anchor="end" fill="#333">0.2</text>
<text x="373.9" y="570.4" font-size="5.3" text-anchor="end" fill="#333">0.0</text>
<text x="373.9" y="590.0" font-size="5.3" text-anchor="end" fill="#333">-0.2</text>
<path d="M376.1 548.9h-1.8M376.1 568.5h-1.8M376.1 588.1h-1.8" stroke="#666" stroke-width="0.6"/>
<text x="375.7" y="543.8" font-size="6.6" font-weight="bold" text-anchor="start" fill="#111">VSNFKAPPAB_01</text>
<text x="380.7" y="586.3" font-size="5.5" font-weight="bold" text-anchor="start" fill="#111">NES = -0.92</text>
<text x="380.7" y="593.2" font-size="5.5" font-weight="bold" text-anchor="start" fill="#111"><tspan font-style="italic">q</tspan> = 0.6139</text>
<text x="359.6" y="573.2" font-size="5.8" text-anchor="middle" fill="#333" transform="rotate(-90 359.6 573.2)">Enrichment Score</text>
<rect x="217.6" y="647.7" width="106.3" height="70.9" fill="#fff"/>
<path d="M217.6 660.2H323.9" stroke="#bbb" stroke-width="0.6"/>
<path d="M218.60 698.3V714.0M245.05 698.3V714.0M258.66 698.3V714.0M269.87 698.3V714.0M272.88 698.3V714.0M284.01 698.3V714.0M316.57 698.3V714.0M318.72 698.3V714.0M320.28 698.3V714.0" stroke="#aaa" stroke-width="0.85"/>
<path d="M220.93 698.3V714.0M270.75 698.3V714.0M308.54 698.3V714.0M315.02 698.3V714.0" stroke="#c0c0c0" stroke-width="0.85"/>
<path d="M221.88 698.3V714.0M229.62 698.3V714.0M232.17 698.3V714.0M241.18 698.3V714.0M242.41 698.3V714.0M245.99 698.3V714.0M293.00 698.3V714.0M301.22 698.3V714.0" stroke="#999" stroke-width="0.85"/>
<path d="M223.95 698.3V714.0M227.40 698.3V714.0M249.34 698.3V714.0M289.52 698.3V714.0M295.04 698.3V714.0" stroke="#888" stroke-width="0.85"/>
<path d="M225.52 698.3V714.0M250.79 698.3V714.0M260.23 698.3V714.0M279.72 698.3V714.0M288.79 698.3V714.0M303.88 698.3V714.0M311.17 698.3V714.0" stroke="#b4b4b4" stroke-width="0.85"/>
<path d="M234.44 698.3V714.0M252.95 698.3V714.0M257.72 698.3V714.0M262.33 698.3V714.0M282.10 698.3V714.0M298.66 698.3V714.0M313.63 698.3V714.0" stroke="#444" stroke-width="0.85"/>
<path d="M235.56 698.3V714.0M247.36 698.3V714.0M255.12 698.3V714.0M268.60 698.3V714.0M296.24 698.3V714.0" stroke="#111" stroke-width="0.85"/>
<path d="M236.84 698.3V714.0M239.31 698.3V714.0M261.22 698.3V714.0M275.32 698.3V714.0M291.87 698.3V714.0M307.44 698.3V714.0" stroke="#222" stroke-width="0.85"/>
<path d="M263.85 698.3V714.0M266.15 698.3V714.0M306.02 698.3V714.0M322.68 698.3V714.0" stroke="#333" stroke-width="0.85"/>
<rect x="217.6" y="714.0" width="106.3" height="4.6" fill="url(#gg)"/>
<path d="M217.6 698.3H323.9" stroke="#ccc" stroke-width="0.4"/>
<path d="M217.6 653.0L219.0 650.0L220.0 649.7L221.0 649.3L222.0 649.2L223.0 649.8L224.0 650.0L225.0 650.5L226.0 651.0L226.8 651.4L227.6 651.8L228.4 652.1L229.2 652.7L230.0 653.0L230.8 653.4L231.7 653.0L232.5 653.5L233.3 653.5L234.2 653.9L235.0 654.0L235.8 654.3L236.7 654.2L237.5 654.5L238.3 655.0L239.2 655.5L240.0 655.7L240.8 656.0L241.7 655.7L242.5 656.1L243.3 656.6L244.2 656.7L245.0 657.0L245.8 657.2L246.7 658.1L247.5 658.3L248.3 658.6L249.2 659.1L250.0 659.6L250.8 660.1L251.7 660.5L252.5 660.6L253.3 661.5L254.2 661.8L255.0 662.0L255.8 662.5L256.7 663.1L257.5 664.0L258.3 664.5L259.2 665.6L260.0 665.7L260.8 666.9L261.7 667.1L262.5 668.2L263.3 668.6L264.2 669.1L265.0 670.0L265.8 671.2L266.7 671.6L267.5 672.8L268.3 673.2L269.2 674.0L270.0 675.0L270.8 675.6L271.7 676.7L272.5 677.6L273.3 678.4L274.2 678.8L275.0 680.0L275.8 680.8L276.7 681.2L277.5 682.0L278.3 682.9L279.2 683.6L280.0 683.7L280.8 684.4L281.7 685.5L282.5 686.0L283.3 686.8L284.2 687.4L285.0 688.0L285.9 688.8L286.8 689.3L287.6 689.8L288.5 690.3L289.4 690.5L290.2 690.9L291.1 691.3L292.0 692.0L292.9 692.5L293.7 692.5L294.6 692.8L295.4 692.9L296.3 693.2L297.1 693.5L298.0 693.8L298.9 693.9L299.8 693.6L300.6 693.5L301.5 693.8L302.4 694.0L303.2 693.7L304.1 694.0L305.0 693.6L305.9 693.1L306.8 693.3L307.6 692.8L308.5 692.2L309.4 692.1L310.2 692.2L311.1 692.0L312.0 691.5L312.9 691.0L313.7 691.2L314.6 691.1L315.4 690.5L316.3 690.7L317.1 690.0L318.0 690.0L319.0 688.7L320.0 688.2L321.0 687.0L321.9 682.8L322.8 678.0L323.8 672.0" stroke="#74b85a" stroke-width="1.05" fill="none" stroke-linejoin="round"/>
<rect x="217.6" y="647.7" width="106.3" height="70.9" fill="none" stroke="#7a7a7a" stroke-width="0.9"/>
<text x="215.4" y="662.1" font-size="5.3" text-anchor="end" fill="#333">0.00</text>
<text x="215.4" y="685.2" font-size="5.3" text-anchor="end" fill="#333">-0.25</text>
<path d="M217.6 660.2h-1.8M217.6 683.3h-1.8" stroke="#666" stroke-width="0.6"/>
<text x="217.2" y="644.7" font-size="6.6" font-weight="bold" text-anchor="start" fill="#111">VSSTAT5A_01</text>
<text x="221.0" y="689.0" font-size="5.5" font-weight="bold" text-anchor="start" fill="#111">NES = -1.25</text>
<text x="221.0" y="695.5" font-size="5.5" font-weight="bold" text-anchor="start" fill="#111"><tspan font-style="italic">q</tspan> = 0.1261</text>
<text x="201.8" y="673.5" font-size="5.8" text-anchor="middle" fill="#333" transform="rotate(-90 201.8 673.5)">Enrichment Score</text>
<rect x="376.5" y="647.7" width="107.0" height="70.2" fill="#fff"/>
<path d="M376.5 655.1H483.5" stroke="#bbb" stroke-width="0.6"/>
<path d="M377.50 698.3V713.3M388.65 698.3V713.3M392.66 698.3V713.3M395.56 698.3V713.3M402.06 698.3V713.3M435.68 698.3V713.3M440.73 698.3V713.3M475.24 698.3V713.3" stroke="#888" stroke-width="0.85"/>
<path d="M379.63 698.3V713.3M425.98 698.3V713.3M471.67 698.3V713.3M482.13 698.3V713.3" stroke="#111" stroke-width="0.85"/>
<path d="M381.02 698.3V713.3M390.15 698.3V713.3M397.43 698.3V713.3M418.28 698.3V713.3M421.97 698.3V713.3M449.21 698.3V713.3M451.57 698.3V713.3M466.09 698.3V713.3" stroke="#aaa" stroke-width="0.85"/>
<path d="M382.79 698.3V713.3M457.77 698.3V713.3" stroke="#444" stroke-width="0.85"/>
<path d="M385.60 698.3V713.3M408.06 698.3V713.3M431.49 698.3V713.3M433.20 698.3V713.3M434.39 698.3V713.3M438.69 698.3V713.3M442.93 698.3V713.3M455.36 698.3V713.3M460.26 698.3V713.3M462.42 698.3V713.3M477.79 698.3V713.3" stroke="#b4b4b4" stroke-width="0.85"/>
<path d="M399.47 698.3V713.3M420.63 698.3V713.3M480.72 698.3V713.3" stroke="#222" stroke-width="0.85"/>
<path d="M405.20 698.3V713.3M424.60 698.3V713.3M448.09 698.3V713.3M468.56 698.3V713.3M474.09 698.3V713.3" stroke="#999" stroke-width="0.85"/>
<path d="M411.16 698.3V713.3M413.48 698.3V713.3M429.75 698.3V713.3M453.73 698.3V713.3M464.20 698.3V713.3" stroke="#c0c0c0" stroke-width="0.85"/>
<path d="M416.67 698.3V713.3M427.46 698.3V713.3M446.04 698.3V713.3" stroke="#333" stroke-width="0.85"/>
<rect x="376.5" y="713.3" width="107.0" height="4.6" fill="url(#gg)"/>
<path d="M376.5 698.3H483.5" stroke="#ccc" stroke-width="0.4"/>
<path d="M376.5 655.0L377.4 655.0L378.2 654.2L379.1 654.5L380.0 654.0L380.8 653.8L381.6 653.0L382.4 652.7L383.2 652.1L384.0 652.0L385.0 651.2L386.0 651.0L387.0 650.3L388.0 650.2L389.0 649.5L390.0 649.5L391.0 650.1L392.0 650.4L393.0 651.0L393.8 651.2L394.7 651.6L395.5 651.3L396.3 651.4L397.2 651.8L398.0 652.0L398.8 652.7L399.7 652.6L400.5 653.2L401.3 653.1L402.2 653.8L403.0 654.0L403.9 654.8L404.8 654.9L405.6 655.3L406.5 655.7L407.4 656.3L408.2 656.9L409.1 657.6L410.0 658.0L410.8 658.8L411.7 659.0L412.5 660.1L413.3 660.1L414.2 660.9L415.0 661.7L415.8 662.4L416.7 663.0L417.5 663.6L418.3 663.5L419.2 664.7L420.0 665.0L420.8 665.3L421.7 666.3L422.5 666.9L423.3 667.6L424.2 668.0L425.0 668.9L425.8 669.8L426.7 670.5L427.5 670.7L428.3 671.9L429.2 672.2L430.0 673.0L430.8 673.7L431.7 674.2L432.5 675.1L433.3 675.7L434.2 676.6L435.0 676.7L435.8 677.6L436.7 678.7L437.5 678.7L438.3 679.4L439.2 680.5L440.0 681.0L440.8 681.9L441.7 681.9L442.5 682.5L443.3 683.5L444.2 683.9L445.0 684.8L445.8 684.8L446.7 685.4L447.5 686.0L448.3 686.8L449.2 687.2L450.0 688.0L450.8 688.5L451.6 688.7L452.4 689.6L453.2 689.9L454.0 690.3L454.8 690.8L455.6 691.4L456.4 691.9L457.2 692.8L458.0 693.0L459.0 693.9L460.0 694.5L461.0 694.3L462.0 693.5L463.0 693.0L463.8 692.5L464.7 692.8L465.5 692.7L466.3 692.7L467.2 691.8L468.0 692.0L468.8 691.6L469.7 692.0L470.5 691.6L471.3 691.3L472.2 691.3L473.0 691.5L473.8 691.6L474.7 691.4L475.5 691.5L476.3 691.4L477.2 691.1L478.0 691.0L478.8 690.4L479.7 689.9L480.5 689.5L481.4 686.0L482.3 683.0L483.5 677.0" stroke="#74b85a" stroke-width="1.05" fill="none" stroke-linejoin="round"/>
<rect x="376.5" y="647.7" width="107.0" height="70.2" fill="none" stroke="#7a7a7a" stroke-width="0.9"/>
<text x="374.3" y="657.0" font-size="5.3" text-anchor="end" fill="#333">0.00</text>
<text x="374.3" y="677.8" font-size="5.3" text-anchor="end" fill="#333">-0.25</text>
<text x="374.3" y="699.3" font-size="5.3" text-anchor="end" fill="#333">-0.50</text>
<path d="M376.5 655.1h-1.8M376.5 675.9h-1.8M376.5 697.4h-1.8" stroke="#666" stroke-width="0.6"/>
<text x="376.1" y="644.0" font-size="6.6" font-weight="bold" text-anchor="start" fill="#111">ANTI-APOPTOSIS</text>
<text x="380.7" y="688.6" font-size="5.5" font-weight="bold" text-anchor="start" fill="#111">NES = -1.38</text>
<text x="380.7" y="695.0" font-size="5.5" font-weight="bold" text-anchor="start" fill="#111"><tspan font-style="italic">q</tspan> = 0.0481</text>
<text x="359.6" y="673.5" font-size="5.8" text-anchor="middle" fill="#333" transform="rotate(-90 359.6 673.5)">Enrichment Score</text>
<text x="196.7" y="439.6" font-size="14.8" font-weight="bold" text-anchor="start" fill="#000">E</text>
<text x="196.8" y="543.1" font-size="14.8" font-weight="bold" text-anchor="start" fill="#000">F</text>
<text x="197.0" y="644.6" font-size="14.8" font-weight="bold" text-anchor="start" fill="#000">G</text>
<text x="355.6" y="645.1" font-size="14.8" font-weight="bold" text-anchor="start" fill="#000">H</text>
</svg></body></html>
